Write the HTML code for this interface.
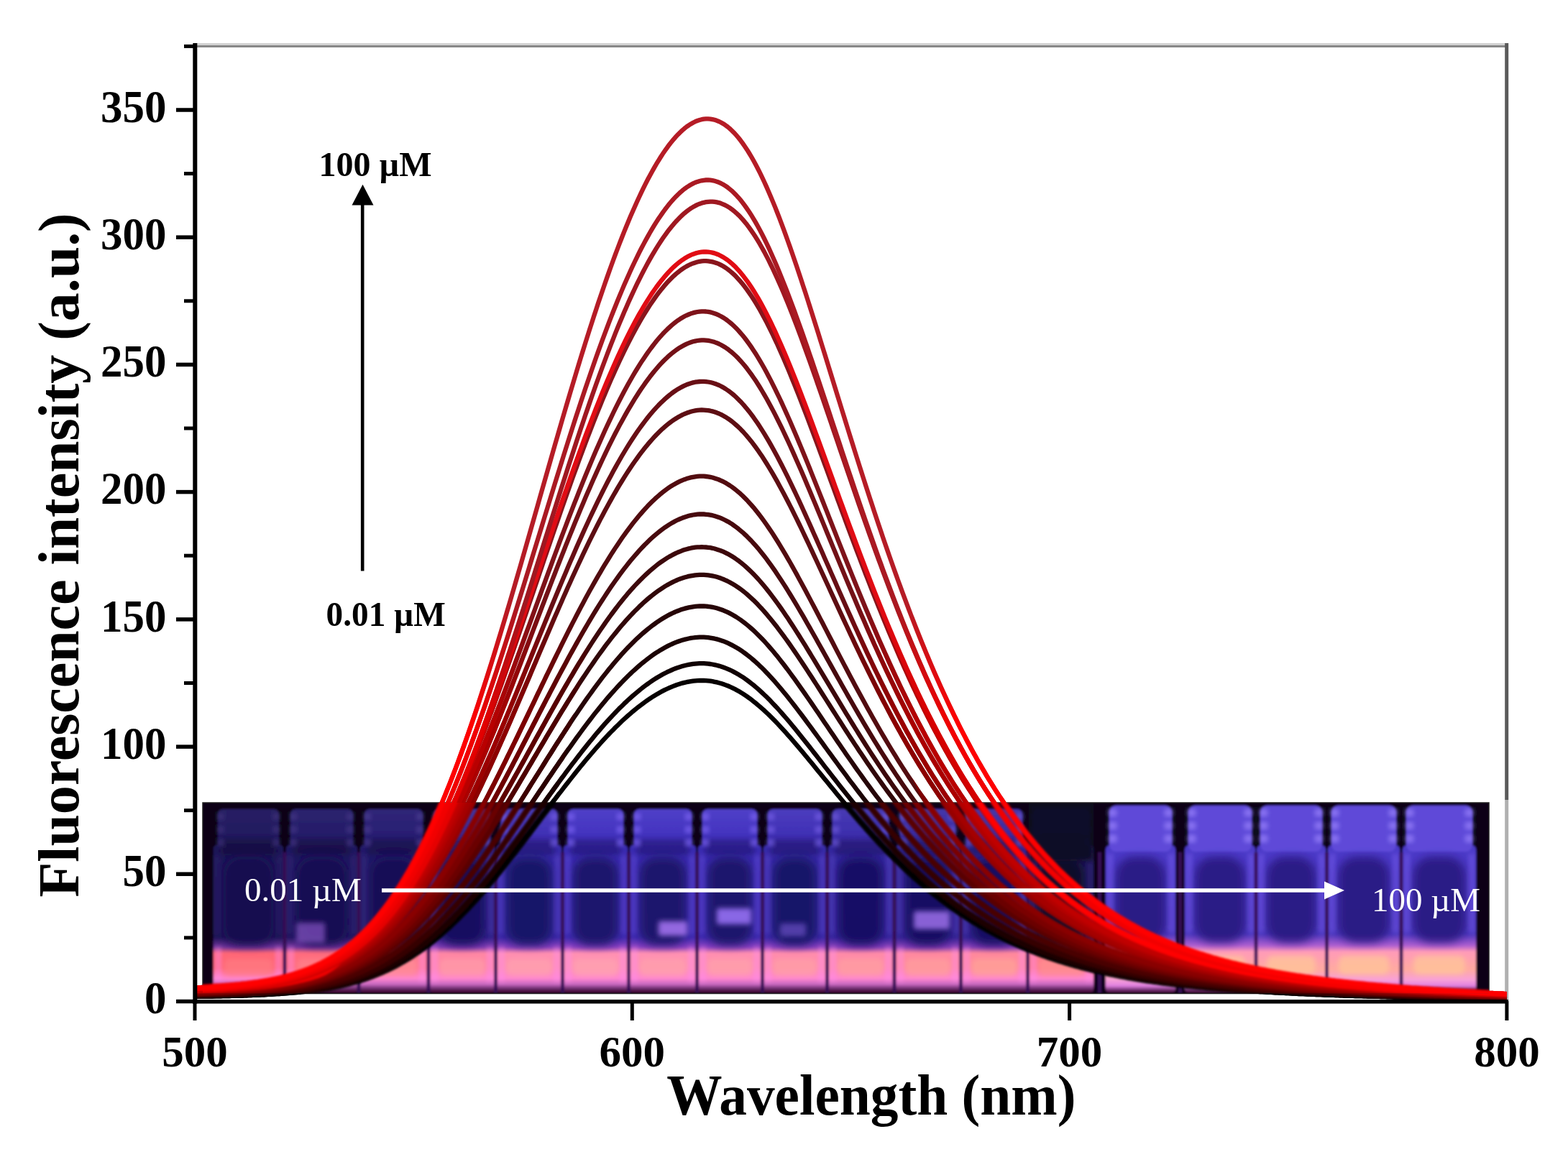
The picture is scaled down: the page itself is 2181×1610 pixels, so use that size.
<!DOCTYPE html>
<html><head><meta charset="utf-8"><style>
html,body{margin:0;padding:0;background:#fff;}
svg{display:block;}
.tl{font-family:"Liberation Serif",serif;font-weight:bold;font-size:61px;fill:#000;}
.ti{font-family:"Liberation Serif",serif;font-weight:bold;font-size:81px;fill:#000;}
.an{font-family:"Liberation Serif",serif;font-weight:bold;font-size:48px;fill:#000;}
.wh{font-family:"Liberation Serif",serif;font-size:47px;fill:#fff;}
</style></head><body>
<svg width="2181" height="1610" viewBox="0 0 2181 1610" xmlns="http://www.w3.org/2000/svg">
<defs>
<filter id="fb1" x="-5%" y="-5%" width="110%" height="110%"><feGaussianBlur stdDeviation="1.4"/></filter>
<filter id="fb3" x="-30%" y="-30%" width="160%" height="160%"><feGaussianBlur stdDeviation="3"/></filter>
<filter id="fb6" x="-40%" y="-40%" width="180%" height="180%"><feGaussianBlur stdDeviation="6"/></filter>
<linearGradient id="gl0" x1="0" y1="1176" x2="0" y2="1382" gradientUnits="userSpaceOnUse">
<stop offset="0" stop-color="#1d1658"/><stop offset="0.62" stop-color="#1e1557"/><stop offset="0.69" stop-color="#6e339a"/>
<stop offset="0.73" stop-color="#ff6676"/><stop offset="0.83" stop-color="#ff6676"/><stop offset="0.9" stop-color="#ff86d0"/>
<stop offset="0.94" stop-color="#c868c0"/><stop offset="0.97" stop-color="#6a2a6a"/><stop offset="1" stop-color="#300020"/></linearGradient>
<linearGradient id="cl0" x1="0" y1="1125" x2="0" y2="1190" gradientUnits="userSpaceOnUse">
<stop offset="0" stop-color="#282064"/><stop offset="0.5" stop-color="#221a60"/><stop offset="1" stop-color="#1a1354"/></linearGradient>
<linearGradient id="gl1" x1="0" y1="1176" x2="0" y2="1382" gradientUnits="userSpaceOnUse">
<stop offset="0" stop-color="#201861"/><stop offset="0.62" stop-color="#211760"/><stop offset="0.69" stop-color="#71349d"/>
<stop offset="0.73" stop-color="#ff6c7e"/><stop offset="0.83" stop-color="#ff6c7e"/><stop offset="0.9" stop-color="#ff86d0"/>
<stop offset="0.94" stop-color="#c868c0"/><stop offset="0.97" stop-color="#6a2a6a"/><stop offset="1" stop-color="#300020"/></linearGradient>
<linearGradient id="cl1" x1="0" y1="1125" x2="0" y2="1190" gradientUnits="userSpaceOnUse">
<stop offset="0" stop-color="#2c236e"/><stop offset="0.5" stop-color="#251d6a"/><stop offset="1" stop-color="#1d155c"/></linearGradient>
<linearGradient id="gl2" x1="0" y1="1176" x2="0" y2="1382" gradientUnits="userSpaceOnUse">
<stop offset="0" stop-color="#231a6a"/><stop offset="0.62" stop-color="#241968"/><stop offset="0.69" stop-color="#7436a1"/>
<stop offset="0.73" stop-color="#ff7890"/><stop offset="0.83" stop-color="#ff7890"/><stop offset="0.9" stop-color="#ff86d0"/>
<stop offset="0.94" stop-color="#c868c0"/><stop offset="0.97" stop-color="#6a2a6a"/><stop offset="1" stop-color="#300020"/></linearGradient>
<linearGradient id="cl2" x1="0" y1="1125" x2="0" y2="1190" gradientUnits="userSpaceOnUse">
<stop offset="0" stop-color="#302678"/><stop offset="0.5" stop-color="#291f73"/><stop offset="1" stop-color="#1f1765"/></linearGradient>
<linearGradient id="gl3" x1="0" y1="1176" x2="0" y2="1382" gradientUnits="userSpaceOnUse">
<stop offset="0" stop-color="#2e238d"/><stop offset="0.62" stop-color="#30228b"/><stop offset="0.69" stop-color="#7f3bb1"/>
<stop offset="0.73" stop-color="#ff86a4"/><stop offset="0.83" stop-color="#ff86a4"/><stop offset="0.9" stop-color="#ff86d0"/>
<stop offset="0.94" stop-color="#c868c0"/><stop offset="0.97" stop-color="#6a2a6a"/><stop offset="1" stop-color="#300020"/></linearGradient>
<linearGradient id="cl3" x1="0" y1="1125" x2="0" y2="1190" gradientUnits="userSpaceOnUse">
<stop offset="0" stop-color="#4033a0"/><stop offset="0.5" stop-color="#362a9a"/><stop offset="1" stop-color="#2a1e86"/></linearGradient>
<linearGradient id="gl4" x1="0" y1="1176" x2="0" y2="1382" gradientUnits="userSpaceOnUse">
<stop offset="0" stop-color="#372aa7"/><stop offset="0.62" stop-color="#3928a5"/><stop offset="0.69" stop-color="#873fbc"/>
<stop offset="0.73" stop-color="#ff8eb0"/><stop offset="0.83" stop-color="#ff8eb0"/><stop offset="0.9" stop-color="#ff86d0"/>
<stop offset="0.94" stop-color="#c868c0"/><stop offset="0.97" stop-color="#6a2a6a"/><stop offset="1" stop-color="#300020"/></linearGradient>
<linearGradient id="cl4" x1="0" y1="1125" x2="0" y2="1190" gradientUnits="userSpaceOnUse">
<stop offset="0" stop-color="#4c3dbe"/><stop offset="0.5" stop-color="#4131b6"/><stop offset="1" stop-color="#3124a0"/></linearGradient>
<linearGradient id="gl5" x1="0" y1="1176" x2="0" y2="1382" gradientUnits="userSpaceOnUse">
<stop offset="0" stop-color="#3a2cb0"/><stop offset="0.62" stop-color="#3c2aae"/><stop offset="0.69" stop-color="#8a40c0"/>
<stop offset="0.73" stop-color="#ff90b2"/><stop offset="0.83" stop-color="#ff90b2"/><stop offset="0.9" stop-color="#ff86d0"/>
<stop offset="0.94" stop-color="#c868c0"/><stop offset="0.97" stop-color="#6a2a6a"/><stop offset="1" stop-color="#300020"/></linearGradient>
<linearGradient id="cl5" x1="0" y1="1125" x2="0" y2="1190" gradientUnits="userSpaceOnUse">
<stop offset="0" stop-color="#5040c8"/><stop offset="0.5" stop-color="#4434c0"/><stop offset="1" stop-color="#3426a8"/></linearGradient>
<linearGradient id="gl6" x1="0" y1="1176" x2="0" y2="1382" gradientUnits="userSpaceOnUse">
<stop offset="0" stop-color="#3a2cb0"/><stop offset="0.62" stop-color="#3c2aae"/><stop offset="0.69" stop-color="#8a40c0"/>
<stop offset="0.73" stop-color="#ff90b2"/><stop offset="0.83" stop-color="#ff90b2"/><stop offset="0.9" stop-color="#ff86d0"/>
<stop offset="0.94" stop-color="#c868c0"/><stop offset="0.97" stop-color="#6a2a6a"/><stop offset="1" stop-color="#300020"/></linearGradient>
<linearGradient id="cl6" x1="0" y1="1125" x2="0" y2="1190" gradientUnits="userSpaceOnUse">
<stop offset="0" stop-color="#5040c8"/><stop offset="0.5" stop-color="#4434c0"/><stop offset="1" stop-color="#3426a8"/></linearGradient>
<linearGradient id="gl7" x1="0" y1="1176" x2="0" y2="1382" gradientUnits="userSpaceOnUse">
<stop offset="0" stop-color="#3a2cb0"/><stop offset="0.62" stop-color="#3c2aae"/><stop offset="0.69" stop-color="#8a40c0"/>
<stop offset="0.73" stop-color="#ff8eb0"/><stop offset="0.83" stop-color="#ff8eb0"/><stop offset="0.9" stop-color="#ff86d0"/>
<stop offset="0.94" stop-color="#c868c0"/><stop offset="0.97" stop-color="#6a2a6a"/><stop offset="1" stop-color="#300020"/></linearGradient>
<linearGradient id="cl7" x1="0" y1="1125" x2="0" y2="1190" gradientUnits="userSpaceOnUse">
<stop offset="0" stop-color="#5040c8"/><stop offset="0.5" stop-color="#4434c0"/><stop offset="1" stop-color="#3426a8"/></linearGradient>
<linearGradient id="gl8" x1="0" y1="1176" x2="0" y2="1382" gradientUnits="userSpaceOnUse">
<stop offset="0" stop-color="#372aa7"/><stop offset="0.62" stop-color="#3928a5"/><stop offset="0.69" stop-color="#873fbc"/>
<stop offset="0.73" stop-color="#ff8cac"/><stop offset="0.83" stop-color="#ff8cac"/><stop offset="0.9" stop-color="#ff86d0"/>
<stop offset="0.94" stop-color="#c868c0"/><stop offset="0.97" stop-color="#6a2a6a"/><stop offset="1" stop-color="#300020"/></linearGradient>
<linearGradient id="cl8" x1="0" y1="1125" x2="0" y2="1190" gradientUnits="userSpaceOnUse">
<stop offset="0" stop-color="#4c3dbe"/><stop offset="0.5" stop-color="#4131b6"/><stop offset="1" stop-color="#3124a0"/></linearGradient>
<linearGradient id="gl9" x1="0" y1="1176" x2="0" y2="1382" gradientUnits="userSpaceOnUse">
<stop offset="0" stop-color="#34289e"/><stop offset="0.62" stop-color="#36269d"/><stop offset="0.69" stop-color="#843db8"/>
<stop offset="0.73" stop-color="#ff8aa8"/><stop offset="0.83" stop-color="#ff8aa8"/><stop offset="0.9" stop-color="#ff86d0"/>
<stop offset="0.94" stop-color="#c868c0"/><stop offset="0.97" stop-color="#6a2a6a"/><stop offset="1" stop-color="#300020"/></linearGradient>
<linearGradient id="cl9" x1="0" y1="1125" x2="0" y2="1190" gradientUnits="userSpaceOnUse">
<stop offset="0" stop-color="#483ab4"/><stop offset="0.5" stop-color="#3d2fad"/><stop offset="1" stop-color="#2f2297"/></linearGradient>
<linearGradient id="gl10" x1="0" y1="1176" x2="0" y2="1382" gradientUnits="userSpaceOnUse">
<stop offset="0" stop-color="#312596"/><stop offset="0.62" stop-color="#332494"/><stop offset="0.69" stop-color="#823cb4"/>
<stop offset="0.73" stop-color="#ff88a0"/><stop offset="0.83" stop-color="#ff88a0"/><stop offset="0.9" stop-color="#ff86d0"/>
<stop offset="0.94" stop-color="#c868c0"/><stop offset="0.97" stop-color="#6a2a6a"/><stop offset="1" stop-color="#300020"/></linearGradient>
<linearGradient id="cl10" x1="0" y1="1125" x2="0" y2="1190" gradientUnits="userSpaceOnUse">
<stop offset="0" stop-color="#4436aa"/><stop offset="0.5" stop-color="#3a2ca3"/><stop offset="1" stop-color="#2c208f"/></linearGradient>
<linearGradient id="gl11" x1="0" y1="1176" x2="0" y2="1382" gradientUnits="userSpaceOnUse">
<stop offset="0" stop-color="#312596"/><stop offset="0.62" stop-color="#332494"/><stop offset="0.69" stop-color="#823cb4"/>
<stop offset="0.73" stop-color="#ff889c"/><stop offset="0.83" stop-color="#ff889c"/><stop offset="0.9" stop-color="#ff86d0"/>
<stop offset="0.94" stop-color="#c868c0"/><stop offset="0.97" stop-color="#6a2a6a"/><stop offset="1" stop-color="#300020"/></linearGradient>
<linearGradient id="cl11" x1="0" y1="1125" x2="0" y2="1190" gradientUnits="userSpaceOnUse">
<stop offset="0" stop-color="#4436aa"/><stop offset="0.5" stop-color="#3a2ca3"/><stop offset="1" stop-color="#2c208f"/></linearGradient>
<linearGradient id="gl12" x1="0" y1="1176" x2="0" y2="1382" gradientUnits="userSpaceOnUse">
<stop offset="0" stop-color="#201861"/><stop offset="0.62" stop-color="#211760"/><stop offset="0.69" stop-color="#71349d"/>
<stop offset="0.73" stop-color="#ff7a8c"/><stop offset="0.83" stop-color="#ff7a8c"/><stop offset="0.9" stop-color="#ff86d0"/>
<stop offset="0.94" stop-color="#c868c0"/><stop offset="0.97" stop-color="#6a2a6a"/><stop offset="1" stop-color="#300020"/></linearGradient>
<linearGradient id="cl12" x1="0" y1="1125" x2="0" y2="1190" gradientUnits="userSpaceOnUse">
<stop offset="0" stop-color="#2c236e"/><stop offset="0.5" stop-color="#251d6a"/><stop offset="1" stop-color="#1d155c"/></linearGradient>
<linearGradient id="gr0" x1="0" y1="1176" x2="0" y2="1382" gradientUnits="userSpaceOnUse">
<stop offset="0" stop-color="#4c3ac8"/><stop offset="0.6" stop-color="#4a36bc"/><stop offset="0.68" stop-color="#b060d0"/>
<stop offset="0.72" stop-color="#ff9ab8"/><stop offset="0.84" stop-color="#ffaaa0"/><stop offset="0.91" stop-color="#f8a0d8"/>
<stop offset="0.95" stop-color="#e080e0"/><stop offset="0.98" stop-color="#6a2a6a"/><stop offset="1" stop-color="#300020"/></linearGradient>
<linearGradient id="gr1" x1="0" y1="1176" x2="0" y2="1382" gradientUnits="userSpaceOnUse">
<stop offset="0" stop-color="#4c3ac8"/><stop offset="0.6" stop-color="#4a36bc"/><stop offset="0.68" stop-color="#b060d0"/>
<stop offset="0.72" stop-color="#ff9ab8"/><stop offset="0.84" stop-color="#ffaaa0"/><stop offset="0.91" stop-color="#f8a0d8"/>
<stop offset="0.95" stop-color="#e080e0"/><stop offset="0.98" stop-color="#6a2a6a"/><stop offset="1" stop-color="#300020"/></linearGradient>
<linearGradient id="gr2" x1="0" y1="1176" x2="0" y2="1382" gradientUnits="userSpaceOnUse">
<stop offset="0" stop-color="#4c3ac8"/><stop offset="0.6" stop-color="#4a36bc"/><stop offset="0.68" stop-color="#b060d0"/>
<stop offset="0.72" stop-color="#ff9ab8"/><stop offset="0.84" stop-color="#ffaaa0"/><stop offset="0.91" stop-color="#f8a0d8"/>
<stop offset="0.95" stop-color="#e080e0"/><stop offset="0.98" stop-color="#6a2a6a"/><stop offset="1" stop-color="#300020"/></linearGradient>
<linearGradient id="gr3" x1="0" y1="1176" x2="0" y2="1382" gradientUnits="userSpaceOnUse">
<stop offset="0" stop-color="#4c3ac8"/><stop offset="0.6" stop-color="#4a36bc"/><stop offset="0.68" stop-color="#b060d0"/>
<stop offset="0.72" stop-color="#ff9ab8"/><stop offset="0.84" stop-color="#ffaaa0"/><stop offset="0.91" stop-color="#f8a0d8"/>
<stop offset="0.95" stop-color="#e080e0"/><stop offset="0.98" stop-color="#6a2a6a"/><stop offset="1" stop-color="#300020"/></linearGradient>
<linearGradient id="gr4" x1="0" y1="1176" x2="0" y2="1382" gradientUnits="userSpaceOnUse">
<stop offset="0" stop-color="#4c3ac8"/><stop offset="0.6" stop-color="#4a36bc"/><stop offset="0.68" stop-color="#b060d0"/>
<stop offset="0.72" stop-color="#ff9ab8"/><stop offset="0.84" stop-color="#ffaaa0"/><stop offset="0.91" stop-color="#f8a0d8"/>
<stop offset="0.95" stop-color="#e080e0"/><stop offset="0.98" stop-color="#6a2a6a"/><stop offset="1" stop-color="#300020"/></linearGradient>
<polyline id="cv0" points="271.0,1374.4 274.0,1374.3 277.0,1374.1 280.0,1374.0 283.0,1373.8 286.0,1373.7 289.0,1373.5 292.0,1373.3 295.0,1373.1 298.0,1372.9 301.0,1372.7 304.0,1372.5 307.0,1372.3 310.0,1372.1 313.0,1371.9 316.0,1371.6 319.0,1371.4 322.0,1371.1 325.0,1370.9 328.0,1370.6 331.0,1370.3 334.0,1370.0 337.0,1369.6 340.0,1369.3 343.0,1369.0 346.0,1368.6 349.0,1368.2 352.0,1367.8 355.0,1367.4 358.0,1367.0 361.0,1366.5 364.0,1366.0 367.0,1365.5 370.0,1365.0 373.0,1364.5 376.0,1363.9 379.0,1363.3 382.0,1362.7 385.0,1362.1 388.0,1361.4 391.0,1360.7 394.0,1360.0 397.0,1359.2 400.0,1358.5 403.0,1357.6 406.0,1356.8 409.0,1355.9 412.0,1354.9 415.0,1354.0 418.0,1353.0 421.0,1351.9 424.0,1350.8 427.0,1349.7 430.0,1348.5 433.0,1347.2 436.0,1345.9 439.0,1344.6 442.0,1343.2 445.0,1341.8 448.0,1340.3 451.0,1338.7 454.0,1337.1 457.0,1335.4 460.0,1333.7 463.0,1331.8 466.0,1330.0 469.0,1328.0 472.0,1326.0 475.0,1323.9 478.0,1321.8 481.0,1319.5 484.0,1317.2 487.0,1314.8 490.0,1312.3 493.0,1309.8 496.0,1307.1 499.0,1304.4 502.0,1301.6 505.0,1298.7 508.0,1295.7 511.0,1292.6 514.0,1289.4 517.0,1286.1 520.0,1282.7 523.0,1279.2 526.0,1275.6 529.0,1271.9 532.0,1268.1 535.0,1264.2 538.0,1260.2 541.0,1256.1 544.0,1251.8 547.0,1247.5 550.0,1243.0 553.0,1238.4 556.0,1233.7 559.0,1228.9 562.0,1224.0 565.0,1218.9 568.0,1213.7 571.0,1208.4 574.0,1203.0 577.0,1197.5 580.0,1191.8 583.0,1186.0 586.0,1180.1 589.0,1174.0 592.0,1167.9 595.0,1161.6 598.0,1155.2 601.0,1148.6 604.0,1142.0 607.0,1135.2 610.0,1128.2 613.0,1121.2 616.0,1114.0 619.0,1106.7 622.0,1099.3 625.0,1091.8 628.0,1084.1 631.0,1076.4 634.0,1068.5 637.0,1060.5 640.0,1052.3 643.0,1044.1 646.0,1035.8 649.0,1027.3 652.0,1018.7 655.0,1010.0 658.0,1001.3 661.0,992.4 664.0,983.4 667.0,974.3 670.0,965.1 673.0,955.8 676.0,946.5 679.0,937.0 682.0,927.5 685.0,917.9 688.0,908.2 691.0,898.4 694.0,888.5 697.0,878.6 700.0,868.6 703.0,858.6 706.0,848.5 709.0,838.3 712.0,828.1 715.0,817.8 718.0,807.5 721.0,797.1 724.0,786.8 727.0,776.3 730.0,765.9 733.0,755.4 736.0,744.9 739.0,734.4 742.0,723.9 745.0,713.3 748.0,702.8 751.0,692.2 754.0,681.7 757.0,671.1 760.0,660.6 763.0,650.1 766.0,639.6 769.0,629.2 772.0,618.7 775.0,608.3 778.0,598.0 781.0,587.6 784.0,577.4 787.0,567.1 790.0,557.0 793.0,546.8 796.0,536.8 799.0,526.8 802.0,516.8 805.0,507.0 808.0,497.2 811.0,487.5 814.0,477.9 817.0,468.4 820.0,458.9 823.0,449.6 826.0,440.3 829.0,431.2 832.0,422.1 835.0,413.2 838.0,404.4 841.0,395.7 844.0,387.1 847.0,378.6 850.0,370.3 853.0,362.0 856.0,353.9 859.0,346.0 862.0,338.2 865.0,330.5 868.0,322.9 871.0,315.5 874.0,308.2 877.0,301.1 880.0,294.2 883.0,287.4 886.0,280.7 889.0,274.2 892.0,267.9 895.0,261.7 898.0,255.7 901.0,249.8 904.0,244.2 907.0,238.7 910.0,233.4 913.0,228.2 916.0,223.3 919.0,218.5 922.0,213.9 925.0,209.5 928.0,205.3 931.0,201.2 934.0,197.4 937.0,193.8 940.0,190.4 943.0,187.2 946.0,184.2 949.0,181.4 952.0,178.8 955.0,176.4 958.0,174.3 961.0,172.4 964.0,170.7 967.0,169.2 970.0,168.0 973.0,167.0 976.0,166.2 979.0,165.7 982.0,165.4 985.0,165.4 988.0,165.6 991.0,166.1 994.0,166.8 997.0,167.8 1000.0,169.0 1003.0,170.5 1006.0,172.2 1009.0,174.2 1012.0,176.4 1015.0,178.9 1018.0,181.7 1021.0,184.7 1024.0,188.0 1027.0,191.5 1030.0,195.3 1033.0,199.4 1036.0,203.7 1039.0,208.2 1042.0,213.0 1045.0,218.0 1048.0,223.3 1051.0,228.8 1054.0,234.5 1057.0,240.4 1060.0,246.6 1063.0,253.0 1066.0,259.6 1069.0,266.4 1072.0,273.4 1075.0,280.6 1078.0,287.9 1081.0,295.5 1084.0,303.2 1087.0,311.1 1090.0,319.1 1093.0,327.3 1096.0,335.7 1099.0,344.1 1102.0,352.7 1105.0,361.5 1108.0,370.3 1111.0,379.2 1114.0,388.3 1117.0,397.4 1120.0,406.6 1123.0,415.9 1126.0,425.3 1129.0,434.7 1132.0,444.2 1135.0,453.8 1138.0,463.3 1141.0,473.0 1144.0,482.6 1147.0,492.3 1150.0,502.0 1153.0,511.7 1156.0,521.5 1159.0,531.2 1162.0,541.0 1165.0,550.7 1168.0,560.4 1171.0,570.1 1174.0,579.8 1177.0,589.5 1180.0,599.1 1183.0,608.8 1186.0,618.3 1189.0,627.9 1192.0,637.4 1195.0,646.9 1198.0,656.3 1201.0,665.6 1204.0,675.0 1207.0,684.2 1210.0,693.4 1213.0,702.6 1216.0,711.7 1219.0,720.7 1222.0,729.7 1225.0,738.6 1228.0,747.4 1231.0,756.2 1234.0,764.9 1237.0,773.5 1240.0,782.0 1243.0,790.5 1246.0,798.9 1249.0,807.2 1252.0,815.4 1255.0,823.6 1258.0,831.7 1261.0,839.7 1264.0,847.6 1267.0,855.5 1270.0,863.2 1273.0,870.9 1276.0,878.5 1279.0,886.0 1282.0,893.5 1285.0,900.8 1288.0,908.1 1291.0,915.3 1294.0,922.4 1297.0,929.4 1300.0,936.4 1303.0,943.2 1306.0,950.0 1309.0,956.7 1312.0,963.3 1315.0,969.8 1318.0,976.3 1321.0,982.6 1324.0,988.9 1327.0,995.1 1330.0,1001.2 1333.0,1007.3 1336.0,1013.3 1339.0,1019.1 1342.0,1024.9 1345.0,1030.7 1348.0,1036.3 1351.0,1041.9 1354.0,1047.4 1357.0,1052.8 1360.0,1058.2 1363.0,1063.4 1366.0,1068.6 1369.0,1073.7 1372.0,1078.8 1375.0,1083.8 1378.0,1088.7 1381.0,1093.5 1384.0,1098.3 1387.0,1103.0 1390.0,1107.6 1393.0,1112.1 1396.0,1116.6 1399.0,1121.0 1402.0,1125.4 1405.0,1129.7 1408.0,1133.9 1411.0,1138.1 1414.0,1142.2 1417.0,1146.2 1420.0,1150.2 1423.0,1154.1 1426.0,1157.9 1429.0,1161.7 1432.0,1165.4 1435.0,1169.1 1438.0,1172.7 1441.0,1176.3 1444.0,1179.7 1447.0,1183.2 1450.0,1186.6 1453.0,1189.9 1456.0,1193.2 1459.0,1196.4 1462.0,1199.6 1465.0,1202.7 1468.0,1205.8 1471.0,1208.8 1474.0,1211.8 1477.0,1214.7 1480.0,1217.6 1483.0,1220.4 1486.0,1223.2 1489.0,1225.9 1492.0,1228.6 1495.0,1231.2 1498.0,1233.8 1501.0,1236.4 1504.0,1238.9 1507.0,1241.4 1510.0,1243.8 1513.0,1246.2 1516.0,1248.5 1519.0,1250.8 1522.0,1253.1 1525.0,1255.3 1528.0,1257.5 1531.0,1259.7 1534.0,1261.8 1537.0,1263.9 1540.0,1265.9 1543.0,1268.0 1546.0,1269.9 1549.0,1271.9 1552.0,1273.8 1555.0,1275.7 1558.0,1277.5 1561.0,1279.3 1564.0,1281.1 1567.0,1282.9 1570.0,1284.6 1573.0,1286.3 1576.0,1287.9 1579.0,1289.6 1582.0,1291.2 1585.0,1292.8 1588.0,1294.3 1591.0,1295.9 1594.0,1297.4 1597.0,1298.8 1600.0,1300.3 1603.0,1301.7 1606.0,1303.1 1609.0,1304.5 1612.0,1305.8 1615.0,1307.2 1618.0,1308.5 1621.0,1309.8 1624.0,1311.0 1627.0,1312.3 1630.0,1313.5 1633.0,1314.7 1636.0,1315.9 1639.0,1317.0 1642.0,1318.1 1645.0,1319.3 1648.0,1320.4 1651.0,1321.4 1654.0,1322.5 1657.0,1323.6 1660.0,1324.6 1663.0,1325.6 1666.0,1326.6 1669.0,1327.6 1672.0,1328.5 1675.0,1329.5 1678.0,1330.4 1681.0,1331.3 1684.0,1332.2 1687.0,1333.1 1690.0,1333.9 1693.0,1334.8 1696.0,1335.6 1699.0,1336.4 1702.0,1337.3 1705.0,1338.1 1708.0,1338.8 1711.0,1339.6 1714.0,1340.4 1717.0,1341.1 1720.0,1341.8 1723.0,1342.6 1726.0,1343.3 1729.0,1344.0 1732.0,1344.7 1735.0,1345.3 1738.0,1346.0 1741.0,1346.6 1744.0,1347.3 1747.0,1347.9 1750.0,1348.5 1753.0,1349.2 1756.0,1349.8 1759.0,1350.3 1762.0,1350.9 1765.0,1351.5 1768.0,1352.1 1771.0,1352.6 1774.0,1353.2 1777.0,1353.7 1780.0,1354.2 1783.0,1354.8 1786.0,1355.3 1789.0,1355.8 1792.0,1356.3 1795.0,1356.8 1798.0,1357.2 1801.0,1357.7 1804.0,1358.2 1807.0,1358.6 1810.0,1359.1 1813.0,1359.5 1816.0,1360.0 1819.0,1360.4 1822.0,1360.8 1825.0,1361.3 1828.0,1361.7 1831.0,1362.1 1834.0,1362.5 1837.0,1362.9 1840.0,1363.3 1843.0,1363.6 1846.0,1364.0 1849.0,1364.4 1852.0,1364.8 1855.0,1365.1 1858.0,1365.5 1861.0,1365.8 1864.0,1366.2 1867.0,1366.5 1870.0,1366.9 1873.0,1367.2 1876.0,1367.5 1879.0,1367.8 1882.0,1368.2 1885.0,1368.5 1888.0,1368.8 1891.0,1369.1 1894.0,1369.4 1897.0,1369.7 1900.0,1370.0 1903.0,1370.3 1906.0,1370.5 1909.0,1370.8 1912.0,1371.1 1915.0,1371.4 1918.0,1371.6 1921.0,1371.9 1924.0,1372.2 1927.0,1372.4 1930.0,1372.7 1933.0,1372.9 1936.0,1373.2 1939.0,1373.4 1942.0,1373.7 1945.0,1373.9 1948.0,1374.1 1951.0,1374.4 1954.0,1374.6 1957.0,1374.8 1960.0,1375.0 1963.0,1375.3 1966.0,1375.5 1969.0,1375.7 1972.0,1375.9 1975.0,1376.1 1978.0,1376.3 1981.0,1376.5 1984.0,1376.7 1987.0,1376.9 1990.0,1377.1 1993.0,1377.3 1996.0,1377.5 1999.0,1377.7 2002.0,1377.9 2005.0,1378.1 2008.0,1378.3 2011.0,1378.5 2014.0,1378.6 2017.0,1378.8 2020.0,1379.0 2023.0,1379.2 2026.0,1379.3 2029.0,1379.5 2032.0,1379.7 2035.0,1379.8 2038.0,1380.0 2041.0,1380.2 2044.0,1380.3 2047.0,1380.5 2050.0,1380.6 2053.0,1380.8 2056.0,1380.9 2059.0,1381.1 2062.0,1381.3 2065.0,1381.4 2068.0,1381.5 2071.0,1381.7 2074.0,1381.8 2077.0,1382.0 2080.0,1382.1 2083.0,1382.3 2086.0,1382.4 2089.0,1382.5 2092.0,1382.7 2095.0,1382.8 2095.5,1382.8"/>
<polyline id="cv1" points="271.0,1375.7 274.0,1375.6 277.0,1375.5 280.0,1375.3 283.0,1375.2 286.0,1375.0 289.0,1374.9 292.0,1374.7 295.0,1374.5 298.0,1374.4 301.0,1374.2 304.0,1374.0 307.0,1373.8 310.0,1373.6 313.0,1373.4 316.0,1373.1 319.0,1372.9 322.0,1372.7 325.0,1372.4 328.0,1372.2 331.0,1371.9 334.0,1371.6 337.0,1371.3 340.0,1371.0 343.0,1370.7 346.0,1370.3 349.0,1370.0 352.0,1369.6 355.0,1369.2 358.0,1368.8 361.0,1368.4 364.0,1367.9 367.0,1367.5 370.0,1367.0 373.0,1366.5 376.0,1366.0 379.0,1365.4 382.0,1364.9 385.0,1364.3 388.0,1363.6 391.0,1363.0 394.0,1362.3 397.0,1361.6 400.0,1360.9 403.0,1360.1 406.0,1359.3 409.0,1358.5 412.0,1357.6 415.0,1356.7 418.0,1355.8 421.0,1354.8 424.0,1353.8 427.0,1352.7 430.0,1351.6 433.0,1350.4 436.0,1349.2 439.0,1348.0 442.0,1346.7 445.0,1345.4 448.0,1344.0 451.0,1342.5 454.0,1341.0 457.0,1339.4 460.0,1337.8 463.0,1336.1 466.0,1334.4 469.0,1332.6 472.0,1330.7 475.0,1328.7 478.0,1326.7 481.0,1324.6 484.0,1322.5 487.0,1320.3 490.0,1318.0 493.0,1315.6 496.0,1313.1 499.0,1310.6 502.0,1308.0 505.0,1305.2 508.0,1302.4 511.0,1299.6 514.0,1296.6 517.0,1293.5 520.0,1290.4 523.0,1287.1 526.0,1283.8 529.0,1280.3 532.0,1276.8 535.0,1273.2 538.0,1269.4 541.0,1265.6 544.0,1261.6 547.0,1257.6 550.0,1253.4 553.0,1249.2 556.0,1244.8 559.0,1240.3 562.0,1235.7 565.0,1231.0 568.0,1226.2 571.0,1221.2 574.0,1216.2 577.0,1211.0 580.0,1205.8 583.0,1200.4 586.0,1194.9 589.0,1189.2 592.0,1183.5 595.0,1177.6 598.0,1171.7 601.0,1165.6 604.0,1159.4 607.0,1153.1 610.0,1146.6 613.0,1140.1 616.0,1133.4 619.0,1126.6 622.0,1119.7 625.0,1112.7 628.0,1105.6 631.0,1098.3 634.0,1091.0 637.0,1083.5 640.0,1076.0 643.0,1068.3 646.0,1060.5 649.0,1052.7 652.0,1044.7 655.0,1036.6 658.0,1028.4 661.0,1020.2 664.0,1011.8 667.0,1003.3 670.0,994.8 673.0,986.2 676.0,977.4 679.0,968.6 682.0,959.8 685.0,950.8 688.0,941.8 691.0,932.7 694.0,923.5 697.0,914.3 700.0,905.0 703.0,895.6 706.0,886.2 709.0,876.8 712.0,867.2 715.0,857.7 718.0,848.1 721.0,838.5 724.0,828.8 727.0,819.1 730.0,809.4 733.0,799.6 736.0,789.8 739.0,780.0 742.0,770.2 745.0,760.4 748.0,750.6 751.0,740.8 754.0,731.0 757.0,721.2 760.0,711.4 763.0,701.6 766.0,691.8 769.0,682.1 772.0,672.4 775.0,662.7 778.0,653.1 781.0,643.5 784.0,633.9 787.0,624.4 790.0,614.9 793.0,605.5 796.0,596.1 799.0,586.8 802.0,577.6 805.0,568.4 808.0,559.3 811.0,550.3 814.0,541.3 817.0,532.4 820.0,523.7 823.0,515.0 826.0,506.4 829.0,497.8 832.0,489.4 835.0,481.1 838.0,472.9 841.0,464.8 844.0,456.8 847.0,448.9 850.0,441.1 853.0,433.5 856.0,426.0 859.0,418.5 862.0,411.3 865.0,404.1 868.0,397.1 871.0,390.2 874.0,383.4 877.0,376.8 880.0,370.3 883.0,364.0 886.0,357.8 889.0,351.7 892.0,345.8 895.0,340.1 898.0,334.5 901.0,329.1 904.0,323.8 907.0,318.7 910.0,313.7 913.0,308.9 916.0,304.3 919.0,299.9 922.0,295.6 925.0,291.5 928.0,287.6 931.0,283.8 934.0,280.3 937.0,276.9 940.0,273.7 943.0,270.7 946.0,267.9 949.0,265.3 952.0,262.9 955.0,260.7 958.0,258.8 961.0,257.0 964.0,255.4 967.0,254.0 970.0,252.9 973.0,252.0 976.0,251.3 979.0,250.8 982.0,250.5 985.0,250.5 988.0,250.7 991.0,251.1 994.0,251.8 997.0,252.7 1000.0,253.8 1003.0,255.2 1006.0,256.8 1009.0,258.6 1012.0,260.7 1015.0,263.1 1018.0,265.6 1021.0,268.5 1024.0,271.5 1027.0,274.8 1030.0,278.3 1033.0,282.1 1036.0,286.1 1039.0,290.3 1042.0,294.7 1045.0,299.4 1048.0,304.3 1051.0,309.4 1054.0,314.8 1057.0,320.3 1060.0,326.0 1063.0,332.0 1066.0,338.1 1069.0,344.4 1072.0,351.0 1075.0,357.7 1078.0,364.5 1081.0,371.5 1084.0,378.7 1087.0,386.1 1090.0,393.6 1093.0,401.2 1096.0,408.9 1099.0,416.8 1102.0,424.8 1105.0,432.9 1108.0,441.2 1111.0,449.5 1114.0,457.9 1117.0,466.4 1120.0,475.0 1123.0,483.6 1126.0,492.4 1129.0,501.1 1132.0,510.0 1135.0,518.9 1138.0,527.8 1141.0,536.7 1144.0,545.7 1147.0,554.7 1150.0,563.8 1153.0,572.8 1156.0,581.9 1159.0,590.9 1162.0,600.0 1165.0,609.1 1168.0,618.1 1171.0,627.2 1174.0,636.2 1177.0,645.2 1180.0,654.2 1183.0,663.1 1186.0,672.0 1189.0,680.9 1192.0,689.8 1195.0,698.6 1198.0,707.3 1201.0,716.1 1204.0,724.7 1207.0,733.4 1210.0,741.9 1213.0,750.4 1216.0,758.9 1219.0,767.3 1222.0,775.7 1225.0,783.9 1228.0,792.2 1231.0,800.3 1234.0,808.4 1237.0,816.4 1240.0,824.4 1243.0,832.3 1246.0,840.1 1249.0,847.8 1252.0,855.5 1255.0,863.1 1258.0,870.6 1261.0,878.1 1264.0,885.4 1267.0,892.7 1270.0,900.0 1273.0,907.1 1276.0,914.2 1279.0,921.2 1282.0,928.1 1285.0,934.9 1288.0,941.7 1291.0,948.4 1294.0,955.0 1297.0,961.6 1300.0,968.0 1303.0,974.4 1306.0,980.7 1309.0,986.9 1312.0,993.1 1315.0,999.2 1318.0,1005.2 1321.0,1011.1 1324.0,1016.9 1327.0,1022.7 1330.0,1028.4 1333.0,1034.0 1336.0,1039.6 1339.0,1045.1 1342.0,1050.5 1345.0,1055.8 1348.0,1061.1 1351.0,1066.2 1354.0,1071.4 1357.0,1076.4 1360.0,1081.4 1363.0,1086.3 1366.0,1091.1 1369.0,1095.9 1372.0,1100.6 1375.0,1105.2 1378.0,1109.8 1381.0,1114.3 1384.0,1118.7 1387.0,1123.1 1390.0,1127.4 1393.0,1131.6 1396.0,1135.8 1399.0,1139.9 1402.0,1144.0 1405.0,1148.0 1408.0,1151.9 1411.0,1155.8 1414.0,1159.6 1417.0,1163.3 1420.0,1167.0 1423.0,1170.6 1426.0,1174.2 1429.0,1177.8 1432.0,1181.2 1435.0,1184.6 1438.0,1188.0 1441.0,1191.3 1444.0,1194.6 1447.0,1197.8 1450.0,1200.9 1453.0,1204.0 1456.0,1207.1 1459.0,1210.1 1462.0,1213.0 1465.0,1215.9 1468.0,1218.8 1471.0,1221.6 1474.0,1224.3 1477.0,1227.1 1480.0,1229.7 1483.0,1232.4 1486.0,1235.0 1489.0,1237.5 1492.0,1240.0 1495.0,1242.5 1498.0,1244.9 1501.0,1247.3 1504.0,1249.6 1507.0,1251.9 1510.0,1254.2 1513.0,1256.4 1516.0,1258.6 1519.0,1260.7 1522.0,1262.8 1525.0,1264.9 1528.0,1266.9 1531.0,1269.0 1534.0,1270.9 1537.0,1272.9 1540.0,1274.8 1543.0,1276.6 1546.0,1278.5 1549.0,1280.3 1552.0,1282.1 1555.0,1283.8 1558.0,1285.5 1561.0,1287.2 1564.0,1288.9 1567.0,1290.5 1570.0,1292.1 1573.0,1293.7 1576.0,1295.3 1579.0,1296.8 1582.0,1298.3 1585.0,1299.8 1588.0,1301.2 1591.0,1302.6 1594.0,1304.0 1597.0,1305.4 1600.0,1306.7 1603.0,1308.1 1606.0,1309.4 1609.0,1310.6 1612.0,1311.9 1615.0,1313.1 1618.0,1314.4 1621.0,1315.6 1624.0,1316.7 1627.0,1317.9 1630.0,1319.0 1633.0,1320.1 1636.0,1321.2 1639.0,1322.3 1642.0,1323.4 1645.0,1324.4 1648.0,1325.4 1651.0,1326.4 1654.0,1327.4 1657.0,1328.4 1660.0,1329.4 1663.0,1330.3 1666.0,1331.2 1669.0,1332.1 1672.0,1333.0 1675.0,1333.9 1678.0,1334.8 1681.0,1335.6 1684.0,1336.4 1687.0,1337.3 1690.0,1338.1 1693.0,1338.9 1696.0,1339.6 1699.0,1340.4 1702.0,1341.2 1705.0,1341.9 1708.0,1342.6 1711.0,1343.3 1714.0,1344.0 1717.0,1344.7 1720.0,1345.4 1723.0,1346.1 1726.0,1346.8 1729.0,1347.4 1732.0,1348.0 1735.0,1348.7 1738.0,1349.3 1741.0,1349.9 1744.0,1350.5 1747.0,1351.1 1750.0,1351.7 1753.0,1352.2 1756.0,1352.8 1759.0,1353.3 1762.0,1353.9 1765.0,1354.4 1768.0,1354.9 1771.0,1355.5 1774.0,1356.0 1777.0,1356.5 1780.0,1357.0 1783.0,1357.4 1786.0,1357.9 1789.0,1358.4 1792.0,1358.9 1795.0,1359.3 1798.0,1359.8 1801.0,1360.2 1804.0,1360.6 1807.0,1361.1 1810.0,1361.5 1813.0,1361.9 1816.0,1362.3 1819.0,1362.7 1822.0,1363.1 1825.0,1363.5 1828.0,1363.9 1831.0,1364.3 1834.0,1364.6 1837.0,1365.0 1840.0,1365.4 1843.0,1365.7 1846.0,1366.1 1849.0,1366.4 1852.0,1366.8 1855.0,1367.1 1858.0,1367.4 1861.0,1367.7 1864.0,1368.1 1867.0,1368.4 1870.0,1368.7 1873.0,1369.0 1876.0,1369.3 1879.0,1369.6 1882.0,1369.9 1885.0,1370.2 1888.0,1370.5 1891.0,1370.8 1894.0,1371.0 1897.0,1371.3 1900.0,1371.6 1903.0,1371.9 1906.0,1372.1 1909.0,1372.4 1912.0,1372.6 1915.0,1372.9 1918.0,1373.1 1921.0,1373.4 1924.0,1373.6 1927.0,1373.9 1930.0,1374.1 1933.0,1374.4 1936.0,1374.6 1939.0,1374.8 1942.0,1375.0 1945.0,1375.3 1948.0,1375.5 1951.0,1375.7 1954.0,1375.9 1957.0,1376.1 1960.0,1376.3 1963.0,1376.5 1966.0,1376.7 1969.0,1376.9 1972.0,1377.1 1975.0,1377.3 1978.0,1377.5 1981.0,1377.7 1984.0,1377.9 1987.0,1378.1 1990.0,1378.3 1993.0,1378.5 1996.0,1378.6 1999.0,1378.8 2002.0,1379.0 2005.0,1379.2 2008.0,1379.3 2011.0,1379.5 2014.0,1379.7 2017.0,1379.8 2020.0,1380.0 2023.0,1380.2 2026.0,1380.3 2029.0,1380.5 2032.0,1380.6 2035.0,1380.8 2038.0,1380.9 2041.0,1381.1 2044.0,1381.2 2047.0,1381.4 2050.0,1381.5 2053.0,1381.7 2056.0,1381.8 2059.0,1382.0 2062.0,1382.1 2065.0,1382.2 2068.0,1382.4 2071.0,1382.5 2074.0,1382.6 2077.0,1382.8 2080.0,1382.9 2083.0,1383.0 2086.0,1383.2 2089.0,1383.3 2092.0,1383.4 2095.0,1383.5 2095.5,1383.6"/>
<polyline id="cv2" points="271.0,1376.4 274.0,1376.3 277.0,1376.2 280.0,1376.0 283.0,1375.9 286.0,1375.8 289.0,1375.6 292.0,1375.5 295.0,1375.3 298.0,1375.2 301.0,1375.0 304.0,1374.8 307.0,1374.6 310.0,1374.4 313.0,1374.2 316.0,1374.0 319.0,1373.8 322.0,1373.6 325.0,1373.4 328.0,1373.1 331.0,1372.9 334.0,1372.6 337.0,1372.4 340.0,1372.1 343.0,1371.8 346.0,1371.5 349.0,1371.2 352.0,1370.8 355.0,1370.5 358.0,1370.1 361.0,1369.7 364.0,1369.3 367.0,1368.9 370.0,1368.5 373.0,1368.0 376.0,1367.5 379.0,1367.0 382.0,1366.5 385.0,1366.0 388.0,1365.4 391.0,1364.8 394.0,1364.2 397.0,1363.6 400.0,1362.9 403.0,1362.2 406.0,1361.5 409.0,1360.7 412.0,1359.9 415.0,1359.1 418.0,1358.3 421.0,1357.4 424.0,1356.4 427.0,1355.5 430.0,1354.5 433.0,1353.4 436.0,1352.3 439.0,1351.2 442.0,1350.0 445.0,1348.8 448.0,1347.5 451.0,1346.2 454.0,1344.8 457.0,1343.4 460.0,1341.9 463.0,1340.3 466.0,1338.7 469.0,1337.1 472.0,1335.3 475.0,1333.6 478.0,1331.7 481.0,1329.8 484.0,1327.8 487.0,1325.8 490.0,1323.7 493.0,1321.5 496.0,1319.2 499.0,1316.8 502.0,1314.4 505.0,1311.9 508.0,1309.3 511.0,1306.7 514.0,1303.9 517.0,1301.1 520.0,1298.2 523.0,1295.2 526.0,1292.1 529.0,1288.9 532.0,1285.6 535.0,1282.2 538.0,1278.7 541.0,1275.1 544.0,1271.5 547.0,1267.7 550.0,1263.8 553.0,1259.8 556.0,1255.7 559.0,1251.6 562.0,1247.3 565.0,1242.9 568.0,1238.3 571.0,1233.7 574.0,1229.0 577.0,1224.2 580.0,1219.2 583.0,1214.2 586.0,1209.0 589.0,1203.7 592.0,1198.3 595.0,1192.8 598.0,1187.2 601.0,1181.4 604.0,1175.6 607.0,1169.6 610.0,1163.5 613.0,1157.3 616.0,1151.0 619.0,1144.6 622.0,1138.1 625.0,1131.4 628.0,1124.7 631.0,1117.8 634.0,1110.8 637.0,1103.7 640.0,1096.6 643.0,1089.3 646.0,1081.9 649.0,1074.4 652.0,1066.8 655.0,1059.1 658.0,1051.3 661.0,1043.4 664.0,1035.4 667.0,1027.3 670.0,1019.1 673.0,1010.9 676.0,1002.5 679.0,994.1 682.0,985.6 685.0,977.0 688.0,968.3 691.0,959.5 694.0,950.7 697.0,941.8 700.0,932.9 703.0,923.9 706.0,914.8 709.0,905.7 712.0,896.5 715.0,887.3 718.0,878.0 721.0,868.7 724.0,859.3 727.0,849.9 730.0,840.5 733.0,831.1 736.0,821.6 739.0,812.1 742.0,802.6 745.0,793.0 748.0,783.5 751.0,773.9 754.0,764.4 757.0,754.8 760.0,745.3 763.0,735.7 766.0,726.2 769.0,716.7 772.0,707.2 775.0,697.7 778.0,688.3 781.0,678.8 784.0,669.5 787.0,660.1 790.0,650.8 793.0,641.6 796.0,632.4 799.0,623.2 802.0,614.1 805.0,605.1 808.0,596.1 811.0,587.2 814.0,578.3 817.0,569.6 820.0,560.9 823.0,552.3 826.0,543.8 829.0,535.3 832.0,527.0 835.0,518.7 838.0,510.5 841.0,502.5 844.0,494.5 847.0,486.7 850.0,478.9 853.0,471.3 856.0,463.7 859.0,456.3 862.0,449.0 865.0,441.9 868.0,434.8 871.0,427.9 874.0,421.1 877.0,414.4 880.0,407.9 883.0,401.5 886.0,395.2 889.0,389.1 892.0,383.1 895.0,377.3 898.0,371.6 901.0,366.0 904.0,360.6 907.0,355.4 910.0,350.3 913.0,345.4 916.0,340.6 919.0,336.0 922.0,331.6 925.0,327.3 928.0,323.2 931.0,319.2 934.0,315.5 937.0,311.9 940.0,308.5 943.0,305.3 946.0,302.2 949.0,299.4 952.0,296.7 955.0,294.3 958.0,292.0 961.0,289.9 964.0,288.1 967.0,286.4 970.0,284.9 973.0,283.7 976.0,282.6 979.0,281.8 982.0,281.2 985.0,280.8 988.0,280.6 991.0,280.6 994.0,280.9 997.0,281.4 1000.0,282.1 1003.0,283.1 1006.0,284.3 1009.0,285.7 1012.0,287.3 1015.0,289.2 1018.0,291.3 1021.0,293.7 1024.0,296.3 1027.0,299.1 1030.0,302.1 1033.0,305.4 1036.0,308.9 1039.0,312.6 1042.0,316.6 1045.0,320.8 1048.0,325.2 1051.0,329.8 1054.0,334.7 1057.0,339.7 1060.0,345.0 1063.0,350.4 1066.0,356.1 1069.0,361.9 1072.0,368.0 1075.0,374.2 1078.0,380.6 1081.0,387.2 1084.0,393.9 1087.0,400.8 1090.0,407.8 1093.0,415.0 1096.0,422.4 1099.0,429.8 1102.0,437.4 1105.0,445.1 1108.0,453.0 1111.0,460.9 1114.0,469.0 1117.0,477.1 1120.0,485.3 1123.0,493.6 1126.0,502.0 1129.0,510.4 1132.0,519.0 1135.0,527.5 1138.0,536.1 1141.0,544.8 1144.0,553.5 1147.0,562.2 1150.0,571.0 1153.0,579.8 1156.0,588.6 1159.0,597.4 1162.0,606.2 1165.0,615.0 1168.0,623.9 1171.0,632.7 1174.0,641.5 1177.0,650.3 1180.0,659.1 1183.0,667.8 1186.0,676.6 1189.0,685.3 1192.0,693.9 1195.0,702.6 1198.0,711.2 1201.0,719.7 1204.0,728.3 1207.0,736.7 1210.0,745.2 1213.0,753.5 1216.0,761.9 1219.0,770.1 1222.0,778.4 1225.0,786.5 1228.0,794.6 1231.0,802.7 1234.0,810.7 1237.0,818.6 1240.0,826.4 1243.0,834.2 1246.0,841.9 1249.0,849.6 1252.0,857.2 1255.0,864.7 1258.0,872.1 1261.0,879.5 1264.0,886.8 1267.0,894.0 1270.0,901.2 1273.0,908.3 1276.0,915.3 1279.0,922.2 1282.0,929.1 1285.0,935.9 1288.0,942.6 1291.0,949.2 1294.0,955.8 1297.0,962.3 1300.0,968.7 1303.0,975.0 1306.0,981.3 1309.0,987.5 1312.0,993.6 1315.0,999.7 1318.0,1005.6 1321.0,1011.5 1324.0,1017.3 1327.0,1023.1 1330.0,1028.7 1333.0,1034.3 1336.0,1039.9 1339.0,1045.3 1342.0,1050.7 1345.0,1056.0 1348.0,1061.2 1351.0,1066.4 1354.0,1071.5 1357.0,1076.5 1360.0,1081.5 1363.0,1086.4 1366.0,1091.2 1369.0,1096.0 1372.0,1100.6 1375.0,1105.3 1378.0,1109.8 1381.0,1114.3 1384.0,1118.7 1387.0,1123.1 1390.0,1127.4 1393.0,1131.6 1396.0,1135.8 1399.0,1139.9 1402.0,1143.9 1405.0,1147.9 1408.0,1151.8 1411.0,1155.7 1414.0,1159.5 1417.0,1163.3 1420.0,1167.0 1423.0,1170.6 1426.0,1174.2 1429.0,1177.7 1432.0,1181.2 1435.0,1184.6 1438.0,1187.9 1441.0,1191.2 1444.0,1194.5 1447.0,1197.7 1450.0,1200.8 1453.0,1203.9 1456.0,1207.0 1459.0,1210.0 1462.0,1213.0 1465.0,1215.9 1468.0,1218.7 1471.0,1221.5 1474.0,1224.3 1477.0,1227.0 1480.0,1229.7 1483.0,1232.3 1486.0,1234.9 1489.0,1237.5 1492.0,1240.0 1495.0,1242.4 1498.0,1244.9 1501.0,1247.2 1504.0,1249.6 1507.0,1251.9 1510.0,1254.1 1513.0,1256.4 1516.0,1258.6 1519.0,1260.7 1522.0,1262.8 1525.0,1264.9 1528.0,1267.0 1531.0,1269.0 1534.0,1270.9 1537.0,1272.9 1540.0,1274.8 1543.0,1276.7 1546.0,1278.5 1549.0,1280.3 1552.0,1282.1 1555.0,1283.9 1558.0,1285.6 1561.0,1287.3 1564.0,1288.9 1567.0,1290.6 1570.0,1292.2 1573.0,1293.8 1576.0,1295.3 1579.0,1296.8 1582.0,1298.3 1585.0,1299.8 1588.0,1301.3 1591.0,1302.7 1594.0,1304.1 1597.0,1305.5 1600.0,1306.8 1603.0,1308.1 1606.0,1309.5 1609.0,1310.7 1612.0,1312.0 1615.0,1313.2 1618.0,1314.5 1621.0,1315.7 1624.0,1316.8 1627.0,1318.0 1630.0,1319.1 1633.0,1320.2 1636.0,1321.3 1639.0,1322.4 1642.0,1323.5 1645.0,1324.5 1648.0,1325.6 1651.0,1326.6 1654.0,1327.6 1657.0,1328.5 1660.0,1329.5 1663.0,1330.4 1666.0,1331.3 1669.0,1332.3 1672.0,1333.2 1675.0,1334.0 1678.0,1334.9 1681.0,1335.7 1684.0,1336.6 1687.0,1337.4 1690.0,1338.2 1693.0,1339.0 1696.0,1339.8 1699.0,1340.6 1702.0,1341.3 1705.0,1342.0 1708.0,1342.8 1711.0,1343.5 1714.0,1344.2 1717.0,1344.9 1720.0,1345.6 1723.0,1346.2 1726.0,1346.9 1729.0,1347.6 1732.0,1348.2 1735.0,1348.8 1738.0,1349.4 1741.0,1350.0 1744.0,1350.6 1747.0,1351.2 1750.0,1351.8 1753.0,1352.4 1756.0,1352.9 1759.0,1353.5 1762.0,1354.0 1765.0,1354.6 1768.0,1355.1 1771.0,1355.6 1774.0,1356.1 1777.0,1356.6 1780.0,1357.1 1783.0,1357.6 1786.0,1358.1 1789.0,1358.5 1792.0,1359.0 1795.0,1359.5 1798.0,1359.9 1801.0,1360.4 1804.0,1360.8 1807.0,1361.2 1810.0,1361.6 1813.0,1362.1 1816.0,1362.5 1819.0,1362.9 1822.0,1363.3 1825.0,1363.6 1828.0,1364.0 1831.0,1364.4 1834.0,1364.8 1837.0,1365.1 1840.0,1365.5 1843.0,1365.9 1846.0,1366.2 1849.0,1366.6 1852.0,1366.9 1855.0,1367.2 1858.0,1367.6 1861.0,1367.9 1864.0,1368.2 1867.0,1368.5 1870.0,1368.8 1873.0,1369.2 1876.0,1369.5 1879.0,1369.8 1882.0,1370.0 1885.0,1370.3 1888.0,1370.6 1891.0,1370.9 1894.0,1371.2 1897.0,1371.5 1900.0,1371.7 1903.0,1372.0 1906.0,1372.3 1909.0,1372.5 1912.0,1372.8 1915.0,1373.0 1918.0,1373.3 1921.0,1373.5 1924.0,1373.8 1927.0,1374.0 1930.0,1374.2 1933.0,1374.5 1936.0,1374.7 1939.0,1374.9 1942.0,1375.2 1945.0,1375.4 1948.0,1375.6 1951.0,1375.8 1954.0,1376.0 1957.0,1376.2 1960.0,1376.4 1963.0,1376.6 1966.0,1376.8 1969.0,1377.0 1972.0,1377.2 1975.0,1377.4 1978.0,1377.6 1981.0,1377.8 1984.0,1378.0 1987.0,1378.2 1990.0,1378.4 1993.0,1378.6 1996.0,1378.7 1999.0,1378.9 2002.0,1379.1 2005.0,1379.3 2008.0,1379.4 2011.0,1379.6 2014.0,1379.8 2017.0,1379.9 2020.0,1380.1 2023.0,1380.2 2026.0,1380.4 2029.0,1380.6 2032.0,1380.7 2035.0,1380.9 2038.0,1381.0 2041.0,1381.2 2044.0,1381.3 2047.0,1381.5 2050.0,1381.6 2053.0,1381.8 2056.0,1381.9 2059.0,1382.0 2062.0,1382.2 2065.0,1382.3 2068.0,1382.4 2071.0,1382.6 2074.0,1382.7 2077.0,1382.8 2080.0,1383.0 2083.0,1383.1 2086.0,1383.2 2089.0,1383.4 2092.0,1383.5 2095.0,1383.6 2095.5,1383.6"/>
<polyline id="cv3" points="271.0,1377.2 274.0,1377.1 277.0,1376.9 280.0,1376.8 283.0,1376.6 286.0,1376.5 289.0,1376.4 292.0,1376.2 295.0,1376.0 298.0,1375.9 301.0,1375.7 304.0,1375.5 307.0,1375.3 310.0,1375.1 313.0,1374.9 316.0,1374.7 319.0,1374.5 322.0,1374.3 325.0,1374.0 328.0,1373.8 331.0,1373.5 334.0,1373.2 337.0,1373.0 340.0,1372.7 343.0,1372.3 346.0,1372.0 349.0,1371.7 352.0,1371.3 355.0,1371.0 358.0,1370.6 361.0,1370.2 364.0,1369.8 367.0,1369.3 370.0,1368.9 373.0,1368.4 376.0,1367.9 379.0,1367.4 382.0,1366.8 385.0,1366.3 388.0,1365.7 391.0,1365.0 394.0,1364.4 397.0,1363.7 400.0,1363.0 403.0,1362.3 406.0,1361.5 409.0,1360.8 412.0,1359.9 415.0,1359.1 418.0,1358.2 421.0,1357.2 424.0,1356.3 427.0,1355.3 430.0,1354.2 433.0,1353.1 436.0,1352.0 439.0,1350.8 442.0,1349.6 445.0,1348.3 448.0,1347.0 451.0,1345.6 454.0,1344.2 457.0,1342.7 460.0,1341.1 463.0,1339.5 466.0,1337.9 469.0,1336.2 472.0,1334.4 475.0,1332.6 478.0,1330.7 481.0,1328.7 484.0,1326.7 487.0,1324.6 490.0,1322.4 493.0,1320.1 496.0,1317.8 499.0,1315.4 502.0,1313.0 505.0,1310.4 508.0,1307.8 511.0,1305.1 514.0,1302.3 517.0,1299.4 520.0,1296.4 523.0,1293.4 526.0,1290.2 529.0,1287.0 532.0,1283.7 535.0,1280.3 538.0,1276.8 541.0,1273.2 544.0,1269.5 547.0,1265.7 550.0,1261.8 553.0,1257.8 556.0,1253.7 559.0,1249.5 562.0,1245.2 565.0,1240.8 568.0,1236.3 571.0,1231.7 574.0,1227.0 577.0,1222.2 580.0,1217.3 583.0,1212.2 586.0,1207.1 589.0,1201.9 592.0,1196.5 595.0,1191.1 598.0,1185.5 601.0,1179.9 604.0,1174.1 607.0,1168.2 610.0,1162.2 613.0,1156.1 616.0,1149.9 619.0,1143.6 622.0,1137.3 625.0,1130.8 628.0,1124.1 631.0,1117.4 634.0,1110.6 637.0,1103.7 640.0,1096.7 643.0,1089.7 646.0,1082.5 649.0,1075.2 652.0,1067.8 655.0,1060.4 658.0,1052.8 661.0,1045.2 664.0,1037.5 667.0,1029.7 670.0,1021.8 673.0,1013.8 676.0,1005.8 679.0,997.7 682.0,989.5 685.0,981.3 688.0,973.0 691.0,964.6 694.0,956.2 697.0,947.7 700.0,939.2 703.0,930.6 706.0,921.9 709.0,913.3 712.0,904.5 715.0,895.8 718.0,887.0 721.0,878.2 724.0,869.3 727.0,860.4 730.0,851.5 733.0,842.6 736.0,833.7 739.0,824.7 742.0,815.8 745.0,806.8 748.0,797.9 751.0,788.9 754.0,780.0 757.0,771.0 760.0,762.1 763.0,753.2 766.0,744.3 769.0,735.5 772.0,726.6 775.0,717.8 778.0,709.0 781.0,700.3 784.0,691.6 787.0,683.0 790.0,674.4 793.0,665.8 796.0,657.3 799.0,648.9 802.0,640.5 805.0,632.2 808.0,624.0 811.0,615.8 814.0,607.7 817.0,599.7 820.0,591.8 823.0,583.9 826.0,576.2 829.0,568.5 832.0,560.9 835.0,553.4 838.0,546.0 841.0,538.7 844.0,531.5 847.0,524.4 850.0,517.4 853.0,510.6 856.0,503.8 859.0,497.1 862.0,490.6 865.0,484.2 868.0,477.9 871.0,471.7 874.0,465.7 877.0,459.8 880.0,454.0 883.0,448.3 886.0,442.8 889.0,437.4 892.0,432.2 895.0,427.1 898.0,422.1 901.0,417.3 904.0,412.6 907.0,408.1 910.0,403.8 913.0,399.5 916.0,395.5 919.0,391.6 922.0,387.9 925.0,384.3 928.0,380.9 931.0,377.6 934.0,374.5 937.0,371.6 940.0,368.9 943.0,366.4 946.0,364.0 949.0,361.8 952.0,359.8 955.0,358.0 958.0,356.3 961.0,354.9 964.0,353.7 967.0,352.6 970.0,351.8 973.0,351.1 976.0,350.7 979.0,350.5 982.0,350.4 985.0,350.6 988.0,351.0 991.0,351.6 994.0,352.4 997.0,353.5 1000.0,354.7 1003.0,356.2 1006.0,357.9 1009.0,359.8 1012.0,361.9 1015.0,364.3 1018.0,366.8 1021.0,369.6 1024.0,372.6 1027.0,375.8 1030.0,379.3 1033.0,382.9 1036.0,386.8 1039.0,390.8 1042.0,395.1 1045.0,399.6 1048.0,404.2 1051.0,409.1 1054.0,414.1 1057.0,419.4 1060.0,424.8 1063.0,430.4 1066.0,436.2 1069.0,442.1 1072.0,448.2 1075.0,454.5 1078.0,460.9 1081.0,467.5 1084.0,474.2 1087.0,481.0 1090.0,487.9 1093.0,495.0 1096.0,502.2 1099.0,509.5 1102.0,516.9 1105.0,524.4 1108.0,532.0 1111.0,539.7 1114.0,547.5 1117.0,555.3 1120.0,563.2 1123.0,571.2 1126.0,579.2 1129.0,587.2 1132.0,595.3 1135.0,603.5 1138.0,611.7 1141.0,619.9 1144.0,628.1 1147.0,636.3 1150.0,644.6 1153.0,652.8 1156.0,661.1 1159.0,669.4 1162.0,677.7 1165.0,685.9 1168.0,694.2 1171.0,702.4 1174.0,710.6 1177.0,718.8 1180.0,727.0 1183.0,735.1 1186.0,743.2 1189.0,751.3 1192.0,759.3 1195.0,767.3 1198.0,775.3 1201.0,783.2 1204.0,791.1 1207.0,798.9 1210.0,806.7 1213.0,814.4 1216.0,822.1 1219.0,829.7 1222.0,837.2 1225.0,844.7 1228.0,852.2 1231.0,859.6 1234.0,866.9 1237.0,874.1 1240.0,881.3 1243.0,888.5 1246.0,895.5 1249.0,902.5 1252.0,909.5 1255.0,916.3 1258.0,923.1 1261.0,929.9 1264.0,936.5 1267.0,943.1 1270.0,949.6 1273.0,956.1 1276.0,962.5 1279.0,968.8 1282.0,975.0 1285.0,981.2 1288.0,987.3 1291.0,993.4 1294.0,999.3 1297.0,1005.2 1300.0,1011.0 1303.0,1016.8 1306.0,1022.5 1309.0,1028.1 1312.0,1033.6 1315.0,1039.1 1318.0,1044.5 1321.0,1049.9 1324.0,1055.1 1327.0,1060.3 1330.0,1065.5 1333.0,1070.5 1336.0,1075.5 1339.0,1080.5 1342.0,1085.3 1345.0,1090.1 1348.0,1094.9 1351.0,1099.5 1354.0,1104.1 1357.0,1108.7 1360.0,1113.2 1363.0,1117.6 1366.0,1121.9 1369.0,1126.2 1372.0,1130.4 1375.0,1134.6 1378.0,1138.7 1381.0,1142.7 1384.0,1146.7 1387.0,1150.7 1390.0,1154.5 1393.0,1158.3 1396.0,1162.1 1399.0,1165.8 1402.0,1169.4 1405.0,1173.0 1408.0,1176.5 1411.0,1180.0 1414.0,1183.4 1417.0,1186.8 1420.0,1190.1 1423.0,1193.4 1426.0,1196.6 1429.0,1199.8 1432.0,1202.9 1435.0,1206.0 1438.0,1209.0 1441.0,1212.0 1444.0,1214.9 1447.0,1217.7 1450.0,1220.6 1453.0,1223.4 1456.0,1226.1 1459.0,1228.8 1462.0,1231.4 1465.0,1234.1 1468.0,1236.6 1471.0,1239.1 1474.0,1241.6 1477.0,1244.1 1480.0,1246.5 1483.0,1248.8 1486.0,1251.1 1489.0,1253.4 1492.0,1255.7 1495.0,1257.9 1498.0,1260.0 1501.0,1262.2 1504.0,1264.3 1507.0,1266.3 1510.0,1268.4 1513.0,1270.4 1516.0,1272.3 1519.0,1274.3 1522.0,1276.2 1525.0,1278.0 1528.0,1279.8 1531.0,1281.6 1534.0,1283.4 1537.0,1285.2 1540.0,1286.9 1543.0,1288.5 1546.0,1290.2 1549.0,1291.8 1552.0,1293.4 1555.0,1295.0 1558.0,1296.5 1561.0,1298.0 1564.0,1299.5 1567.0,1301.0 1570.0,1302.4 1573.0,1303.9 1576.0,1305.2 1579.0,1306.6 1582.0,1307.9 1585.0,1309.3 1588.0,1310.6 1591.0,1311.8 1594.0,1313.1 1597.0,1314.3 1600.0,1315.5 1603.0,1316.7 1606.0,1317.9 1609.0,1319.0 1612.0,1320.2 1615.0,1321.3 1618.0,1322.4 1621.0,1323.4 1624.0,1324.5 1627.0,1325.5 1630.0,1326.5 1633.0,1327.5 1636.0,1328.5 1639.0,1329.5 1642.0,1330.4 1645.0,1331.4 1648.0,1332.3 1651.0,1333.2 1654.0,1334.1 1657.0,1335.0 1660.0,1335.8 1663.0,1336.7 1666.0,1337.5 1669.0,1338.3 1672.0,1339.1 1675.0,1339.9 1678.0,1340.7 1681.0,1341.4 1684.0,1342.2 1687.0,1342.9 1690.0,1343.6 1693.0,1344.3 1696.0,1345.0 1699.0,1345.7 1702.0,1346.4 1705.0,1347.1 1708.0,1347.7 1711.0,1348.4 1714.0,1349.0 1717.0,1349.6 1720.0,1350.2 1723.0,1350.8 1726.0,1351.4 1729.0,1352.0 1732.0,1352.6 1735.0,1353.1 1738.0,1353.7 1741.0,1354.2 1744.0,1354.8 1747.0,1355.3 1750.0,1355.8 1753.0,1356.3 1756.0,1356.8 1759.0,1357.3 1762.0,1357.8 1765.0,1358.3 1768.0,1358.8 1771.0,1359.2 1774.0,1359.7 1777.0,1360.2 1780.0,1360.6 1783.0,1361.0 1786.0,1361.5 1789.0,1361.9 1792.0,1362.3 1795.0,1362.7 1798.0,1363.1 1801.0,1363.5 1804.0,1363.9 1807.0,1364.3 1810.0,1364.7 1813.0,1365.0 1816.0,1365.4 1819.0,1365.8 1822.0,1366.1 1825.0,1366.5 1828.0,1366.8 1831.0,1367.2 1834.0,1367.5 1837.0,1367.8 1840.0,1368.1 1843.0,1368.5 1846.0,1368.8 1849.0,1369.1 1852.0,1369.4 1855.0,1369.7 1858.0,1370.0 1861.0,1370.3 1864.0,1370.6 1867.0,1370.9 1870.0,1371.2 1873.0,1371.4 1876.0,1371.7 1879.0,1372.0 1882.0,1372.2 1885.0,1372.5 1888.0,1372.8 1891.0,1373.0 1894.0,1373.3 1897.0,1373.5 1900.0,1373.8 1903.0,1374.0 1906.0,1374.2 1909.0,1374.5 1912.0,1374.7 1915.0,1374.9 1918.0,1375.2 1921.0,1375.4 1924.0,1375.6 1927.0,1375.8 1930.0,1376.0 1933.0,1376.2 1936.0,1376.4 1939.0,1376.6 1942.0,1376.9 1945.0,1377.1 1948.0,1377.2 1951.0,1377.4 1954.0,1377.6 1957.0,1377.8 1960.0,1378.0 1963.0,1378.2 1966.0,1378.4 1969.0,1378.6 1972.0,1378.7 1975.0,1378.9 1978.0,1379.1 1981.0,1379.3 1984.0,1379.4 1987.0,1379.6 1990.0,1379.8 1993.0,1379.9 1996.0,1380.1 1999.0,1380.3 2002.0,1380.4 2005.0,1380.6 2008.0,1380.7 2011.0,1380.9 2014.0,1381.0 2017.0,1381.2 2020.0,1381.3 2023.0,1381.5 2026.0,1381.6 2029.0,1381.8 2032.0,1381.9 2035.0,1382.0 2038.0,1382.2 2041.0,1382.3 2044.0,1382.4 2047.0,1382.6 2050.0,1382.7 2053.0,1382.8 2056.0,1383.0 2059.0,1383.1 2062.0,1383.2 2065.0,1383.3 2068.0,1383.5 2071.0,1383.6 2074.0,1383.7 2077.0,1383.8 2080.0,1384.0 2083.0,1384.1 2086.0,1384.2 2089.0,1384.3 2092.0,1384.4 2095.0,1384.5 2095.5,1384.5"/>
<polyline id="cv4" points="271.0,1377.4 274.0,1377.3 277.0,1377.1 280.0,1377.0 283.0,1376.9 286.0,1376.7 289.0,1376.6 292.0,1376.4 295.0,1376.3 298.0,1376.1 301.0,1375.9 304.0,1375.7 307.0,1375.6 310.0,1375.4 313.0,1375.2 316.0,1374.9 319.0,1374.7 322.0,1374.5 325.0,1374.3 328.0,1374.0 331.0,1373.8 334.0,1373.5 337.0,1373.2 340.0,1372.9 343.0,1372.6 346.0,1372.3 349.0,1371.9 352.0,1371.6 355.0,1371.2 358.0,1370.9 361.0,1370.5 364.0,1370.0 367.0,1369.6 370.0,1369.2 373.0,1368.7 376.0,1368.2 379.0,1367.7 382.0,1367.1 385.0,1366.6 388.0,1366.0 391.0,1365.4 394.0,1364.8 397.0,1364.1 400.0,1363.4 403.0,1362.7 406.0,1361.9 409.0,1361.2 412.0,1360.3 415.0,1359.5 418.0,1358.6 421.0,1357.7 424.0,1356.7 427.0,1355.7 430.0,1354.7 433.0,1353.6 436.0,1352.5 439.0,1351.3 442.0,1350.1 445.0,1348.8 448.0,1347.5 451.0,1346.2 454.0,1344.8 457.0,1343.3 460.0,1341.8 463.0,1340.2 466.0,1338.6 469.0,1336.9 472.0,1335.1 475.0,1333.3 478.0,1331.4 481.0,1329.5 484.0,1327.5 487.0,1325.4 490.0,1323.3 493.0,1321.0 496.0,1318.8 499.0,1316.4 502.0,1313.9 505.0,1311.4 508.0,1308.8 511.0,1306.2 514.0,1303.4 517.0,1300.5 520.0,1297.6 523.0,1294.6 526.0,1291.5 529.0,1288.3 532.0,1285.0 535.0,1281.7 538.0,1278.2 541.0,1274.6 544.0,1271.0 547.0,1267.2 550.0,1263.4 553.0,1259.4 556.0,1255.4 559.0,1251.3 562.0,1247.0 565.0,1242.7 568.0,1238.2 571.0,1233.7 574.0,1229.0 577.0,1224.3 580.0,1219.4 583.0,1214.5 586.0,1209.4 589.0,1204.2 592.0,1198.9 595.0,1193.5 598.0,1188.1 601.0,1182.5 604.0,1176.8 607.0,1171.0 610.0,1165.1 613.0,1159.0 616.0,1152.9 619.0,1146.7 622.0,1140.4 625.0,1134.0 628.0,1127.4 631.0,1120.8 634.0,1114.1 637.0,1107.3 640.0,1100.4 643.0,1093.4 646.0,1086.3 649.0,1079.1 652.0,1071.8 655.0,1064.4 658.0,1057.0 661.0,1049.4 664.0,1041.8 667.0,1034.1 670.0,1026.3 673.0,1018.5 676.0,1010.5 679.0,1002.5 682.0,994.5 685.0,986.3 688.0,978.1 691.0,969.8 694.0,961.5 697.0,953.1 700.0,944.7 703.0,936.2 706.0,927.7 709.0,919.1 712.0,910.5 715.0,901.9 718.0,893.2 721.0,884.5 724.0,875.7 727.0,867.0 730.0,858.2 733.0,849.4 736.0,840.5 739.0,831.7 742.0,822.9 745.0,814.0 748.0,805.2 751.0,796.3 754.0,787.5 757.0,778.6 760.0,769.8 763.0,761.0 766.0,752.3 769.0,743.5 772.0,734.8 775.0,726.1 778.0,717.4 781.0,708.8 784.0,700.2 787.0,691.7 790.0,683.2 793.0,674.7 796.0,666.3 799.0,658.0 802.0,649.8 805.0,641.5 808.0,633.4 811.0,625.3 814.0,617.3 817.0,609.4 820.0,601.6 823.0,593.8 826.0,586.2 829.0,578.6 832.0,571.1 835.0,563.7 838.0,556.4 841.0,549.2 844.0,542.1 847.0,535.0 850.0,528.1 853.0,521.4 856.0,514.7 859.0,508.1 862.0,501.7 865.0,495.3 868.0,489.1 871.0,483.0 874.0,477.0 877.0,471.2 880.0,465.5 883.0,459.9 886.0,454.5 889.0,449.1 892.0,444.0 895.0,438.9 898.0,434.0 901.0,429.3 904.0,424.6 907.0,420.2 910.0,415.9 913.0,411.7 916.0,407.7 919.0,403.8 922.0,400.2 925.0,396.6 928.0,393.2 931.0,390.0 934.0,387.0 937.0,384.1 940.0,381.4 943.0,378.9 946.0,376.6 949.0,374.4 952.0,372.4 955.0,370.6 958.0,369.0 961.0,367.6 964.0,366.4 967.0,365.4 970.0,364.5 973.0,363.9 976.0,363.4 979.0,363.2 982.0,363.2 985.0,363.4 988.0,363.8 991.0,364.4 994.0,365.2 997.0,366.2 1000.0,367.4 1003.0,368.9 1006.0,370.5 1009.0,372.4 1012.0,374.5 1015.0,376.9 1018.0,379.4 1021.0,382.1 1024.0,385.1 1027.0,388.3 1030.0,391.7 1033.0,395.3 1036.0,399.1 1039.0,403.1 1042.0,407.3 1045.0,411.7 1048.0,416.3 1051.0,421.1 1054.0,426.1 1057.0,431.3 1060.0,436.7 1063.0,442.2 1066.0,447.9 1069.0,453.8 1072.0,459.8 1075.0,466.0 1078.0,472.3 1081.0,478.8 1084.0,485.4 1087.0,492.1 1090.0,499.0 1093.0,506.0 1096.0,513.1 1099.0,520.3 1102.0,527.7 1105.0,535.1 1108.0,542.6 1111.0,550.2 1114.0,557.8 1117.0,565.6 1120.0,573.4 1123.0,581.2 1126.0,589.1 1129.0,597.1 1132.0,605.1 1135.0,613.1 1138.0,621.2 1141.0,629.3 1144.0,637.4 1147.0,645.6 1150.0,653.7 1153.0,661.9 1156.0,670.1 1159.0,678.2 1162.0,686.4 1165.0,694.6 1168.0,702.7 1171.0,710.9 1174.0,719.0 1177.0,727.1 1180.0,735.1 1183.0,743.2 1186.0,751.2 1189.0,759.2 1192.0,767.1 1195.0,775.0 1198.0,782.9 1201.0,790.7 1204.0,798.5 1207.0,806.2 1210.0,813.9 1213.0,821.5 1216.0,829.1 1219.0,836.6 1222.0,844.0 1225.0,851.4 1228.0,858.8 1231.0,866.1 1234.0,873.3 1237.0,880.5 1240.0,887.6 1243.0,894.6 1246.0,901.6 1249.0,908.5 1252.0,915.4 1255.0,922.2 1258.0,928.9 1261.0,935.5 1264.0,942.1 1267.0,948.6 1270.0,955.1 1273.0,961.4 1276.0,967.8 1279.0,974.0 1282.0,980.2 1285.0,986.3 1288.0,992.3 1291.0,998.3 1294.0,1004.1 1297.0,1010.0 1300.0,1015.7 1303.0,1021.4 1306.0,1027.0 1309.0,1032.6 1312.0,1038.0 1315.0,1043.5 1318.0,1048.8 1321.0,1054.1 1324.0,1059.3 1327.0,1064.4 1330.0,1069.5 1333.0,1074.5 1336.0,1079.4 1339.0,1084.3 1342.0,1089.1 1345.0,1093.8 1348.0,1098.5 1351.0,1103.1 1354.0,1107.7 1357.0,1112.2 1360.0,1116.6 1363.0,1120.9 1366.0,1125.2 1369.0,1129.5 1372.0,1133.6 1375.0,1137.8 1378.0,1141.8 1381.0,1145.8 1384.0,1149.7 1387.0,1153.6 1390.0,1157.4 1393.0,1161.2 1396.0,1164.9 1399.0,1168.6 1402.0,1172.2 1405.0,1175.7 1408.0,1179.2 1411.0,1182.6 1414.0,1186.0 1417.0,1189.3 1420.0,1192.6 1423.0,1195.8 1426.0,1199.0 1429.0,1202.2 1432.0,1205.2 1435.0,1208.3 1438.0,1211.2 1441.0,1214.2 1444.0,1217.1 1447.0,1219.9 1450.0,1222.7 1453.0,1225.4 1456.0,1228.1 1459.0,1230.8 1462.0,1233.4 1465.0,1236.0 1468.0,1238.5 1471.0,1241.0 1474.0,1243.5 1477.0,1245.9 1480.0,1248.3 1483.0,1250.6 1486.0,1252.9 1489.0,1255.1 1492.0,1257.4 1495.0,1259.5 1498.0,1261.7 1501.0,1263.8 1504.0,1265.9 1507.0,1267.9 1510.0,1269.9 1513.0,1271.9 1516.0,1273.8 1519.0,1275.7 1522.0,1277.6 1525.0,1279.4 1528.0,1281.2 1531.0,1283.0 1534.0,1284.8 1537.0,1286.5 1540.0,1288.2 1543.0,1289.8 1546.0,1291.5 1549.0,1293.1 1552.0,1294.6 1555.0,1296.2 1558.0,1297.7 1561.0,1299.2 1564.0,1300.7 1567.0,1302.1 1570.0,1303.5 1573.0,1304.9 1576.0,1306.3 1579.0,1307.7 1582.0,1309.0 1585.0,1310.3 1588.0,1311.6 1591.0,1312.8 1594.0,1314.1 1597.0,1315.3 1600.0,1316.5 1603.0,1317.7 1606.0,1318.8 1609.0,1320.0 1612.0,1321.1 1615.0,1322.2 1618.0,1323.2 1621.0,1324.3 1624.0,1325.3 1627.0,1326.4 1630.0,1327.4 1633.0,1328.4 1636.0,1329.3 1639.0,1330.3 1642.0,1331.2 1645.0,1332.1 1648.0,1333.0 1651.0,1333.9 1654.0,1334.8 1657.0,1335.7 1660.0,1336.5 1663.0,1337.4 1666.0,1338.2 1669.0,1339.0 1672.0,1339.8 1675.0,1340.5 1678.0,1341.3 1681.0,1342.1 1684.0,1342.8 1687.0,1343.5 1690.0,1344.2 1693.0,1344.9 1696.0,1345.6 1699.0,1346.3 1702.0,1347.0 1705.0,1347.6 1708.0,1348.3 1711.0,1348.9 1714.0,1349.5 1717.0,1350.2 1720.0,1350.8 1723.0,1351.4 1726.0,1351.9 1729.0,1352.5 1732.0,1353.1 1735.0,1353.6 1738.0,1354.2 1741.0,1354.7 1744.0,1355.3 1747.0,1355.8 1750.0,1356.3 1753.0,1356.8 1756.0,1357.3 1759.0,1357.8 1762.0,1358.3 1765.0,1358.7 1768.0,1359.2 1771.0,1359.7 1774.0,1360.1 1777.0,1360.6 1780.0,1361.0 1783.0,1361.4 1786.0,1361.8 1789.0,1362.3 1792.0,1362.7 1795.0,1363.1 1798.0,1363.5 1801.0,1363.9 1804.0,1364.3 1807.0,1364.6 1810.0,1365.0 1813.0,1365.4 1816.0,1365.7 1819.0,1366.1 1822.0,1366.5 1825.0,1366.8 1828.0,1367.1 1831.0,1367.5 1834.0,1367.8 1837.0,1368.1 1840.0,1368.5 1843.0,1368.8 1846.0,1369.1 1849.0,1369.4 1852.0,1369.7 1855.0,1370.0 1858.0,1370.3 1861.0,1370.6 1864.0,1370.9 1867.0,1371.1 1870.0,1371.4 1873.0,1371.7 1876.0,1372.0 1879.0,1372.2 1882.0,1372.5 1885.0,1372.8 1888.0,1373.0 1891.0,1373.3 1894.0,1373.5 1897.0,1373.8 1900.0,1374.0 1903.0,1374.2 1906.0,1374.5 1909.0,1374.7 1912.0,1374.9 1915.0,1375.2 1918.0,1375.4 1921.0,1375.6 1924.0,1375.8 1927.0,1376.0 1930.0,1376.2 1933.0,1376.4 1936.0,1376.7 1939.0,1376.9 1942.0,1377.1 1945.0,1377.3 1948.0,1377.4 1951.0,1377.6 1954.0,1377.8 1957.0,1378.0 1960.0,1378.2 1963.0,1378.4 1966.0,1378.6 1969.0,1378.7 1972.0,1378.9 1975.0,1379.1 1978.0,1379.3 1981.0,1379.4 1984.0,1379.6 1987.0,1379.8 1990.0,1379.9 1993.0,1380.1 1996.0,1380.3 1999.0,1380.4 2002.0,1380.6 2005.0,1380.7 2008.0,1380.9 2011.0,1381.0 2014.0,1381.2 2017.0,1381.3 2020.0,1381.5 2023.0,1381.6 2026.0,1381.8 2029.0,1381.9 2032.0,1382.0 2035.0,1382.2 2038.0,1382.3 2041.0,1382.4 2044.0,1382.6 2047.0,1382.7 2050.0,1382.8 2053.0,1383.0 2056.0,1383.1 2059.0,1383.2 2062.0,1383.3 2065.0,1383.5 2068.0,1383.6 2071.0,1383.7 2074.0,1383.8 2077.0,1384.0 2080.0,1384.1 2083.0,1384.2 2086.0,1384.3 2089.0,1384.4 2092.0,1384.5 2095.0,1384.6 2095.5,1384.7"/>
<polyline id="cv5" points="271.0,1378.4 274.0,1378.2 277.0,1378.1 280.0,1378.0 283.0,1377.9 286.0,1377.7 289.0,1377.6 292.0,1377.4 295.0,1377.3 298.0,1377.1 301.0,1376.9 304.0,1376.8 307.0,1376.6 310.0,1376.4 313.0,1376.2 316.0,1376.0 319.0,1375.8 322.0,1375.6 325.0,1375.3 328.0,1375.1 331.0,1374.8 334.0,1374.6 337.0,1374.3 340.0,1374.0 343.0,1373.7 346.0,1373.4 349.0,1373.1 352.0,1372.8 355.0,1372.4 358.0,1372.0 361.0,1371.6 364.0,1371.2 367.0,1370.8 370.0,1370.4 373.0,1369.9 376.0,1369.4 379.0,1368.9 382.0,1368.4 385.0,1367.9 388.0,1367.3 391.0,1366.7 394.0,1366.1 397.0,1365.5 400.0,1364.8 403.0,1364.1 406.0,1363.4 409.0,1362.6 412.0,1361.8 415.0,1361.0 418.0,1360.1 421.0,1359.2 424.0,1358.3 427.0,1357.3 430.0,1356.3 433.0,1355.3 436.0,1354.2 439.0,1353.1 442.0,1351.9 445.0,1350.7 448.0,1349.4 451.0,1348.1 454.0,1346.7 457.0,1345.3 460.0,1343.8 463.0,1342.3 466.0,1340.7 469.0,1339.1 472.0,1337.4 475.0,1335.7 478.0,1333.9 481.0,1332.0 484.0,1330.0 487.0,1328.0 490.0,1326.0 493.0,1323.8 496.0,1321.6 499.0,1319.4 502.0,1317.0 505.0,1314.6 508.0,1312.1 511.0,1309.5 514.0,1306.9 517.0,1304.1 520.0,1301.3 523.0,1298.5 526.0,1295.5 529.0,1292.4 532.0,1289.3 535.0,1286.0 538.0,1282.7 541.0,1279.3 544.0,1275.8 547.0,1272.3 550.0,1268.6 553.0,1264.8 556.0,1261.0 559.0,1257.0 562.0,1253.0 565.0,1248.8 568.0,1244.6 571.0,1240.2 574.0,1235.8 577.0,1231.3 580.0,1226.6 583.0,1221.9 586.0,1217.1 589.0,1212.2 592.0,1207.2 595.0,1202.1 598.0,1196.8 601.0,1191.5 604.0,1186.1 607.0,1180.6 610.0,1175.0 613.0,1169.3 616.0,1163.5 619.0,1157.6 622.0,1151.6 625.0,1145.6 628.0,1139.4 631.0,1133.1 634.0,1126.8 637.0,1120.3 640.0,1113.8 643.0,1107.2 646.0,1100.5 649.0,1093.7 652.0,1086.8 655.0,1079.9 658.0,1072.9 661.0,1065.8 664.0,1058.6 667.0,1051.3 670.0,1044.0 673.0,1036.6 676.0,1029.2 679.0,1021.6 682.0,1014.0 685.0,1006.4 688.0,998.7 691.0,990.9 694.0,983.1 697.0,975.3 700.0,967.4 703.0,959.4 706.0,951.4 709.0,943.4 712.0,935.4 715.0,927.3 718.0,919.1 721.0,911.0 724.0,902.8 727.0,894.6 730.0,886.4 733.0,878.2 736.0,870.0 739.0,861.7 742.0,853.5 745.0,845.2 748.0,837.0 751.0,828.8 754.0,820.5 757.0,812.3 760.0,804.1 763.0,795.9 766.0,787.8 769.0,779.6 772.0,771.5 775.0,763.5 778.0,755.4 781.0,747.4 784.0,739.5 787.0,731.6 790.0,723.7 793.0,715.9 796.0,708.1 799.0,700.4 802.0,692.8 805.0,685.2 808.0,677.7 811.0,670.2 814.0,662.8 817.0,655.5 820.0,648.3 823.0,641.1 826.0,634.1 829.0,627.1 832.0,620.2 835.0,613.4 838.0,606.7 841.0,600.0 844.0,593.5 847.0,587.1 850.0,580.8 853.0,574.5 856.0,568.4 859.0,562.4 862.0,556.5 865.0,550.7 868.0,545.0 871.0,539.5 874.0,534.0 877.0,528.7 880.0,523.5 883.0,518.4 886.0,513.5 889.0,508.6 892.0,503.9 895.0,499.4 898.0,494.9 901.0,490.6 904.0,486.5 907.0,482.5 910.0,478.6 913.0,474.8 916.0,471.3 919.0,467.8 922.0,464.5 925.0,461.4 928.0,458.4 931.0,455.6 934.0,452.9 937.0,450.4 940.0,448.0 943.0,445.8 946.0,443.8 949.0,442.0 952.0,440.3 955.0,438.8 958.0,437.5 961.0,436.3 964.0,435.4 967.0,434.6 970.0,434.0 973.0,433.6 976.0,433.4 979.0,433.4 982.0,433.5 985.0,433.9 988.0,434.4 991.0,435.2 994.0,436.2 997.0,437.3 1000.0,438.7 1003.0,440.2 1006.0,442.0 1009.0,443.9 1012.0,446.1 1015.0,448.5 1018.0,451.0 1021.0,453.8 1024.0,456.7 1027.0,459.9 1030.0,463.3 1033.0,466.8 1036.0,470.5 1039.0,474.5 1042.0,478.6 1045.0,482.9 1048.0,487.4 1051.0,492.0 1054.0,496.8 1057.0,501.8 1060.0,507.0 1063.0,512.3 1066.0,517.8 1069.0,523.4 1072.0,529.1 1075.0,535.1 1078.0,541.1 1081.0,547.3 1084.0,553.5 1087.0,559.9 1090.0,566.5 1093.0,573.1 1096.0,579.8 1099.0,586.6 1102.0,593.5 1105.0,600.5 1108.0,607.6 1111.0,614.7 1114.0,621.9 1117.0,629.2 1120.0,636.5 1123.0,643.9 1126.0,651.3 1129.0,658.8 1132.0,666.3 1135.0,673.8 1138.0,681.4 1141.0,688.9 1144.0,696.5 1147.0,704.1 1150.0,711.7 1153.0,719.4 1156.0,727.0 1159.0,734.6 1162.0,742.2 1165.0,749.8 1168.0,757.4 1171.0,764.9 1174.0,772.5 1177.0,780.0 1180.0,787.5 1183.0,794.9 1186.0,802.4 1189.0,809.8 1192.0,817.1 1195.0,824.5 1198.0,831.7 1201.0,839.0 1204.0,846.2 1207.0,853.3 1210.0,860.4 1213.0,867.5 1216.0,874.5 1219.0,881.5 1222.0,888.4 1225.0,895.2 1228.0,902.0 1231.0,908.7 1234.0,915.4 1237.0,922.1 1240.0,928.6 1243.0,935.1 1246.0,941.6 1249.0,947.9 1252.0,954.3 1255.0,960.5 1258.0,966.7 1261.0,972.9 1264.0,978.9 1267.0,984.9 1270.0,990.9 1273.0,996.8 1276.0,1002.6 1279.0,1008.3 1282.0,1014.0 1285.0,1019.6 1288.0,1025.2 1291.0,1030.7 1294.0,1036.1 1297.0,1041.5 1300.0,1046.8 1303.0,1052.0 1306.0,1057.2 1309.0,1062.3 1312.0,1067.3 1315.0,1072.3 1318.0,1077.2 1321.0,1082.0 1324.0,1086.8 1327.0,1091.6 1330.0,1096.2 1333.0,1100.8 1336.0,1105.4 1339.0,1109.8 1342.0,1114.3 1345.0,1118.6 1348.0,1122.9 1351.0,1127.1 1354.0,1131.3 1357.0,1135.4 1360.0,1139.5 1363.0,1143.5 1366.0,1147.5 1369.0,1151.3 1372.0,1155.2 1375.0,1159.0 1378.0,1162.7 1381.0,1166.4 1384.0,1170.0 1387.0,1173.5 1390.0,1177.0 1393.0,1180.5 1396.0,1183.9 1399.0,1187.2 1402.0,1190.5 1405.0,1193.8 1408.0,1197.0 1411.0,1200.1 1414.0,1203.2 1417.0,1206.3 1420.0,1209.3 1423.0,1212.3 1426.0,1215.2 1429.0,1218.1 1432.0,1220.9 1435.0,1223.7 1438.0,1226.4 1441.0,1229.1 1444.0,1231.7 1447.0,1234.3 1450.0,1236.9 1453.0,1239.4 1456.0,1241.9 1459.0,1244.3 1462.0,1246.7 1465.0,1249.1 1468.0,1251.4 1471.0,1253.7 1474.0,1255.9 1477.0,1258.2 1480.0,1260.3 1483.0,1262.5 1486.0,1264.6 1489.0,1266.6 1492.0,1268.7 1495.0,1270.7 1498.0,1272.6 1501.0,1274.6 1504.0,1276.5 1507.0,1278.3 1510.0,1280.2 1513.0,1282.0 1516.0,1283.7 1519.0,1285.5 1522.0,1287.2 1525.0,1288.9 1528.0,1290.5 1531.0,1292.2 1534.0,1293.8 1537.0,1295.3 1540.0,1296.9 1543.0,1298.4 1546.0,1299.9 1549.0,1301.4 1552.0,1302.8 1555.0,1304.2 1558.0,1305.6 1561.0,1307.0 1564.0,1308.4 1567.0,1309.7 1570.0,1311.0 1573.0,1312.3 1576.0,1313.5 1579.0,1314.8 1582.0,1316.0 1585.0,1317.2 1588.0,1318.3 1591.0,1319.5 1594.0,1320.6 1597.0,1321.7 1600.0,1322.8 1603.0,1323.9 1606.0,1325.0 1609.0,1326.0 1612.0,1327.0 1615.0,1328.0 1618.0,1329.0 1621.0,1330.0 1624.0,1330.9 1627.0,1331.9 1630.0,1332.8 1633.0,1333.7 1636.0,1334.6 1639.0,1335.5 1642.0,1336.3 1645.0,1337.2 1648.0,1338.0 1651.0,1338.8 1654.0,1339.6 1657.0,1340.4 1660.0,1341.2 1663.0,1341.9 1666.0,1342.7 1669.0,1343.4 1672.0,1344.2 1675.0,1344.9 1678.0,1345.6 1681.0,1346.3 1684.0,1346.9 1687.0,1347.6 1690.0,1348.3 1693.0,1348.9 1696.0,1349.5 1699.0,1350.2 1702.0,1350.8 1705.0,1351.4 1708.0,1352.0 1711.0,1352.5 1714.0,1353.1 1717.0,1353.7 1720.0,1354.2 1723.0,1354.8 1726.0,1355.3 1729.0,1355.8 1732.0,1356.4 1735.0,1356.9 1738.0,1357.4 1741.0,1357.9 1744.0,1358.4 1747.0,1358.8 1750.0,1359.3 1753.0,1359.8 1756.0,1360.2 1759.0,1360.7 1762.0,1361.1 1765.0,1361.5 1768.0,1362.0 1771.0,1362.4 1774.0,1362.8 1777.0,1363.2 1780.0,1363.6 1783.0,1364.0 1786.0,1364.4 1789.0,1364.8 1792.0,1365.2 1795.0,1365.5 1798.0,1365.9 1801.0,1366.2 1804.0,1366.6 1807.0,1367.0 1810.0,1367.3 1813.0,1367.6 1816.0,1368.0 1819.0,1368.3 1822.0,1368.6 1825.0,1368.9 1828.0,1369.2 1831.0,1369.6 1834.0,1369.9 1837.0,1370.2 1840.0,1370.5 1843.0,1370.7 1846.0,1371.0 1849.0,1371.3 1852.0,1371.6 1855.0,1371.9 1858.0,1372.1 1861.0,1372.4 1864.0,1372.7 1867.0,1372.9 1870.0,1373.2 1873.0,1373.4 1876.0,1373.7 1879.0,1373.9 1882.0,1374.2 1885.0,1374.4 1888.0,1374.6 1891.0,1374.9 1894.0,1375.1 1897.0,1375.3 1900.0,1375.5 1903.0,1375.8 1906.0,1376.0 1909.0,1376.2 1912.0,1376.4 1915.0,1376.6 1918.0,1376.8 1921.0,1377.0 1924.0,1377.2 1927.0,1377.4 1930.0,1377.6 1933.0,1377.8 1936.0,1378.0 1939.0,1378.2 1942.0,1378.4 1945.0,1378.5 1948.0,1378.7 1951.0,1378.9 1954.0,1379.1 1957.0,1379.2 1960.0,1379.4 1963.0,1379.6 1966.0,1379.8 1969.0,1379.9 1972.0,1380.1 1975.0,1380.2 1978.0,1380.4 1981.0,1380.6 1984.0,1380.7 1987.0,1380.9 1990.0,1381.0 1993.0,1381.2 1996.0,1381.3 1999.0,1381.5 2002.0,1381.6 2005.0,1381.7 2008.0,1381.9 2011.0,1382.0 2014.0,1382.2 2017.0,1382.3 2020.0,1382.4 2023.0,1382.6 2026.0,1382.7 2029.0,1382.8 2032.0,1382.9 2035.0,1383.1 2038.0,1383.2 2041.0,1383.3 2044.0,1383.4 2047.0,1383.6 2050.0,1383.7 2053.0,1383.8 2056.0,1383.9 2059.0,1384.0 2062.0,1384.2 2065.0,1384.3 2068.0,1384.4 2071.0,1384.5 2074.0,1384.6 2077.0,1384.7 2080.0,1384.8 2083.0,1384.9 2086.0,1385.0 2089.0,1385.1 2092.0,1385.2 2095.0,1385.3 2095.5,1385.4"/>
<polyline id="cv6" points="271.0,1379.0 274.0,1378.9 277.0,1378.8 280.0,1378.6 283.0,1378.5 286.0,1378.4 289.0,1378.2 292.0,1378.1 295.0,1378.0 298.0,1377.8 301.0,1377.6 304.0,1377.5 307.0,1377.3 310.0,1377.1 313.0,1376.9 316.0,1376.7 319.0,1376.5 322.0,1376.3 325.0,1376.1 328.0,1375.9 331.0,1375.6 334.0,1375.4 337.0,1375.1 340.0,1374.8 343.0,1374.6 346.0,1374.3 349.0,1373.9 352.0,1373.6 355.0,1373.3 358.0,1372.9 361.0,1372.6 364.0,1372.2 367.0,1371.8 370.0,1371.3 373.0,1370.9 376.0,1370.4 379.0,1370.0 382.0,1369.5 385.0,1368.9 388.0,1368.4 391.0,1367.8 394.0,1367.2 397.0,1366.6 400.0,1366.0 403.0,1365.3 406.0,1364.6 409.0,1363.9 412.0,1363.1 415.0,1362.3 418.0,1361.5 421.0,1360.7 424.0,1359.8 427.0,1358.8 430.0,1357.9 433.0,1356.9 436.0,1355.8 439.0,1354.7 442.0,1353.6 445.0,1352.4 448.0,1351.2 451.0,1350.0 454.0,1348.7 457.0,1347.3 460.0,1345.9 463.0,1344.4 466.0,1342.9 469.0,1341.4 472.0,1339.8 475.0,1338.1 478.0,1336.3 481.0,1334.5 484.0,1332.7 487.0,1330.8 490.0,1328.8 493.0,1326.7 496.0,1324.6 499.0,1322.5 502.0,1320.2 505.0,1317.9 508.0,1315.5 511.0,1313.0 514.0,1310.5 517.0,1307.9 520.0,1305.2 523.0,1302.4 526.0,1299.6 529.0,1296.6 532.0,1293.6 535.0,1290.5 538.0,1287.4 541.0,1284.1 544.0,1280.7 547.0,1277.3 550.0,1273.8 553.0,1270.2 556.0,1266.5 559.0,1262.7 562.0,1258.8 565.0,1254.8 568.0,1250.8 571.0,1246.6 574.0,1242.4 577.0,1238.0 580.0,1233.6 583.0,1229.1 586.0,1224.5 589.0,1219.7 592.0,1214.9 595.0,1210.0 598.0,1205.0 601.0,1200.0 604.0,1194.8 607.0,1189.5 610.0,1184.1 613.0,1178.7 616.0,1173.1 619.0,1167.5 622.0,1161.7 625.0,1155.9 628.0,1150.0 631.0,1144.0 634.0,1137.9 637.0,1131.7 640.0,1125.5 643.0,1119.1 646.0,1112.7 649.0,1106.2 652.0,1099.6 655.0,1093.0 658.0,1086.2 661.0,1079.4 664.0,1072.6 667.0,1065.6 670.0,1058.6 673.0,1051.5 676.0,1044.4 679.0,1037.1 682.0,1029.9 685.0,1022.6 688.0,1015.2 691.0,1007.7 694.0,1000.3 697.0,992.7 700.0,985.2 703.0,977.5 706.0,969.9 709.0,962.2 712.0,954.5 715.0,946.7 718.0,938.9 721.0,931.1 724.0,923.3 727.0,915.4 730.0,907.6 733.0,899.7 736.0,891.8 739.0,883.9 742.0,876.0 745.0,868.1 748.0,860.2 751.0,852.3 754.0,844.4 757.0,836.6 760.0,828.7 763.0,820.9 766.0,813.0 769.0,805.2 772.0,797.5 775.0,789.7 778.0,782.0 781.0,774.4 784.0,766.8 787.0,759.2 790.0,751.6 793.0,744.1 796.0,736.7 799.0,729.3 802.0,722.0 805.0,714.7 808.0,707.5 811.0,700.4 814.0,693.3 817.0,686.3 820.0,679.4 823.0,672.5 826.0,665.8 829.0,659.1 832.0,652.5 835.0,645.9 838.0,639.5 841.0,633.1 844.0,626.9 847.0,620.7 850.0,614.7 853.0,608.7 856.0,602.8 859.0,597.1 862.0,591.4 865.0,585.9 868.0,580.4 871.0,575.1 874.0,569.9 877.0,564.8 880.0,559.8 883.0,554.9 886.0,550.2 889.0,545.5 892.0,541.0 895.0,536.7 898.0,532.4 901.0,528.3 904.0,524.3 907.0,520.5 910.0,516.7 913.0,513.2 916.0,509.7 919.0,506.4 922.0,503.3 925.0,500.3 928.0,497.4 931.0,494.7 934.0,492.1 937.0,489.7 940.0,487.5 943.0,485.4 946.0,483.4 949.0,481.7 952.0,480.1 955.0,478.6 958.0,477.4 961.0,476.3 964.0,475.3 967.0,474.6 970.0,474.0 973.0,473.6 976.0,473.4 979.0,473.4 982.0,473.6 985.0,473.9 988.0,474.5 991.0,475.2 994.0,476.1 997.0,477.2 1000.0,478.5 1003.0,480.0 1006.0,481.7 1009.0,483.5 1012.0,485.6 1015.0,487.9 1018.0,490.3 1021.0,493.0 1024.0,495.8 1027.0,498.8 1030.0,502.1 1033.0,505.5 1036.0,509.0 1039.0,512.8 1042.0,516.8 1045.0,520.9 1048.0,525.2 1051.0,529.6 1054.0,534.2 1057.0,539.0 1060.0,544.0 1063.0,549.1 1066.0,554.3 1069.0,559.7 1072.0,565.2 1075.0,570.9 1078.0,576.6 1081.0,582.6 1084.0,588.6 1087.0,594.7 1090.0,601.0 1093.0,607.3 1096.0,613.8 1099.0,620.3 1102.0,626.9 1105.0,633.6 1108.0,640.4 1111.0,647.2 1114.0,654.1 1117.0,661.1 1120.0,668.1 1123.0,675.2 1126.0,682.3 1129.0,689.4 1132.0,696.6 1135.0,703.8 1138.0,711.1 1141.0,718.3 1144.0,725.6 1147.0,732.9 1150.0,740.2 1153.0,747.5 1156.0,754.8 1159.0,762.1 1162.0,769.3 1165.0,776.6 1168.0,783.9 1171.0,791.1 1174.0,798.4 1177.0,805.6 1180.0,812.7 1183.0,819.9 1186.0,827.0 1189.0,834.1 1192.0,841.2 1195.0,848.2 1198.0,855.2 1201.0,862.1 1204.0,869.0 1207.0,875.9 1210.0,882.7 1213.0,889.4 1216.0,896.2 1219.0,902.8 1222.0,909.4 1225.0,916.0 1228.0,922.5 1231.0,929.0 1234.0,935.4 1237.0,941.7 1240.0,948.0 1243.0,954.2 1246.0,960.4 1249.0,966.5 1252.0,972.6 1255.0,978.6 1258.0,984.5 1261.0,990.4 1264.0,996.2 1267.0,1002.0 1270.0,1007.7 1273.0,1013.3 1276.0,1018.9 1279.0,1024.4 1282.0,1029.8 1285.0,1035.2 1288.0,1040.5 1291.0,1045.8 1294.0,1051.0 1297.0,1056.1 1300.0,1061.2 1303.0,1066.2 1306.0,1071.2 1309.0,1076.1 1312.0,1080.9 1315.0,1085.7 1318.0,1090.4 1321.0,1095.0 1324.0,1099.6 1327.0,1104.1 1330.0,1108.6 1333.0,1113.0 1336.0,1117.4 1339.0,1121.7 1342.0,1125.9 1345.0,1130.1 1348.0,1134.2 1351.0,1138.3 1354.0,1142.3 1357.0,1146.2 1360.0,1150.1 1363.0,1153.9 1366.0,1157.7 1369.0,1161.4 1372.0,1165.1 1375.0,1168.7 1378.0,1172.3 1381.0,1175.8 1384.0,1179.3 1387.0,1182.7 1390.0,1186.1 1393.0,1189.4 1396.0,1192.6 1399.0,1195.8 1402.0,1199.0 1405.0,1202.1 1408.0,1205.2 1411.0,1208.2 1414.0,1211.2 1417.0,1214.1 1420.0,1217.0 1423.0,1219.8 1426.0,1222.6 1429.0,1225.4 1432.0,1228.1 1435.0,1230.7 1438.0,1233.4 1441.0,1235.9 1444.0,1238.5 1447.0,1241.0 1450.0,1243.4 1453.0,1245.8 1456.0,1248.2 1459.0,1250.6 1462.0,1252.9 1465.0,1255.1 1468.0,1257.3 1471.0,1259.5 1474.0,1261.7 1477.0,1263.8 1480.0,1265.9 1483.0,1267.9 1486.0,1269.9 1489.0,1271.9 1492.0,1273.9 1495.0,1275.8 1498.0,1277.7 1501.0,1279.5 1504.0,1281.3 1507.0,1283.1 1510.0,1284.9 1513.0,1286.6 1516.0,1288.3 1519.0,1290.0 1522.0,1291.6 1525.0,1293.2 1528.0,1294.8 1531.0,1296.4 1534.0,1297.9 1537.0,1299.4 1540.0,1300.9 1543.0,1302.4 1546.0,1303.8 1549.0,1305.2 1552.0,1306.6 1555.0,1308.0 1558.0,1309.3 1561.0,1310.6 1564.0,1311.9 1567.0,1313.2 1570.0,1314.4 1573.0,1315.6 1576.0,1316.9 1579.0,1318.0 1582.0,1319.2 1585.0,1320.3 1588.0,1321.5 1591.0,1322.6 1594.0,1323.7 1597.0,1324.7 1600.0,1325.8 1603.0,1326.8 1606.0,1327.8 1609.0,1328.8 1612.0,1329.8 1615.0,1330.8 1618.0,1331.7 1621.0,1332.6 1624.0,1333.5 1627.0,1334.4 1630.0,1335.3 1633.0,1336.2 1636.0,1337.0 1639.0,1337.9 1642.0,1338.7 1645.0,1339.5 1648.0,1340.3 1651.0,1341.1 1654.0,1341.9 1657.0,1342.6 1660.0,1343.4 1663.0,1344.1 1666.0,1344.8 1669.0,1345.5 1672.0,1346.2 1675.0,1346.9 1678.0,1347.6 1681.0,1348.2 1684.0,1348.9 1687.0,1349.5 1690.0,1350.1 1693.0,1350.8 1696.0,1351.4 1699.0,1352.0 1702.0,1352.5 1705.0,1353.1 1708.0,1353.7 1711.0,1354.2 1714.0,1354.8 1717.0,1355.3 1720.0,1355.9 1723.0,1356.4 1726.0,1356.9 1729.0,1357.4 1732.0,1357.9 1735.0,1358.4 1738.0,1358.9 1741.0,1359.4 1744.0,1359.8 1747.0,1360.3 1750.0,1360.7 1753.0,1361.2 1756.0,1361.6 1759.0,1362.0 1762.0,1362.5 1765.0,1362.9 1768.0,1363.3 1771.0,1363.7 1774.0,1364.1 1777.0,1364.5 1780.0,1364.9 1783.0,1365.2 1786.0,1365.6 1789.0,1366.0 1792.0,1366.3 1795.0,1366.7 1798.0,1367.0 1801.0,1367.4 1804.0,1367.7 1807.0,1368.1 1810.0,1368.4 1813.0,1368.7 1816.0,1369.0 1819.0,1369.3 1822.0,1369.7 1825.0,1370.0 1828.0,1370.3 1831.0,1370.6 1834.0,1370.8 1837.0,1371.1 1840.0,1371.4 1843.0,1371.7 1846.0,1372.0 1849.0,1372.2 1852.0,1372.5 1855.0,1372.8 1858.0,1373.0 1861.0,1373.3 1864.0,1373.5 1867.0,1373.8 1870.0,1374.0 1873.0,1374.3 1876.0,1374.5 1879.0,1374.7 1882.0,1375.0 1885.0,1375.2 1888.0,1375.4 1891.0,1375.6 1894.0,1375.9 1897.0,1376.1 1900.0,1376.3 1903.0,1376.5 1906.0,1376.7 1909.0,1376.9 1912.0,1377.1 1915.0,1377.3 1918.0,1377.5 1921.0,1377.7 1924.0,1377.9 1927.0,1378.1 1930.0,1378.3 1933.0,1378.5 1936.0,1378.6 1939.0,1378.8 1942.0,1379.0 1945.0,1379.2 1948.0,1379.3 1951.0,1379.5 1954.0,1379.7 1957.0,1379.8 1960.0,1380.0 1963.0,1380.2 1966.0,1380.3 1969.0,1380.5 1972.0,1380.6 1975.0,1380.8 1978.0,1380.9 1981.0,1381.1 1984.0,1381.2 1987.0,1381.4 1990.0,1381.5 1993.0,1381.7 1996.0,1381.8 1999.0,1382.0 2002.0,1382.1 2005.0,1382.2 2008.0,1382.4 2011.0,1382.5 2014.0,1382.6 2017.0,1382.8 2020.0,1382.9 2023.0,1383.0 2026.0,1383.1 2029.0,1383.3 2032.0,1383.4 2035.0,1383.5 2038.0,1383.6 2041.0,1383.7 2044.0,1383.9 2047.0,1384.0 2050.0,1384.1 2053.0,1384.2 2056.0,1384.3 2059.0,1384.4 2062.0,1384.5 2065.0,1384.7 2068.0,1384.8 2071.0,1384.9 2074.0,1385.0 2077.0,1385.1 2080.0,1385.2 2083.0,1385.3 2086.0,1385.4 2089.0,1385.5 2092.0,1385.6 2095.0,1385.7 2095.5,1385.7"/>
<polyline id="cv7" points="271.0,1379.9 274.0,1379.8 277.0,1379.6 280.0,1379.5 283.0,1379.4 286.0,1379.3 289.0,1379.1 292.0,1379.0 295.0,1378.9 298.0,1378.7 301.0,1378.6 304.0,1378.4 307.0,1378.3 310.0,1378.1 313.0,1377.9 316.0,1377.7 319.0,1377.5 322.0,1377.3 325.0,1377.1 328.0,1376.9 331.0,1376.7 334.0,1376.4 337.0,1376.2 340.0,1375.9 343.0,1375.6 346.0,1375.4 349.0,1375.1 352.0,1374.8 355.0,1374.4 358.0,1374.1 361.0,1373.7 364.0,1373.4 367.0,1373.0 370.0,1372.6 373.0,1372.2 376.0,1371.7 379.0,1371.3 382.0,1370.8 385.0,1370.3 388.0,1369.8 391.0,1369.3 394.0,1368.7 397.0,1368.1 400.0,1367.5 403.0,1366.9 406.0,1366.2 409.0,1365.5 412.0,1364.8 415.0,1364.0 418.0,1363.2 421.0,1362.4 424.0,1361.6 427.0,1360.7 430.0,1359.8 433.0,1358.8 436.0,1357.8 439.0,1356.8 442.0,1355.7 445.0,1354.6 448.0,1353.5 451.0,1352.3 454.0,1351.0 457.0,1349.8 460.0,1348.4 463.0,1347.0 466.0,1345.6 469.0,1344.1 472.0,1342.6 475.0,1341.0 478.0,1339.4 481.0,1337.7 484.0,1335.9 487.0,1334.1 490.0,1332.2 493.0,1330.3 496.0,1328.3 499.0,1326.2 502.0,1324.1 505.0,1321.9 508.0,1319.6 511.0,1317.3 514.0,1314.9 517.0,1312.4 520.0,1309.8 523.0,1307.2 526.0,1304.5 529.0,1301.7 532.0,1298.9 535.0,1296.0 538.0,1293.0 541.0,1289.9 544.0,1286.7 547.0,1283.5 550.0,1280.1 553.0,1276.7 556.0,1273.2 559.0,1269.7 562.0,1266.0 565.0,1262.2 568.0,1258.4 571.0,1254.5 574.0,1250.5 577.0,1246.4 580.0,1242.2 583.0,1237.9 586.0,1233.5 589.0,1229.1 592.0,1224.6 595.0,1219.9 598.0,1215.2 601.0,1210.4 604.0,1205.5 607.0,1200.6 610.0,1195.5 613.0,1190.3 616.0,1185.1 619.0,1179.8 622.0,1174.4 625.0,1168.9 628.0,1163.3 631.0,1157.7 634.0,1151.9 637.0,1146.1 640.0,1140.2 643.0,1134.3 646.0,1128.2 649.0,1122.1 652.0,1115.9 655.0,1109.6 658.0,1103.3 661.0,1096.9 664.0,1090.4 667.0,1083.9 670.0,1077.3 673.0,1070.6 676.0,1063.9 679.0,1057.1 682.0,1050.3 685.0,1043.4 688.0,1036.5 691.0,1029.5 694.0,1022.4 697.0,1015.4 700.0,1008.3 703.0,1001.1 706.0,993.9 709.0,986.7 712.0,979.4 715.0,972.2 718.0,964.9 721.0,957.5 724.0,950.2 727.0,942.8 730.0,935.4 733.0,928.0 736.0,920.6 739.0,913.2 742.0,905.8 745.0,898.4 748.0,891.0 751.0,883.6 754.0,876.2 757.0,868.9 760.0,861.5 763.0,854.1 766.0,846.8 769.0,839.5 772.0,832.3 775.0,825.0 778.0,817.8 781.0,810.6 784.0,803.5 787.0,796.4 790.0,789.3 793.0,782.3 796.0,775.4 799.0,768.5 802.0,761.6 805.0,754.8 808.0,748.1 811.0,741.4 814.0,734.8 817.0,728.3 820.0,721.8 823.0,715.4 826.0,709.1 829.0,702.8 832.0,696.6 835.0,690.6 838.0,684.5 841.0,678.6 844.0,672.8 847.0,667.0 850.0,661.4 853.0,655.8 856.0,650.4 859.0,645.0 862.0,639.7 865.0,634.5 868.0,629.5 871.0,624.5 874.0,619.7 877.0,614.9 880.0,610.3 883.0,605.7 886.0,601.3 889.0,597.0 892.0,592.9 895.0,588.8 898.0,584.9 901.0,581.0 904.0,577.3 907.0,573.8 910.0,570.3 913.0,567.0 916.0,563.8 919.0,560.8 922.0,557.9 925.0,555.1 928.0,552.5 931.0,550.0 934.0,547.6 937.0,545.4 940.0,543.3 943.0,541.4 946.0,539.7 949.0,538.1 952.0,536.6 955.0,535.3 958.0,534.2 961.0,533.2 964.0,532.4 967.0,531.7 970.0,531.3 973.0,531.0 976.0,530.8 979.0,530.9 982.0,531.1 985.0,531.5 988.0,532.0 991.0,532.8 994.0,533.7 997.0,534.8 1000.0,536.0 1003.0,537.5 1006.0,539.1 1009.0,541.0 1012.0,543.0 1015.0,545.1 1018.0,547.5 1021.0,550.0 1024.0,552.8 1027.0,555.7 1030.0,558.7 1033.0,562.0 1036.0,565.4 1039.0,569.0 1042.0,572.7 1045.0,576.6 1048.0,580.7 1051.0,585.0 1054.0,589.3 1057.0,593.9 1060.0,598.6 1063.0,603.4 1066.0,608.3 1069.0,613.4 1072.0,618.6 1075.0,624.0 1078.0,629.5 1081.0,635.0 1084.0,640.7 1087.0,646.5 1090.0,652.4 1093.0,658.4 1096.0,664.4 1099.0,670.6 1102.0,676.8 1105.0,683.1 1108.0,689.5 1111.0,695.9 1114.0,702.4 1117.0,709.0 1120.0,715.6 1123.0,722.2 1126.0,728.9 1129.0,735.6 1132.0,742.4 1135.0,749.1 1138.0,755.9 1141.0,762.7 1144.0,769.6 1147.0,776.4 1150.0,783.2 1153.0,790.1 1156.0,796.9 1159.0,803.7 1162.0,810.6 1165.0,817.4 1168.0,824.2 1171.0,831.0 1174.0,837.8 1177.0,844.5 1180.0,851.2 1183.0,857.9 1186.0,864.6 1189.0,871.2 1192.0,877.8 1195.0,884.4 1198.0,890.9 1201.0,897.4 1204.0,903.9 1207.0,910.3 1210.0,916.7 1213.0,923.0 1216.0,929.3 1219.0,935.5 1222.0,941.7 1225.0,947.8 1228.0,953.9 1231.0,960.0 1234.0,965.9 1237.0,971.9 1240.0,977.8 1243.0,983.6 1246.0,989.4 1249.0,995.1 1252.0,1000.7 1255.0,1006.3 1258.0,1011.9 1261.0,1017.4 1264.0,1022.8 1267.0,1028.2 1270.0,1033.5 1273.0,1038.8 1276.0,1044.0 1279.0,1049.1 1282.0,1054.2 1285.0,1059.2 1288.0,1064.2 1291.0,1069.1 1294.0,1074.0 1297.0,1078.8 1300.0,1083.5 1303.0,1088.2 1306.0,1092.8 1309.0,1097.4 1312.0,1101.9 1315.0,1106.4 1318.0,1110.8 1321.0,1115.1 1324.0,1119.4 1327.0,1123.6 1330.0,1127.8 1333.0,1131.9 1336.0,1136.0 1339.0,1140.0 1342.0,1143.9 1345.0,1147.8 1348.0,1151.6 1351.0,1155.4 1354.0,1159.2 1357.0,1162.9 1360.0,1166.5 1363.0,1170.1 1366.0,1173.6 1369.0,1177.1 1372.0,1180.5 1375.0,1183.9 1378.0,1187.2 1381.0,1190.5 1384.0,1193.7 1387.0,1196.9 1390.0,1200.0 1393.0,1203.1 1396.0,1206.2 1399.0,1209.2 1402.0,1212.1 1405.0,1215.0 1408.0,1217.9 1411.0,1220.7 1414.0,1223.5 1417.0,1226.2 1420.0,1228.9 1423.0,1231.5 1426.0,1234.1 1429.0,1236.7 1432.0,1239.2 1435.0,1241.7 1438.0,1244.2 1441.0,1246.6 1444.0,1248.9 1447.0,1251.3 1450.0,1253.5 1453.0,1255.8 1456.0,1258.0 1459.0,1260.2 1462.0,1262.3 1465.0,1264.4 1468.0,1266.5 1471.0,1268.6 1474.0,1270.6 1477.0,1272.5 1480.0,1274.5 1483.0,1276.4 1486.0,1278.3 1489.0,1280.1 1492.0,1281.9 1495.0,1283.7 1498.0,1285.5 1501.0,1287.2 1504.0,1288.9 1507.0,1290.6 1510.0,1292.2 1513.0,1293.8 1516.0,1295.4 1519.0,1297.0 1522.0,1298.5 1525.0,1300.0 1528.0,1301.5 1531.0,1302.9 1534.0,1304.4 1537.0,1305.8 1540.0,1307.2 1543.0,1308.5 1546.0,1309.8 1549.0,1311.2 1552.0,1312.5 1555.0,1313.7 1558.0,1315.0 1561.0,1316.2 1564.0,1317.4 1567.0,1318.6 1570.0,1319.7 1573.0,1320.9 1576.0,1322.0 1579.0,1323.1 1582.0,1324.2 1585.0,1325.3 1588.0,1326.3 1591.0,1327.3 1594.0,1328.4 1597.0,1329.3 1600.0,1330.3 1603.0,1331.3 1606.0,1332.2 1609.0,1333.2 1612.0,1334.1 1615.0,1335.0 1618.0,1335.8 1621.0,1336.7 1624.0,1337.6 1627.0,1338.4 1630.0,1339.2 1633.0,1340.0 1636.0,1340.8 1639.0,1341.6 1642.0,1342.4 1645.0,1343.1 1648.0,1343.9 1651.0,1344.6 1654.0,1345.3 1657.0,1346.0 1660.0,1346.7 1663.0,1347.4 1666.0,1348.1 1669.0,1348.7 1672.0,1349.4 1675.0,1350.0 1678.0,1350.6 1681.0,1351.3 1684.0,1351.9 1687.0,1352.5 1690.0,1353.0 1693.0,1353.6 1696.0,1354.2 1699.0,1354.7 1702.0,1355.3 1705.0,1355.8 1708.0,1356.4 1711.0,1356.9 1714.0,1357.4 1717.0,1357.9 1720.0,1358.4 1723.0,1358.9 1726.0,1359.3 1729.0,1359.8 1732.0,1360.3 1735.0,1360.7 1738.0,1361.2 1741.0,1361.6 1744.0,1362.1 1747.0,1362.5 1750.0,1362.9 1753.0,1363.3 1756.0,1363.7 1759.0,1364.1 1762.0,1364.5 1765.0,1364.9 1768.0,1365.3 1771.0,1365.7 1774.0,1366.0 1777.0,1366.4 1780.0,1366.8 1783.0,1367.1 1786.0,1367.5 1789.0,1367.8 1792.0,1368.1 1795.0,1368.5 1798.0,1368.8 1801.0,1369.1 1804.0,1369.4 1807.0,1369.7 1810.0,1370.1 1813.0,1370.4 1816.0,1370.7 1819.0,1370.9 1822.0,1371.2 1825.0,1371.5 1828.0,1371.8 1831.0,1372.1 1834.0,1372.4 1837.0,1372.6 1840.0,1372.9 1843.0,1373.1 1846.0,1373.4 1849.0,1373.7 1852.0,1373.9 1855.0,1374.1 1858.0,1374.4 1861.0,1374.6 1864.0,1374.9 1867.0,1375.1 1870.0,1375.3 1873.0,1375.5 1876.0,1375.8 1879.0,1376.0 1882.0,1376.2 1885.0,1376.4 1888.0,1376.6 1891.0,1376.8 1894.0,1377.0 1897.0,1377.2 1900.0,1377.4 1903.0,1377.6 1906.0,1377.8 1909.0,1378.0 1912.0,1378.2 1915.0,1378.4 1918.0,1378.6 1921.0,1378.8 1924.0,1378.9 1927.0,1379.1 1930.0,1379.3 1933.0,1379.5 1936.0,1379.6 1939.0,1379.8 1942.0,1380.0 1945.0,1380.1 1948.0,1380.3 1951.0,1380.4 1954.0,1380.6 1957.0,1380.7 1960.0,1380.9 1963.0,1381.0 1966.0,1381.2 1969.0,1381.3 1972.0,1381.5 1975.0,1381.6 1978.0,1381.8 1981.0,1381.9 1984.0,1382.1 1987.0,1382.2 1990.0,1382.3 1993.0,1382.5 1996.0,1382.6 1999.0,1382.7 2002.0,1382.8 2005.0,1383.0 2008.0,1383.1 2011.0,1383.2 2014.0,1383.3 2017.0,1383.5 2020.0,1383.6 2023.0,1383.7 2026.0,1383.8 2029.0,1383.9 2032.0,1384.1 2035.0,1384.2 2038.0,1384.3 2041.0,1384.4 2044.0,1384.5 2047.0,1384.6 2050.0,1384.7 2053.0,1384.8 2056.0,1384.9 2059.0,1385.0 2062.0,1385.1 2065.0,1385.2 2068.0,1385.3 2071.0,1385.4 2074.0,1385.5 2077.0,1385.6 2080.0,1385.7 2083.0,1385.8 2086.0,1385.9 2089.0,1386.0 2092.0,1386.1 2095.0,1386.2 2095.5,1386.2"/>
<polyline id="cv8" points="271.0,1380.5 274.0,1380.4 277.0,1380.3 280.0,1380.2 283.0,1380.1 286.0,1379.9 289.0,1379.8 292.0,1379.7 295.0,1379.5 298.0,1379.4 301.0,1379.3 304.0,1379.1 307.0,1379.0 310.0,1378.8 313.0,1378.6 316.0,1378.4 319.0,1378.3 322.0,1378.1 325.0,1377.9 328.0,1377.7 331.0,1377.4 334.0,1377.2 337.0,1377.0 340.0,1376.7 343.0,1376.5 346.0,1376.2 349.0,1375.9 352.0,1375.6 355.0,1375.3 358.0,1375.0 361.0,1374.7 364.0,1374.3 367.0,1373.9 370.0,1373.6 373.0,1373.2 376.0,1372.7 379.0,1372.3 382.0,1371.9 385.0,1371.4 388.0,1370.9 391.0,1370.4 394.0,1369.8 397.0,1369.3 400.0,1368.7 403.0,1368.1 406.0,1367.4 409.0,1366.8 412.0,1366.1 415.0,1365.4 418.0,1364.6 421.0,1363.9 424.0,1363.1 427.0,1362.2 430.0,1361.3 433.0,1360.4 436.0,1359.5 439.0,1358.5 442.0,1357.5 445.0,1356.4 448.0,1355.3 451.0,1354.2 454.0,1353.0 457.0,1351.8 460.0,1350.5 463.0,1349.2 466.0,1347.8 469.0,1346.4 472.0,1344.9 475.0,1343.4 478.0,1341.8 481.0,1340.2 484.0,1338.5 487.0,1336.8 490.0,1335.0 493.0,1333.2 496.0,1331.3 499.0,1329.3 502.0,1327.3 505.0,1325.2 508.0,1323.0 511.0,1320.8 514.0,1318.5 517.0,1316.1 520.0,1313.7 523.0,1311.2 526.0,1308.6 529.0,1306.0 532.0,1303.3 535.0,1300.5 538.0,1297.6 541.0,1294.7 544.0,1291.6 547.0,1288.5 550.0,1285.4 553.0,1282.1 556.0,1278.8 559.0,1275.4 562.0,1271.9 565.0,1268.3 568.0,1264.6 571.0,1260.9 574.0,1257.0 577.0,1253.1 580.0,1249.1 583.0,1245.1 586.0,1240.9 589.0,1236.7 592.0,1232.3 595.0,1227.9 598.0,1223.4 601.0,1218.8 604.0,1214.2 607.0,1209.4 610.0,1204.6 613.0,1199.7 616.0,1194.7 619.0,1189.6 622.0,1184.5 625.0,1179.2 628.0,1173.9 631.0,1168.5 634.0,1163.1 637.0,1157.5 640.0,1151.9 643.0,1146.2 646.0,1140.4 649.0,1134.6 652.0,1128.7 655.0,1122.7 658.0,1116.6 661.0,1110.5 664.0,1104.4 667.0,1098.1 670.0,1091.8 673.0,1085.5 676.0,1079.1 679.0,1072.6 682.0,1066.1 685.0,1059.5 688.0,1052.9 691.0,1046.2 694.0,1039.5 697.0,1032.8 700.0,1026.0 703.0,1019.2 706.0,1012.3 709.0,1005.4 712.0,998.5 715.0,991.5 718.0,984.6 721.0,977.6 724.0,970.6 727.0,963.5 730.0,956.5 733.0,949.5 736.0,942.4 739.0,935.3 742.0,928.3 745.0,921.2 748.0,914.1 751.0,907.1 754.0,900.0 757.0,893.0 760.0,886.0 763.0,879.0 766.0,872.0 769.0,865.0 772.0,858.1 775.0,851.2 778.0,844.3 781.0,837.4 784.0,830.6 787.0,823.9 790.0,817.1 793.0,810.5 796.0,803.8 799.0,797.2 802.0,790.7 805.0,784.2 808.0,777.8 811.0,771.4 814.0,765.1 817.0,758.9 820.0,752.7 823.0,746.6 826.0,740.6 829.0,734.6 832.0,728.7 835.0,722.9 838.0,717.2 841.0,711.5 844.0,706.0 847.0,700.5 850.0,695.1 853.0,689.8 856.0,684.6 859.0,679.4 862.0,674.4 865.0,669.5 868.0,664.6 871.0,659.9 874.0,655.3 877.0,650.7 880.0,646.3 883.0,642.0 886.0,637.8 889.0,633.7 892.0,629.7 895.0,625.8 898.0,622.1 901.0,618.4 904.0,614.9 907.0,611.5 910.0,608.2 913.0,605.0 916.0,602.0 919.0,599.1 922.0,596.3 925.0,593.7 928.0,591.2 931.0,588.8 934.0,586.5 937.0,584.4 940.0,582.5 943.0,580.6 946.0,579.0 949.0,577.4 952.0,576.0 955.0,574.8 958.0,573.7 961.0,572.8 964.0,572.0 967.0,571.4 970.0,570.9 973.0,570.7 976.0,570.5 979.0,570.6 982.0,570.8 985.0,571.1 988.0,571.7 991.0,572.4 994.0,573.2 997.0,574.3 1000.0,575.5 1003.0,576.9 1006.0,578.5 1009.0,580.2 1012.0,582.1 1015.0,584.2 1018.0,586.4 1021.0,588.9 1024.0,591.5 1027.0,594.2 1030.0,597.1 1033.0,600.2 1036.0,603.5 1039.0,606.9 1042.0,610.5 1045.0,614.2 1048.0,618.1 1051.0,622.2 1054.0,626.3 1057.0,630.7 1060.0,635.1 1063.0,639.7 1066.0,644.5 1069.0,649.3 1072.0,654.3 1075.0,659.4 1078.0,664.6 1081.0,669.9 1084.0,675.4 1087.0,680.9 1090.0,686.5 1093.0,692.2 1096.0,698.0 1099.0,703.9 1102.0,709.8 1105.0,715.8 1108.0,721.9 1111.0,728.0 1114.0,734.2 1117.0,740.5 1120.0,746.8 1123.0,753.1 1126.0,759.5 1129.0,765.9 1132.0,772.3 1135.0,778.8 1138.0,785.3 1141.0,791.8 1144.0,798.3 1147.0,804.8 1150.0,811.3 1153.0,817.8 1156.0,824.4 1159.0,830.9 1162.0,837.4 1165.0,843.9 1168.0,850.4 1171.0,856.9 1174.0,863.3 1177.0,869.8 1180.0,876.2 1183.0,882.6 1186.0,888.9 1189.0,895.3 1192.0,901.6 1195.0,907.8 1198.0,914.1 1201.0,920.3 1204.0,926.4 1207.0,932.5 1210.0,938.6 1213.0,944.6 1216.0,950.6 1219.0,956.6 1222.0,962.5 1225.0,968.3 1228.0,974.2 1231.0,979.9 1234.0,985.6 1237.0,991.3 1240.0,996.9 1243.0,1002.4 1246.0,1008.0 1249.0,1013.4 1252.0,1018.8 1255.0,1024.2 1258.0,1029.4 1261.0,1034.7 1264.0,1039.9 1267.0,1045.0 1270.0,1050.1 1273.0,1055.1 1276.0,1060.1 1279.0,1065.0 1282.0,1069.8 1285.0,1074.6 1288.0,1079.4 1291.0,1084.1 1294.0,1088.7 1297.0,1093.3 1300.0,1097.8 1303.0,1102.3 1306.0,1106.7 1309.0,1111.0 1312.0,1115.3 1315.0,1119.6 1318.0,1123.8 1321.0,1127.9 1324.0,1132.0 1327.0,1136.0 1330.0,1140.0 1333.0,1143.9 1336.0,1147.8 1339.0,1151.6 1342.0,1155.4 1345.0,1159.1 1348.0,1162.8 1351.0,1166.4 1354.0,1170.0 1357.0,1173.5 1360.0,1176.9 1363.0,1180.4 1366.0,1183.7 1369.0,1187.0 1372.0,1190.3 1375.0,1193.5 1378.0,1196.7 1381.0,1199.8 1384.0,1202.9 1387.0,1206.0 1390.0,1208.9 1393.0,1211.9 1396.0,1214.8 1399.0,1217.7 1402.0,1220.5 1405.0,1223.2 1408.0,1226.0 1411.0,1228.7 1414.0,1231.3 1417.0,1233.9 1420.0,1236.5 1423.0,1239.0 1426.0,1241.5 1429.0,1243.9 1432.0,1246.3 1435.0,1248.7 1438.0,1251.0 1441.0,1253.3 1444.0,1255.6 1447.0,1257.8 1450.0,1260.0 1453.0,1262.1 1456.0,1264.3 1459.0,1266.3 1462.0,1268.4 1465.0,1270.4 1468.0,1272.4 1471.0,1274.3 1474.0,1276.2 1477.0,1278.1 1480.0,1280.0 1483.0,1281.8 1486.0,1283.6 1489.0,1285.3 1492.0,1287.1 1495.0,1288.8 1498.0,1290.4 1501.0,1292.1 1504.0,1293.7 1507.0,1295.3 1510.0,1296.9 1513.0,1298.4 1516.0,1299.9 1519.0,1301.4 1522.0,1302.9 1525.0,1304.3 1528.0,1305.7 1531.0,1307.1 1534.0,1308.5 1537.0,1309.8 1540.0,1311.1 1543.0,1312.4 1546.0,1313.7 1549.0,1315.0 1552.0,1316.2 1555.0,1317.4 1558.0,1318.6 1561.0,1319.7 1564.0,1320.9 1567.0,1322.0 1570.0,1323.1 1573.0,1324.2 1576.0,1325.3 1579.0,1326.3 1582.0,1327.4 1585.0,1328.4 1588.0,1329.4 1591.0,1330.4 1594.0,1331.4 1597.0,1332.3 1600.0,1333.2 1603.0,1334.1 1606.0,1335.1 1609.0,1335.9 1612.0,1336.8 1615.0,1337.7 1618.0,1338.5 1621.0,1339.3 1624.0,1340.1 1627.0,1340.9 1630.0,1341.7 1633.0,1342.5 1636.0,1343.3 1639.0,1344.0 1642.0,1344.7 1645.0,1345.5 1648.0,1346.2 1651.0,1346.9 1654.0,1347.5 1657.0,1348.2 1660.0,1348.9 1663.0,1349.5 1666.0,1350.2 1669.0,1350.8 1672.0,1351.4 1675.0,1352.0 1678.0,1352.6 1681.0,1353.2 1684.0,1353.8 1687.0,1354.3 1690.0,1354.9 1693.0,1355.5 1696.0,1356.0 1699.0,1356.5 1702.0,1357.0 1705.0,1357.6 1708.0,1358.1 1711.0,1358.6 1714.0,1359.0 1717.0,1359.5 1720.0,1360.0 1723.0,1360.5 1726.0,1360.9 1729.0,1361.4 1732.0,1361.8 1735.0,1362.2 1738.0,1362.7 1741.0,1363.1 1744.0,1363.5 1747.0,1363.9 1750.0,1364.3 1753.0,1364.7 1756.0,1365.1 1759.0,1365.5 1762.0,1365.9 1765.0,1366.2 1768.0,1366.6 1771.0,1367.0 1774.0,1367.3 1777.0,1367.7 1780.0,1368.0 1783.0,1368.3 1786.0,1368.7 1789.0,1369.0 1792.0,1369.3 1795.0,1369.6 1798.0,1369.9 1801.0,1370.2 1804.0,1370.5 1807.0,1370.8 1810.0,1371.1 1813.0,1371.4 1816.0,1371.7 1819.0,1372.0 1822.0,1372.3 1825.0,1372.5 1828.0,1372.8 1831.0,1373.1 1834.0,1373.3 1837.0,1373.6 1840.0,1373.8 1843.0,1374.1 1846.0,1374.3 1849.0,1374.6 1852.0,1374.8 1855.0,1375.0 1858.0,1375.3 1861.0,1375.5 1864.0,1375.7 1867.0,1375.9 1870.0,1376.2 1873.0,1376.4 1876.0,1376.6 1879.0,1376.8 1882.0,1377.0 1885.0,1377.2 1888.0,1377.4 1891.0,1377.6 1894.0,1377.8 1897.0,1378.0 1900.0,1378.2 1903.0,1378.4 1906.0,1378.5 1909.0,1378.7 1912.0,1378.9 1915.0,1379.1 1918.0,1379.3 1921.0,1379.4 1924.0,1379.6 1927.0,1379.8 1930.0,1379.9 1933.0,1380.1 1936.0,1380.3 1939.0,1380.4 1942.0,1380.6 1945.0,1380.7 1948.0,1380.9 1951.0,1381.0 1954.0,1381.2 1957.0,1381.3 1960.0,1381.5 1963.0,1381.6 1966.0,1381.8 1969.0,1381.9 1972.0,1382.0 1975.0,1382.2 1978.0,1382.3 1981.0,1382.4 1984.0,1382.6 1987.0,1382.7 1990.0,1382.8 1993.0,1383.0 1996.0,1383.1 1999.0,1383.2 2002.0,1383.3 2005.0,1383.5 2008.0,1383.6 2011.0,1383.7 2014.0,1383.8 2017.0,1383.9 2020.0,1384.0 2023.0,1384.2 2026.0,1384.3 2029.0,1384.4 2032.0,1384.5 2035.0,1384.6 2038.0,1384.7 2041.0,1384.8 2044.0,1384.9 2047.0,1385.0 2050.0,1385.1 2053.0,1385.2 2056.0,1385.3 2059.0,1385.4 2062.0,1385.5 2065.0,1385.6 2068.0,1385.7 2071.0,1385.8 2074.0,1385.9 2077.0,1386.0 2080.0,1386.1 2083.0,1386.2 2086.0,1386.3 2089.0,1386.4 2092.0,1386.5 2095.0,1386.5 2095.5,1386.6"/>
<polyline id="cv9" points="271.0,1381.9 274.0,1381.8 277.0,1381.7 280.0,1381.6 283.0,1381.5 286.0,1381.4 289.0,1381.3 292.0,1381.2 295.0,1381.1 298.0,1380.9 301.0,1380.8 304.0,1380.7 307.0,1380.5 310.0,1380.4 313.0,1380.2 316.0,1380.1 319.0,1379.9 322.0,1379.7 325.0,1379.6 328.0,1379.4 331.0,1379.2 334.0,1379.0 337.0,1378.8 340.0,1378.5 343.0,1378.3 346.0,1378.0 349.0,1377.8 352.0,1377.5 355.0,1377.3 358.0,1377.0 361.0,1376.7 364.0,1376.3 367.0,1376.0 370.0,1375.7 373.0,1375.3 376.0,1374.9 379.0,1374.5 382.0,1374.1 385.0,1373.7 388.0,1373.3 391.0,1372.8 394.0,1372.3 397.0,1371.8 400.0,1371.3 403.0,1370.7 406.0,1370.2 409.0,1369.6 412.0,1369.0 415.0,1368.3 418.0,1367.6 421.0,1366.9 424.0,1366.2 427.0,1365.5 430.0,1364.7 433.0,1363.9 436.0,1363.0 439.0,1362.1 442.0,1361.2 445.0,1360.3 448.0,1359.3 451.0,1358.2 454.0,1357.2 457.0,1356.1 460.0,1354.9 463.0,1353.7 466.0,1352.5 469.0,1351.2 472.0,1349.9 475.0,1348.6 478.0,1347.2 481.0,1345.7 484.0,1344.2 487.0,1342.6 490.0,1341.0 493.0,1339.4 496.0,1337.7 499.0,1335.9 502.0,1334.1 505.0,1332.2 508.0,1330.2 511.0,1328.2 514.0,1326.2 517.0,1324.1 520.0,1321.9 523.0,1319.6 526.0,1317.3 529.0,1315.0 532.0,1312.5 535.0,1310.0 538.0,1307.5 541.0,1304.8 544.0,1302.1 547.0,1299.4 550.0,1296.5 553.0,1293.6 556.0,1290.6 559.0,1287.6 562.0,1284.4 565.0,1281.2 568.0,1277.9 571.0,1274.6 574.0,1271.2 577.0,1267.7 580.0,1264.1 583.0,1260.5 586.0,1256.7 589.0,1253.0 592.0,1249.1 595.0,1245.1 598.0,1241.1 601.0,1237.0 604.0,1232.9 607.0,1228.6 610.0,1224.3 613.0,1219.9 616.0,1215.5 619.0,1210.9 622.0,1206.3 625.0,1201.7 628.0,1196.9 631.0,1192.1 634.0,1187.2 637.0,1182.3 640.0,1177.3 643.0,1172.2 646.0,1167.0 649.0,1161.8 652.0,1156.6 655.0,1151.2 658.0,1145.8 661.0,1140.4 664.0,1134.9 667.0,1129.3 670.0,1123.7 673.0,1118.1 676.0,1112.4 679.0,1106.6 682.0,1100.8 685.0,1095.0 688.0,1089.1 691.0,1083.1 694.0,1077.2 697.0,1071.2 700.0,1065.1 703.0,1059.1 706.0,1052.9 709.0,1046.8 712.0,1040.7 715.0,1034.5 718.0,1028.3 721.0,1022.1 724.0,1015.9 727.0,1009.6 730.0,1003.4 733.0,997.1 736.0,990.8 739.0,984.5 742.0,978.3 745.0,972.0 748.0,965.7 751.0,959.5 754.0,953.2 757.0,947.0 760.0,940.7 763.0,934.5 766.0,928.3 769.0,922.1 772.0,916.0 775.0,909.9 778.0,903.8 781.0,897.7 784.0,891.7 787.0,885.7 790.0,879.7 793.0,873.8 796.0,867.9 799.0,862.1 802.0,856.3 805.0,850.5 808.0,844.8 811.0,839.2 814.0,833.6 817.0,828.1 820.0,822.6 823.0,817.2 826.0,811.9 829.0,806.6 832.0,801.4 835.0,796.3 838.0,791.2 841.0,786.2 844.0,781.3 847.0,776.5 850.0,771.7 853.0,767.0 856.0,762.4 859.0,757.9 862.0,753.5 865.0,749.1 868.0,744.8 871.0,740.7 874.0,736.6 877.0,732.6 880.0,728.7 883.0,724.9 886.0,721.2 889.0,717.6 892.0,714.1 895.0,710.7 898.0,707.3 901.0,704.1 904.0,701.1 907.0,698.1 910.0,695.2 913.0,692.4 916.0,689.8 919.0,687.2 922.0,684.8 925.0,682.5 928.0,680.3 931.0,678.2 934.0,676.2 937.0,674.4 940.0,672.7 943.0,671.1 946.0,669.7 949.0,668.4 952.0,667.2 955.0,666.1 958.0,665.2 961.0,664.4 964.0,663.8 967.0,663.3 970.0,662.9 973.0,662.7 976.0,662.7 979.0,662.7 982.0,663.0 985.0,663.3 988.0,663.9 991.0,664.5 994.0,665.4 997.0,666.4 1000.0,667.5 1003.0,668.8 1006.0,670.2 1009.0,671.8 1012.0,673.6 1015.0,675.5 1018.0,677.5 1021.0,679.7 1024.0,682.1 1027.0,684.6 1030.0,687.2 1033.0,690.0 1036.0,693.0 1039.0,696.0 1042.0,699.3 1045.0,702.6 1048.0,706.1 1051.0,709.8 1054.0,713.5 1057.0,717.4 1060.0,721.4 1063.0,725.5 1066.0,729.8 1069.0,734.1 1072.0,738.6 1075.0,743.1 1078.0,747.8 1081.0,752.5 1084.0,757.4 1087.0,762.3 1090.0,767.3 1093.0,772.4 1096.0,777.6 1099.0,782.8 1102.0,788.1 1105.0,793.5 1108.0,798.9 1111.0,804.4 1114.0,809.9 1117.0,815.5 1120.0,821.1 1123.0,826.7 1126.0,832.4 1129.0,838.1 1132.0,843.8 1135.0,849.5 1138.0,855.3 1141.0,861.1 1144.0,866.8 1147.0,872.6 1150.0,878.4 1153.0,884.2 1156.0,890.0 1159.0,895.8 1162.0,901.6 1165.0,907.4 1168.0,913.1 1171.0,918.9 1174.0,924.6 1177.0,930.3 1180.0,936.0 1183.0,941.7 1186.0,947.3 1189.0,952.9 1192.0,958.5 1195.0,964.1 1198.0,969.6 1201.0,975.1 1204.0,980.5 1207.0,986.0 1210.0,991.3 1213.0,996.7 1216.0,1002.0 1219.0,1007.3 1222.0,1012.5 1225.0,1017.7 1228.0,1022.8 1231.0,1027.9 1234.0,1033.0 1237.0,1038.0 1240.0,1043.0 1243.0,1047.9 1246.0,1052.7 1249.0,1057.6 1252.0,1062.4 1255.0,1067.1 1258.0,1071.8 1261.0,1076.4 1264.0,1081.0 1267.0,1085.5 1270.0,1090.0 1273.0,1094.5 1276.0,1098.9 1279.0,1103.2 1282.0,1107.5 1285.0,1111.7 1288.0,1115.9 1291.0,1120.1 1294.0,1124.2 1297.0,1128.2 1300.0,1132.2 1303.0,1136.2 1306.0,1140.1 1309.0,1143.9 1312.0,1147.7 1315.0,1151.5 1318.0,1155.2 1321.0,1158.9 1324.0,1162.5 1327.0,1166.0 1330.0,1169.6 1333.0,1173.0 1336.0,1176.5 1339.0,1179.8 1342.0,1183.2 1345.0,1186.4 1348.0,1189.7 1351.0,1192.9 1354.0,1196.0 1357.0,1199.1 1360.0,1202.2 1363.0,1205.2 1366.0,1208.2 1369.0,1211.1 1372.0,1214.0 1375.0,1216.9 1378.0,1219.7 1381.0,1222.4 1384.0,1225.2 1387.0,1227.8 1390.0,1230.5 1393.0,1233.1 1396.0,1235.7 1399.0,1238.2 1402.0,1240.7 1405.0,1243.1 1408.0,1245.5 1411.0,1247.9 1414.0,1250.2 1417.0,1252.5 1420.0,1254.8 1423.0,1257.0 1426.0,1259.2 1429.0,1261.4 1432.0,1263.5 1435.0,1265.6 1438.0,1267.7 1441.0,1269.7 1444.0,1271.7 1447.0,1273.6 1450.0,1275.6 1453.0,1277.5 1456.0,1279.3 1459.0,1281.2 1462.0,1283.0 1465.0,1284.8 1468.0,1286.5 1471.0,1288.2 1474.0,1289.9 1477.0,1291.6 1480.0,1293.2 1483.0,1294.8 1486.0,1296.4 1489.0,1298.0 1492.0,1299.5 1495.0,1301.0 1498.0,1302.5 1501.0,1303.9 1504.0,1305.4 1507.0,1306.8 1510.0,1308.1 1513.0,1309.5 1516.0,1310.8 1519.0,1312.2 1522.0,1313.4 1525.0,1314.7 1528.0,1316.0 1531.0,1317.2 1534.0,1318.4 1537.0,1319.6 1540.0,1320.7 1543.0,1321.9 1546.0,1323.0 1549.0,1324.1 1552.0,1325.2 1555.0,1326.3 1558.0,1327.3 1561.0,1328.3 1564.0,1329.4 1567.0,1330.4 1570.0,1331.3 1573.0,1332.3 1576.0,1333.2 1579.0,1334.2 1582.0,1335.1 1585.0,1336.0 1588.0,1336.9 1591.0,1337.7 1594.0,1338.6 1597.0,1339.4 1600.0,1340.3 1603.0,1341.1 1606.0,1341.9 1609.0,1342.6 1612.0,1343.4 1615.0,1344.2 1618.0,1344.9 1621.0,1345.6 1624.0,1346.4 1627.0,1347.1 1630.0,1347.8 1633.0,1348.4 1636.0,1349.1 1639.0,1349.8 1642.0,1350.4 1645.0,1351.0 1648.0,1351.7 1651.0,1352.3 1654.0,1352.9 1657.0,1353.5 1660.0,1354.1 1663.0,1354.6 1666.0,1355.2 1669.0,1355.8 1672.0,1356.3 1675.0,1356.8 1678.0,1357.4 1681.0,1357.9 1684.0,1358.4 1687.0,1358.9 1690.0,1359.4 1693.0,1359.9 1696.0,1360.3 1699.0,1360.8 1702.0,1361.3 1705.0,1361.7 1708.0,1362.2 1711.0,1362.6 1714.0,1363.0 1717.0,1363.5 1720.0,1363.9 1723.0,1364.3 1726.0,1364.7 1729.0,1365.1 1732.0,1365.5 1735.0,1365.9 1738.0,1366.3 1741.0,1366.6 1744.0,1367.0 1747.0,1367.3 1750.0,1367.7 1753.0,1368.1 1756.0,1368.4 1759.0,1368.7 1762.0,1369.1 1765.0,1369.4 1768.0,1369.7 1771.0,1370.0 1774.0,1370.3 1777.0,1370.6 1780.0,1371.0 1783.0,1371.2 1786.0,1371.5 1789.0,1371.8 1792.0,1372.1 1795.0,1372.4 1798.0,1372.7 1801.0,1372.9 1804.0,1373.2 1807.0,1373.5 1810.0,1373.7 1813.0,1374.0 1816.0,1374.2 1819.0,1374.5 1822.0,1374.7 1825.0,1375.0 1828.0,1375.2 1831.0,1375.4 1834.0,1375.7 1837.0,1375.9 1840.0,1376.1 1843.0,1376.3 1846.0,1376.5 1849.0,1376.8 1852.0,1377.0 1855.0,1377.2 1858.0,1377.4 1861.0,1377.6 1864.0,1377.8 1867.0,1378.0 1870.0,1378.2 1873.0,1378.4 1876.0,1378.5 1879.0,1378.7 1882.0,1378.9 1885.0,1379.1 1888.0,1379.3 1891.0,1379.4 1894.0,1379.6 1897.0,1379.8 1900.0,1379.9 1903.0,1380.1 1906.0,1380.3 1909.0,1380.4 1912.0,1380.6 1915.0,1380.7 1918.0,1380.9 1921.0,1381.1 1924.0,1381.2 1927.0,1381.4 1930.0,1381.5 1933.0,1381.6 1936.0,1381.8 1939.0,1381.9 1942.0,1382.1 1945.0,1382.2 1948.0,1382.3 1951.0,1382.5 1954.0,1382.6 1957.0,1382.7 1960.0,1382.9 1963.0,1383.0 1966.0,1383.1 1969.0,1383.2 1972.0,1383.4 1975.0,1383.5 1978.0,1383.6 1981.0,1383.7 1984.0,1383.8 1987.0,1384.0 1990.0,1384.1 1993.0,1384.2 1996.0,1384.3 1999.0,1384.4 2002.0,1384.5 2005.0,1384.6 2008.0,1384.7 2011.0,1384.8 2014.0,1384.9 2017.0,1385.0 2020.0,1385.1 2023.0,1385.2 2026.0,1385.3 2029.0,1385.4 2032.0,1385.5 2035.0,1385.6 2038.0,1385.7 2041.0,1385.8 2044.0,1385.9 2047.0,1386.0 2050.0,1386.1 2053.0,1386.2 2056.0,1386.3 2059.0,1386.4 2062.0,1386.4 2065.0,1386.5 2068.0,1386.6 2071.0,1386.7 2074.0,1386.8 2077.0,1386.9 2080.0,1386.9 2083.0,1387.0 2086.0,1387.1 2089.0,1387.2 2092.0,1387.3 2095.0,1387.3 2095.5,1387.4"/>
<polyline id="cv10" points="271.0,1382.8 274.0,1382.7 277.0,1382.6 280.0,1382.5 283.0,1382.4 286.0,1382.3 289.0,1382.2 292.0,1382.1 295.0,1382.0 298.0,1381.9 301.0,1381.7 304.0,1381.6 307.0,1381.5 310.0,1381.3 313.0,1381.2 316.0,1381.0 319.0,1380.9 322.0,1380.7 325.0,1380.6 328.0,1380.4 331.0,1380.2 334.0,1380.0 337.0,1379.8 340.0,1379.6 343.0,1379.4 346.0,1379.2 349.0,1378.9 352.0,1378.7 355.0,1378.4 358.0,1378.2 361.0,1377.9 364.0,1377.6 367.0,1377.3 370.0,1377.0 373.0,1376.6 376.0,1376.3 379.0,1375.9 382.0,1375.5 385.0,1375.1 388.0,1374.7 391.0,1374.3 394.0,1373.8 397.0,1373.4 400.0,1372.9 403.0,1372.4 406.0,1371.9 409.0,1371.3 412.0,1370.7 415.0,1370.1 418.0,1369.5 421.0,1368.9 424.0,1368.2 427.0,1367.5 430.0,1366.8 433.0,1366.0 436.0,1365.2 439.0,1364.4 442.0,1363.5 445.0,1362.7 448.0,1361.7 451.0,1360.8 454.0,1359.8 457.0,1358.8 460.0,1357.7 463.0,1356.6 466.0,1355.5 469.0,1354.3 472.0,1353.1 475.0,1351.8 478.0,1350.5 481.0,1349.2 484.0,1347.8 487.0,1346.3 490.0,1344.8 493.0,1343.3 496.0,1341.7 499.0,1340.0 502.0,1338.4 505.0,1336.6 508.0,1334.8 511.0,1333.0 514.0,1331.1 517.0,1329.1 520.0,1327.1 523.0,1325.0 526.0,1322.8 529.0,1320.6 532.0,1318.4 535.0,1316.1 538.0,1313.7 541.0,1311.2 544.0,1308.7 547.0,1306.2 550.0,1303.5 553.0,1300.8 556.0,1298.0 559.0,1295.2 562.0,1292.3 565.0,1289.3 568.0,1286.3 571.0,1283.2 574.0,1280.0 577.0,1276.8 580.0,1273.5 583.0,1270.1 586.0,1266.6 589.0,1263.1 592.0,1259.5 595.0,1255.9 598.0,1252.1 601.0,1248.3 604.0,1244.5 607.0,1240.5 610.0,1236.5 613.0,1232.5 616.0,1228.3 619.0,1224.1 622.0,1219.9 625.0,1215.5 628.0,1211.1 631.0,1206.7 634.0,1202.1 637.0,1197.5 640.0,1192.9 643.0,1188.2 646.0,1183.4 649.0,1178.6 652.0,1173.7 655.0,1168.7 658.0,1163.7 661.0,1158.7 664.0,1153.6 667.0,1148.4 670.0,1143.2 673.0,1138.0 676.0,1132.7 679.0,1127.3 682.0,1122.0 685.0,1116.5 688.0,1111.1 691.0,1105.6 694.0,1100.0 697.0,1094.5 700.0,1088.8 703.0,1083.2 706.0,1077.6 709.0,1071.9 712.0,1066.2 715.0,1060.4 718.0,1054.7 721.0,1048.9 724.0,1043.1 727.0,1037.3 730.0,1031.5 733.0,1025.7 736.0,1019.9 739.0,1014.1 742.0,1008.3 745.0,1002.5 748.0,996.6 751.0,990.8 754.0,985.0 757.0,979.2 760.0,973.4 763.0,967.7 766.0,961.9 769.0,956.2 772.0,950.5 775.0,944.8 778.0,939.1 781.0,933.5 784.0,927.9 787.0,922.4 790.0,916.8 793.0,911.3 796.0,905.9 799.0,900.5 802.0,895.1 805.0,889.8 808.0,884.5 811.0,879.3 814.0,874.1 817.0,869.0 820.0,863.9 823.0,858.9 826.0,853.9 829.0,849.0 832.0,844.2 835.0,839.4 838.0,834.7 841.0,830.1 844.0,825.5 847.0,821.1 850.0,816.6 853.0,812.3 856.0,808.0 859.0,803.8 862.0,799.7 865.0,795.7 868.0,791.7 871.0,787.8 874.0,784.0 877.0,780.3 880.0,776.7 883.0,773.2 886.0,769.8 889.0,766.4 892.0,763.2 895.0,760.0 898.0,756.9 901.0,754.0 904.0,751.1 907.0,748.3 910.0,745.6 913.0,743.1 916.0,740.6 919.0,738.2 922.0,736.0 925.0,733.8 928.0,731.8 931.0,729.9 934.0,728.1 937.0,726.4 940.0,724.8 943.0,723.3 946.0,722.0 949.0,720.8 952.0,719.7 955.0,718.7 958.0,717.8 961.0,717.1 964.0,716.5 967.0,716.1 970.0,715.7 973.0,715.5 976.0,715.5 979.0,715.5 982.0,715.8 985.0,716.1 988.0,716.6 991.0,717.2 994.0,718.0 997.0,718.9 1000.0,719.9 1003.0,721.1 1006.0,722.5 1009.0,724.0 1012.0,725.6 1015.0,727.3 1018.0,729.2 1021.0,731.3 1024.0,733.5 1027.0,735.8 1030.0,738.3 1033.0,740.8 1036.0,743.6 1039.0,746.4 1042.0,749.4 1045.0,752.5 1048.0,755.8 1051.0,759.2 1054.0,762.6 1057.0,766.2 1060.0,770.0 1063.0,773.8 1066.0,777.7 1069.0,781.8 1072.0,785.9 1075.0,790.1 1078.0,794.4 1081.0,798.9 1084.0,803.4 1087.0,807.9 1090.0,812.6 1093.0,817.3 1096.0,822.1 1099.0,827.0 1102.0,831.9 1105.0,836.9 1108.0,841.9 1111.0,847.0 1114.0,852.1 1117.0,857.2 1120.0,862.4 1123.0,867.7 1126.0,872.9 1129.0,878.2 1132.0,883.5 1135.0,888.8 1138.0,894.2 1141.0,899.5 1144.0,904.9 1147.0,910.3 1150.0,915.6 1153.0,921.0 1156.0,926.4 1159.0,931.8 1162.0,937.1 1165.0,942.5 1168.0,947.8 1171.0,953.2 1174.0,958.5 1177.0,963.8 1180.0,969.1 1183.0,974.3 1186.0,979.5 1189.0,984.8 1192.0,989.9 1195.0,995.1 1198.0,1000.2 1201.0,1005.3 1204.0,1010.4 1207.0,1015.4 1210.0,1020.4 1213.0,1025.4 1216.0,1030.3 1219.0,1035.2 1222.0,1040.0 1225.0,1044.8 1228.0,1049.6 1231.0,1054.3 1234.0,1059.0 1237.0,1063.7 1240.0,1068.3 1243.0,1072.8 1246.0,1077.4 1249.0,1081.8 1252.0,1086.3 1255.0,1090.7 1258.0,1095.0 1261.0,1099.3 1264.0,1103.6 1267.0,1107.8 1270.0,1112.0 1273.0,1116.1 1276.0,1120.1 1279.0,1124.2 1282.0,1128.2 1285.0,1132.1 1288.0,1136.0 1291.0,1139.8 1294.0,1143.6 1297.0,1147.4 1300.0,1151.1 1303.0,1154.8 1306.0,1158.4 1309.0,1162.0 1312.0,1165.5 1315.0,1169.0 1318.0,1172.4 1321.0,1175.8 1324.0,1179.2 1327.0,1182.5 1330.0,1185.7 1333.0,1189.0 1336.0,1192.1 1339.0,1195.3 1342.0,1198.4 1345.0,1201.4 1348.0,1204.4 1351.0,1207.4 1354.0,1210.3 1357.0,1213.2 1360.0,1216.0 1363.0,1218.8 1366.0,1221.6 1369.0,1224.3 1372.0,1227.0 1375.0,1229.6 1378.0,1232.2 1381.0,1234.8 1384.0,1237.3 1387.0,1239.8 1390.0,1242.3 1393.0,1244.7 1396.0,1247.1 1399.0,1249.4 1402.0,1251.7 1405.0,1254.0 1408.0,1256.2 1411.0,1258.4 1414.0,1260.6 1417.0,1262.7 1420.0,1264.8 1423.0,1266.9 1426.0,1268.9 1429.0,1270.9 1432.0,1272.9 1435.0,1274.9 1438.0,1276.8 1441.0,1278.6 1444.0,1280.5 1447.0,1282.3 1450.0,1284.1 1453.0,1285.9 1456.0,1287.6 1459.0,1289.3 1462.0,1291.0 1465.0,1292.6 1468.0,1294.2 1471.0,1295.8 1474.0,1297.4 1477.0,1298.9 1480.0,1300.5 1483.0,1302.0 1486.0,1303.4 1489.0,1304.9 1492.0,1306.3 1495.0,1307.7 1498.0,1309.1 1501.0,1310.4 1504.0,1311.7 1507.0,1313.0 1510.0,1314.3 1513.0,1315.6 1516.0,1316.8 1519.0,1318.0 1522.0,1319.2 1525.0,1320.4 1528.0,1321.6 1531.0,1322.7 1534.0,1323.8 1537.0,1324.9 1540.0,1326.0 1543.0,1327.1 1546.0,1328.1 1549.0,1329.1 1552.0,1330.1 1555.0,1331.1 1558.0,1332.1 1561.0,1333.1 1564.0,1334.0 1567.0,1334.9 1570.0,1335.8 1573.0,1336.7 1576.0,1337.6 1579.0,1338.5 1582.0,1339.3 1585.0,1340.1 1588.0,1341.0 1591.0,1341.8 1594.0,1342.6 1597.0,1343.3 1600.0,1344.1 1603.0,1344.9 1606.0,1345.6 1609.0,1346.3 1612.0,1347.0 1615.0,1347.7 1618.0,1348.4 1621.0,1349.1 1624.0,1349.8 1627.0,1350.4 1630.0,1351.1 1633.0,1351.7 1636.0,1352.3 1639.0,1352.9 1642.0,1353.5 1645.0,1354.1 1648.0,1354.7 1651.0,1355.3 1654.0,1355.8 1657.0,1356.4 1660.0,1356.9 1663.0,1357.4 1666.0,1358.0 1669.0,1358.5 1672.0,1359.0 1675.0,1359.5 1678.0,1360.0 1681.0,1360.5 1684.0,1360.9 1687.0,1361.4 1690.0,1361.9 1693.0,1362.3 1696.0,1362.7 1699.0,1363.2 1702.0,1363.6 1705.0,1364.0 1708.0,1364.4 1711.0,1364.8 1714.0,1365.2 1717.0,1365.6 1720.0,1366.0 1723.0,1366.4 1726.0,1366.8 1729.0,1367.2 1732.0,1367.5 1735.0,1367.9 1738.0,1368.2 1741.0,1368.6 1744.0,1368.9 1747.0,1369.2 1750.0,1369.6 1753.0,1369.9 1756.0,1370.2 1759.0,1370.5 1762.0,1370.8 1765.0,1371.1 1768.0,1371.4 1771.0,1371.7 1774.0,1372.0 1777.0,1372.3 1780.0,1372.6 1783.0,1372.9 1786.0,1373.1 1789.0,1373.4 1792.0,1373.7 1795.0,1373.9 1798.0,1374.2 1801.0,1374.4 1804.0,1374.7 1807.0,1374.9 1810.0,1375.2 1813.0,1375.4 1816.0,1375.6 1819.0,1375.9 1822.0,1376.1 1825.0,1376.3 1828.0,1376.5 1831.0,1376.7 1834.0,1376.9 1837.0,1377.2 1840.0,1377.4 1843.0,1377.6 1846.0,1377.8 1849.0,1378.0 1852.0,1378.2 1855.0,1378.4 1858.0,1378.5 1861.0,1378.7 1864.0,1378.9 1867.0,1379.1 1870.0,1379.3 1873.0,1379.4 1876.0,1379.6 1879.0,1379.8 1882.0,1380.0 1885.0,1380.1 1888.0,1380.3 1891.0,1380.5 1894.0,1380.6 1897.0,1380.8 1900.0,1380.9 1903.0,1381.1 1906.0,1381.2 1909.0,1381.4 1912.0,1381.5 1915.0,1381.7 1918.0,1381.8 1921.0,1382.0 1924.0,1382.1 1927.0,1382.2 1930.0,1382.4 1933.0,1382.5 1936.0,1382.6 1939.0,1382.8 1942.0,1382.9 1945.0,1383.0 1948.0,1383.1 1951.0,1383.3 1954.0,1383.4 1957.0,1383.5 1960.0,1383.6 1963.0,1383.8 1966.0,1383.9 1969.0,1384.0 1972.0,1384.1 1975.0,1384.2 1978.0,1384.3 1981.0,1384.4 1984.0,1384.5 1987.0,1384.6 1990.0,1384.8 1993.0,1384.9 1996.0,1385.0 1999.0,1385.1 2002.0,1385.2 2005.0,1385.3 2008.0,1385.4 2011.0,1385.5 2014.0,1385.6 2017.0,1385.6 2020.0,1385.7 2023.0,1385.8 2026.0,1385.9 2029.0,1386.0 2032.0,1386.1 2035.0,1386.2 2038.0,1386.3 2041.0,1386.4 2044.0,1386.5 2047.0,1386.5 2050.0,1386.6 2053.0,1386.7 2056.0,1386.8 2059.0,1386.9 2062.0,1387.0 2065.0,1387.0 2068.0,1387.1 2071.0,1387.2 2074.0,1387.3 2077.0,1387.3 2080.0,1387.4 2083.0,1387.5 2086.0,1387.6 2089.0,1387.6 2092.0,1387.7 2095.0,1387.8 2095.5,1387.8"/>
<polyline id="cv11" points="271.0,1383.5 274.0,1383.4 277.0,1383.3 280.0,1383.2 283.0,1383.1 286.0,1383.0 289.0,1382.9 292.0,1382.8 295.0,1382.7 298.0,1382.6 301.0,1382.5 304.0,1382.4 307.0,1382.3 310.0,1382.2 313.0,1382.0 316.0,1381.9 319.0,1381.7 322.0,1381.6 325.0,1381.4 328.0,1381.3 331.0,1381.1 334.0,1380.9 337.0,1380.7 340.0,1380.5 343.0,1380.3 346.0,1380.1 349.0,1379.9 352.0,1379.7 355.0,1379.4 358.0,1379.2 361.0,1378.9 364.0,1378.7 367.0,1378.4 370.0,1378.1 373.0,1377.8 376.0,1377.4 379.0,1377.1 382.0,1376.7 385.0,1376.4 388.0,1376.0 391.0,1375.6 394.0,1375.2 397.0,1374.7 400.0,1374.3 403.0,1373.8 406.0,1373.3 409.0,1372.8 412.0,1372.3 415.0,1371.7 418.0,1371.1 421.0,1370.5 424.0,1369.9 427.0,1369.2 430.0,1368.6 433.0,1367.9 436.0,1367.1 439.0,1366.4 442.0,1365.6 445.0,1364.7 448.0,1363.9 451.0,1363.0 454.0,1362.1 457.0,1361.1 460.0,1360.1 463.0,1359.1 466.0,1358.0 469.0,1356.9 472.0,1355.8 475.0,1354.6 478.0,1353.4 481.0,1352.1 484.0,1350.8 487.0,1349.5 490.0,1348.1 493.0,1346.7 496.0,1345.2 499.0,1343.7 502.0,1342.1 505.0,1340.4 508.0,1338.8 511.0,1337.0 514.0,1335.3 517.0,1333.4 520.0,1331.5 523.0,1329.6 526.0,1327.6 529.0,1325.6 532.0,1323.5 535.0,1321.3 538.0,1319.1 541.0,1316.8 544.0,1314.4 547.0,1312.0 550.0,1309.6 553.0,1307.1 556.0,1304.5 559.0,1301.8 562.0,1299.1 565.0,1296.4 568.0,1293.5 571.0,1290.6 574.0,1287.7 577.0,1284.6 580.0,1281.6 583.0,1278.4 586.0,1275.2 589.0,1271.9 592.0,1268.6 595.0,1265.1 598.0,1261.7 601.0,1258.1 604.0,1254.5 607.0,1250.9 610.0,1247.1 613.0,1243.3 616.0,1239.5 619.0,1235.5 622.0,1231.6 625.0,1227.5 628.0,1223.4 631.0,1219.3 634.0,1215.0 637.0,1210.8 640.0,1206.4 643.0,1202.0 646.0,1197.6 649.0,1193.1 652.0,1188.5 655.0,1183.9 658.0,1179.2 661.0,1174.5 664.0,1169.8 667.0,1165.0 670.0,1160.1 673.0,1155.2 676.0,1150.3 679.0,1145.3 682.0,1140.3 685.0,1135.2 688.0,1130.1 691.0,1125.0 694.0,1119.8 697.0,1114.6 700.0,1109.4 703.0,1104.1 706.0,1098.9 709.0,1093.6 712.0,1088.2 715.0,1082.9 718.0,1077.5 721.0,1072.2 724.0,1066.8 727.0,1061.4 730.0,1056.0 733.0,1050.5 736.0,1045.1 739.0,1039.7 742.0,1034.2 745.0,1028.8 748.0,1023.4 751.0,1018.0 754.0,1012.6 757.0,1007.2 760.0,1001.8 763.0,996.4 766.0,991.0 769.0,985.7 772.0,980.4 775.0,975.1 778.0,969.8 781.0,964.5 784.0,959.3 787.0,954.1 790.0,949.0 793.0,943.8 796.0,938.8 799.0,933.7 802.0,928.7 805.0,923.7 808.0,918.8 811.0,913.9 814.0,909.1 817.0,904.3 820.0,899.6 823.0,894.9 826.0,890.3 829.0,885.8 832.0,881.2 835.0,876.8 838.0,872.4 841.0,868.1 844.0,863.8 847.0,859.7 850.0,855.5 853.0,851.5 856.0,847.5 859.0,843.6 862.0,839.7 865.0,836.0 868.0,832.3 871.0,828.7 874.0,825.1 877.0,821.7 880.0,818.3 883.0,815.0 886.0,811.8 889.0,808.7 892.0,805.7 895.0,802.7 898.0,799.9 901.0,797.1 904.0,794.4 907.0,791.8 910.0,789.3 913.0,786.9 916.0,784.6 919.0,782.4 922.0,780.3 925.0,778.3 928.0,776.4 931.0,774.6 934.0,773.0 937.0,771.4 940.0,769.9 943.0,768.5 946.0,767.3 949.0,766.1 952.0,765.1 955.0,764.2 958.0,763.4 961.0,762.7 964.0,762.2 967.0,761.7 970.0,761.4 973.0,761.3 976.0,761.2 979.0,761.3 982.0,761.5 985.0,761.8 988.0,762.2 991.0,762.8 994.0,763.5 997.0,764.4 1000.0,765.4 1003.0,766.5 1006.0,767.7 1009.0,769.1 1012.0,770.6 1015.0,772.3 1018.0,774.0 1021.0,775.9 1024.0,778.0 1027.0,780.1 1030.0,782.4 1033.0,784.9 1036.0,787.4 1039.0,790.1 1042.0,792.9 1045.0,795.8 1048.0,798.8 1051.0,801.9 1054.0,805.2 1057.0,808.5 1060.0,812.0 1063.0,815.6 1066.0,819.2 1069.0,823.0 1072.0,826.9 1075.0,830.8 1078.0,834.8 1081.0,839.0 1084.0,843.2 1087.0,847.4 1090.0,851.8 1093.0,856.2 1096.0,860.6 1099.0,865.2 1102.0,869.8 1105.0,874.4 1108.0,879.1 1111.0,883.8 1114.0,888.6 1117.0,893.4 1120.0,898.2 1123.0,903.1 1126.0,908.0 1129.0,913.0 1132.0,917.9 1135.0,922.9 1138.0,927.9 1141.0,932.8 1144.0,937.8 1147.0,942.9 1150.0,947.9 1153.0,952.9 1156.0,957.9 1159.0,962.9 1162.0,967.9 1165.0,972.9 1168.0,977.9 1171.0,982.9 1174.0,987.8 1177.0,992.8 1180.0,997.7 1183.0,1002.6 1186.0,1007.5 1189.0,1012.3 1192.0,1017.1 1195.0,1022.0 1198.0,1026.7 1201.0,1031.5 1204.0,1036.2 1207.0,1040.9 1210.0,1045.6 1213.0,1050.2 1216.0,1054.8 1219.0,1059.3 1222.0,1063.9 1225.0,1068.3 1228.0,1072.8 1231.0,1077.2 1234.0,1081.6 1237.0,1085.9 1240.0,1090.2 1243.0,1094.5 1246.0,1098.7 1249.0,1102.9 1252.0,1107.0 1255.0,1111.1 1258.0,1115.1 1261.0,1119.2 1264.0,1123.1 1267.0,1127.1 1270.0,1130.9 1273.0,1134.8 1276.0,1138.6 1279.0,1142.3 1282.0,1146.1 1285.0,1149.7 1288.0,1153.4 1291.0,1156.9 1294.0,1160.5 1297.0,1164.0 1300.0,1167.5 1303.0,1170.9 1306.0,1174.2 1309.0,1177.6 1312.0,1180.9 1315.0,1184.1 1318.0,1187.3 1321.0,1190.5 1324.0,1193.6 1327.0,1196.7 1330.0,1199.7 1333.0,1202.8 1336.0,1205.7 1339.0,1208.6 1342.0,1211.5 1345.0,1214.4 1348.0,1217.2 1351.0,1219.9 1354.0,1222.7 1357.0,1225.3 1360.0,1228.0 1363.0,1230.6 1366.0,1233.2 1369.0,1235.7 1372.0,1238.2 1375.0,1240.7 1378.0,1243.1 1381.0,1245.5 1384.0,1247.9 1387.0,1250.2 1390.0,1252.5 1393.0,1254.7 1396.0,1256.9 1399.0,1259.1 1402.0,1261.3 1405.0,1263.4 1408.0,1265.5 1411.0,1267.5 1414.0,1269.6 1417.0,1271.5 1420.0,1273.5 1423.0,1275.4 1426.0,1277.3 1429.0,1279.2 1432.0,1281.0 1435.0,1282.9 1438.0,1284.6 1441.0,1286.4 1444.0,1288.1 1447.0,1289.8 1450.0,1291.5 1453.0,1293.1 1456.0,1294.7 1459.0,1296.3 1462.0,1297.9 1465.0,1299.4 1468.0,1300.9 1471.0,1302.4 1474.0,1303.9 1477.0,1305.3 1480.0,1306.7 1483.0,1308.1 1486.0,1309.5 1489.0,1310.8 1492.0,1312.2 1495.0,1313.5 1498.0,1314.7 1501.0,1316.0 1504.0,1317.2 1507.0,1318.5 1510.0,1319.7 1513.0,1320.8 1516.0,1322.0 1519.0,1323.1 1522.0,1324.2 1525.0,1325.3 1528.0,1326.4 1531.0,1327.5 1534.0,1328.5 1537.0,1329.5 1540.0,1330.5 1543.0,1331.5 1546.0,1332.5 1549.0,1333.5 1552.0,1334.4 1555.0,1335.3 1558.0,1336.2 1561.0,1337.1 1564.0,1338.0 1567.0,1338.9 1570.0,1339.7 1573.0,1340.6 1576.0,1341.4 1579.0,1342.2 1582.0,1343.0 1585.0,1343.7 1588.0,1344.5 1591.0,1345.3 1594.0,1346.0 1597.0,1346.7 1600.0,1347.4 1603.0,1348.1 1606.0,1348.8 1609.0,1349.5 1612.0,1350.2 1615.0,1350.8 1618.0,1351.5 1621.0,1352.1 1624.0,1352.7 1627.0,1353.3 1630.0,1353.9 1633.0,1354.5 1636.0,1355.1 1639.0,1355.7 1642.0,1356.2 1645.0,1356.8 1648.0,1357.3 1651.0,1357.8 1654.0,1358.4 1657.0,1358.9 1660.0,1359.4 1663.0,1359.9 1666.0,1360.4 1669.0,1360.8 1672.0,1361.3 1675.0,1361.8 1678.0,1362.2 1681.0,1362.7 1684.0,1363.1 1687.0,1363.6 1690.0,1364.0 1693.0,1364.4 1696.0,1364.8 1699.0,1365.2 1702.0,1365.6 1705.0,1366.0 1708.0,1366.4 1711.0,1366.8 1714.0,1367.2 1717.0,1367.5 1720.0,1367.9 1723.0,1368.2 1726.0,1368.6 1729.0,1368.9 1732.0,1369.3 1735.0,1369.6 1738.0,1369.9 1741.0,1370.2 1744.0,1370.6 1747.0,1370.9 1750.0,1371.2 1753.0,1371.5 1756.0,1371.8 1759.0,1372.1 1762.0,1372.4 1765.0,1372.6 1768.0,1372.9 1771.0,1373.2 1774.0,1373.5 1777.0,1373.7 1780.0,1374.0 1783.0,1374.2 1786.0,1374.5 1789.0,1374.8 1792.0,1375.0 1795.0,1375.2 1798.0,1375.5 1801.0,1375.7 1804.0,1375.9 1807.0,1376.2 1810.0,1376.4 1813.0,1376.6 1816.0,1376.8 1819.0,1377.0 1822.0,1377.3 1825.0,1377.5 1828.0,1377.7 1831.0,1377.9 1834.0,1378.1 1837.0,1378.3 1840.0,1378.5 1843.0,1378.6 1846.0,1378.8 1849.0,1379.0 1852.0,1379.2 1855.0,1379.4 1858.0,1379.6 1861.0,1379.7 1864.0,1379.9 1867.0,1380.1 1870.0,1380.2 1873.0,1380.4 1876.0,1380.6 1879.0,1380.7 1882.0,1380.9 1885.0,1381.0 1888.0,1381.2 1891.0,1381.3 1894.0,1381.5 1897.0,1381.6 1900.0,1381.8 1903.0,1381.9 1906.0,1382.1 1909.0,1382.2 1912.0,1382.3 1915.0,1382.5 1918.0,1382.6 1921.0,1382.7 1924.0,1382.9 1927.0,1383.0 1930.0,1383.1 1933.0,1383.2 1936.0,1383.4 1939.0,1383.5 1942.0,1383.6 1945.0,1383.7 1948.0,1383.8 1951.0,1384.0 1954.0,1384.1 1957.0,1384.2 1960.0,1384.3 1963.0,1384.4 1966.0,1384.5 1969.0,1384.6 1972.0,1384.7 1975.0,1384.8 1978.0,1384.9 1981.0,1385.0 1984.0,1385.1 1987.0,1385.2 1990.0,1385.3 1993.0,1385.4 1996.0,1385.5 1999.0,1385.6 2002.0,1385.7 2005.0,1385.8 2008.0,1385.9 2011.0,1386.0 2014.0,1386.1 2017.0,1386.2 2020.0,1386.3 2023.0,1386.4 2026.0,1386.4 2029.0,1386.5 2032.0,1386.6 2035.0,1386.7 2038.0,1386.8 2041.0,1386.9 2044.0,1386.9 2047.0,1387.0 2050.0,1387.1 2053.0,1387.2 2056.0,1387.2 2059.0,1387.3 2062.0,1387.4 2065.0,1387.5 2068.0,1387.5 2071.0,1387.6 2074.0,1387.7 2077.0,1387.8 2080.0,1387.8 2083.0,1387.9 2086.0,1388.0 2089.0,1388.0 2092.0,1388.1 2095.0,1388.2 2095.5,1388.2"/>
<polyline id="cv12" points="271.0,1384.1 274.0,1384.0 277.0,1383.9 280.0,1383.9 283.0,1383.8 286.0,1383.7 289.0,1383.6 292.0,1383.5 295.0,1383.4 298.0,1383.3 301.0,1383.2 304.0,1383.1 307.0,1383.0 310.0,1382.8 313.0,1382.7 316.0,1382.6 319.0,1382.5 322.0,1382.3 325.0,1382.2 328.0,1382.0 331.0,1381.9 334.0,1381.7 337.0,1381.5 340.0,1381.3 343.0,1381.1 346.0,1380.9 349.0,1380.7 352.0,1380.5 355.0,1380.3 358.0,1380.1 361.0,1379.8 364.0,1379.6 367.0,1379.3 370.0,1379.0 373.0,1378.7 376.0,1378.4 379.0,1378.1 382.0,1377.8 385.0,1377.4 388.0,1377.1 391.0,1376.7 394.0,1376.3 397.0,1375.9 400.0,1375.5 403.0,1375.0 406.0,1374.5 409.0,1374.1 412.0,1373.6 415.0,1373.0 418.0,1372.5 421.0,1371.9 424.0,1371.3 427.0,1370.7 430.0,1370.1 433.0,1369.4 436.0,1368.7 439.0,1368.0 442.0,1367.3 445.0,1366.5 448.0,1365.7 451.0,1364.9 454.0,1364.0 457.0,1363.1 460.0,1362.2 463.0,1361.2 466.0,1360.2 469.0,1359.2 472.0,1358.1 475.0,1357.0 478.0,1355.9 481.0,1354.7 484.0,1353.4 487.0,1352.2 490.0,1350.9 493.0,1349.5 496.0,1348.1 499.0,1346.7 502.0,1345.2 505.0,1343.7 508.0,1342.1 511.0,1340.5 514.0,1338.8 517.0,1337.1 520.0,1335.3 523.0,1333.5 526.0,1331.6 529.0,1329.7 532.0,1327.7 535.0,1325.7 538.0,1323.6 541.0,1321.5 544.0,1319.3 547.0,1317.0 550.0,1314.7 553.0,1312.3 556.0,1309.9 559.0,1307.4 562.0,1304.9 565.0,1302.3 568.0,1299.6 571.0,1296.9 574.0,1294.1 577.0,1291.3 580.0,1288.4 583.0,1285.4 586.0,1282.4 589.0,1279.3 592.0,1276.2 595.0,1273.0 598.0,1269.7 601.0,1266.4 604.0,1263.0 607.0,1259.6 610.0,1256.1 613.0,1252.5 616.0,1248.9 619.0,1245.2 622.0,1241.5 625.0,1237.7 628.0,1233.8 631.0,1229.9 634.0,1225.9 637.0,1221.9 640.0,1217.8 643.0,1213.7 646.0,1209.5 649.0,1205.3 652.0,1201.0 655.0,1196.7 658.0,1192.3 661.0,1187.9 664.0,1183.4 667.0,1178.9 670.0,1174.4 673.0,1169.8 676.0,1165.1 679.0,1160.4 682.0,1155.7 685.0,1151.0 688.0,1146.2 691.0,1141.4 694.0,1136.5 697.0,1131.7 700.0,1126.8 703.0,1121.8 706.0,1116.9 709.0,1111.9 712.0,1106.9 715.0,1101.9 718.0,1096.8 721.0,1091.8 724.0,1086.7 727.0,1081.7 730.0,1076.6 733.0,1071.5 736.0,1066.4 739.0,1061.3 742.0,1056.2 745.0,1051.1 748.0,1046.0 751.0,1040.9 754.0,1035.8 757.0,1030.8 760.0,1025.7 763.0,1020.7 766.0,1015.6 769.0,1010.6 772.0,1005.6 775.0,1000.6 778.0,995.7 781.0,990.7 784.0,985.8 787.0,981.0 790.0,976.1 793.0,971.3 796.0,966.5 799.0,961.8 802.0,957.1 805.0,952.4 808.0,947.8 811.0,943.2 814.0,938.7 817.0,934.2 820.0,929.8 823.0,925.4 826.0,921.1 829.0,916.8 832.0,912.5 835.0,908.4 838.0,904.3 841.0,900.2 844.0,896.2 847.0,892.3 850.0,888.4 853.0,884.6 856.0,880.9 859.0,877.2 862.0,873.6 865.0,870.0 868.0,866.6 871.0,863.2 874.0,859.9 877.0,856.6 880.0,853.5 883.0,850.4 886.0,847.4 889.0,844.4 892.0,841.6 895.0,838.8 898.0,836.1 901.0,833.5 904.0,831.0 907.0,828.6 910.0,826.2 913.0,824.0 916.0,821.8 919.0,819.8 922.0,817.8 925.0,815.9 928.0,814.1 931.0,812.5 934.0,810.9 937.0,809.4 940.0,808.0 943.0,806.7 946.0,805.5 949.0,804.5 952.0,803.5 955.0,802.7 958.0,801.9 961.0,801.3 964.0,800.8 967.0,800.3 970.0,800.1 973.0,799.9 976.0,799.8 979.0,799.9 982.0,800.1 985.0,800.4 988.0,800.8 991.0,801.4 994.0,802.0 997.0,802.8 1000.0,803.7 1003.0,804.8 1006.0,806.0 1009.0,807.3 1012.0,808.7 1015.0,810.2 1018.0,811.9 1021.0,813.7 1024.0,815.6 1027.0,817.6 1030.0,819.8 1033.0,822.0 1036.0,824.4 1039.0,826.9 1042.0,829.6 1045.0,832.3 1048.0,835.1 1051.0,838.1 1054.0,841.1 1057.0,844.3 1060.0,847.5 1063.0,850.9 1066.0,854.3 1069.0,857.9 1072.0,861.5 1075.0,865.2 1078.0,869.0 1081.0,872.8 1084.0,876.8 1087.0,880.8 1090.0,884.9 1093.0,889.0 1096.0,893.2 1099.0,897.4 1102.0,901.8 1105.0,906.1 1108.0,910.5 1111.0,915.0 1114.0,919.4 1117.0,924.0 1120.0,928.5 1123.0,933.1 1126.0,937.7 1129.0,942.3 1132.0,947.0 1135.0,951.6 1138.0,956.3 1141.0,961.0 1144.0,965.7 1147.0,970.4 1150.0,975.1 1153.0,979.8 1156.0,984.5 1159.0,989.2 1162.0,993.9 1165.0,998.6 1168.0,1003.3 1171.0,1007.9 1174.0,1012.6 1177.0,1017.2 1180.0,1021.9 1183.0,1026.5 1186.0,1031.0 1189.0,1035.6 1192.0,1040.1 1195.0,1044.7 1198.0,1049.1 1201.0,1053.6 1204.0,1058.0 1207.0,1062.4 1210.0,1066.8 1213.0,1071.2 1216.0,1075.5 1219.0,1079.8 1222.0,1084.0 1225.0,1088.2 1228.0,1092.4 1231.0,1096.5 1234.0,1100.6 1237.0,1104.7 1240.0,1108.7 1243.0,1112.7 1246.0,1116.7 1249.0,1120.6 1252.0,1124.5 1255.0,1128.3 1258.0,1132.2 1261.0,1135.9 1264.0,1139.6 1267.0,1143.3 1270.0,1147.0 1273.0,1150.6 1276.0,1154.2 1279.0,1157.7 1282.0,1161.2 1285.0,1164.6 1288.0,1168.0 1291.0,1171.4 1294.0,1174.7 1297.0,1178.0 1300.0,1181.3 1303.0,1184.5 1306.0,1187.6 1309.0,1190.8 1312.0,1193.9 1315.0,1196.9 1318.0,1199.9 1321.0,1202.9 1324.0,1205.8 1327.0,1208.7 1330.0,1211.6 1333.0,1214.4 1336.0,1217.2 1339.0,1219.9 1342.0,1222.6 1345.0,1225.3 1348.0,1227.9 1351.0,1230.5 1354.0,1233.1 1357.0,1235.6 1360.0,1238.1 1363.0,1240.6 1366.0,1243.0 1369.0,1245.4 1372.0,1247.7 1375.0,1250.0 1378.0,1252.3 1381.0,1254.5 1384.0,1256.8 1387.0,1258.9 1390.0,1261.1 1393.0,1263.2 1396.0,1265.3 1399.0,1267.3 1402.0,1269.4 1405.0,1271.3 1408.0,1273.3 1411.0,1275.2 1414.0,1277.1 1417.0,1279.0 1420.0,1280.8 1423.0,1282.6 1426.0,1284.4 1429.0,1286.2 1432.0,1287.9 1435.0,1289.6 1438.0,1291.3 1441.0,1292.9 1444.0,1294.5 1447.0,1296.1 1450.0,1297.7 1453.0,1299.3 1456.0,1300.8 1459.0,1302.3 1462.0,1303.7 1465.0,1305.2 1468.0,1306.6 1471.0,1308.0 1474.0,1309.4 1477.0,1310.7 1480.0,1312.0 1483.0,1313.3 1486.0,1314.6 1489.0,1315.9 1492.0,1317.1 1495.0,1318.4 1498.0,1319.6 1501.0,1320.7 1504.0,1321.9 1507.0,1323.0 1510.0,1324.2 1513.0,1325.3 1516.0,1326.4 1519.0,1327.4 1522.0,1328.5 1525.0,1329.5 1528.0,1330.5 1531.0,1331.5 1534.0,1332.5 1537.0,1333.4 1540.0,1334.4 1543.0,1335.3 1546.0,1336.2 1549.0,1337.1 1552.0,1338.0 1555.0,1338.9 1558.0,1339.7 1561.0,1340.6 1564.0,1341.4 1567.0,1342.2 1570.0,1343.0 1573.0,1343.8 1576.0,1344.6 1579.0,1345.3 1582.0,1346.1 1585.0,1346.8 1588.0,1347.5 1591.0,1348.2 1594.0,1348.9 1597.0,1349.6 1600.0,1350.2 1603.0,1350.9 1606.0,1351.6 1609.0,1352.2 1612.0,1352.8 1615.0,1353.4 1618.0,1354.0 1621.0,1354.6 1624.0,1355.2 1627.0,1355.8 1630.0,1356.3 1633.0,1356.9 1636.0,1357.4 1639.0,1358.0 1642.0,1358.5 1645.0,1359.0 1648.0,1359.5 1651.0,1360.0 1654.0,1360.5 1657.0,1361.0 1660.0,1361.5 1663.0,1361.9 1666.0,1362.4 1669.0,1362.8 1672.0,1363.3 1675.0,1363.7 1678.0,1364.1 1681.0,1364.6 1684.0,1365.0 1687.0,1365.4 1690.0,1365.8 1693.0,1366.2 1696.0,1366.6 1699.0,1367.0 1702.0,1367.3 1705.0,1367.7 1708.0,1368.1 1711.0,1368.4 1714.0,1368.8 1717.0,1369.1 1720.0,1369.4 1723.0,1369.8 1726.0,1370.1 1729.0,1370.4 1732.0,1370.7 1735.0,1371.1 1738.0,1371.4 1741.0,1371.7 1744.0,1372.0 1747.0,1372.3 1750.0,1372.5 1753.0,1372.8 1756.0,1373.1 1759.0,1373.4 1762.0,1373.7 1765.0,1373.9 1768.0,1374.2 1771.0,1374.4 1774.0,1374.7 1777.0,1374.9 1780.0,1375.2 1783.0,1375.4 1786.0,1375.7 1789.0,1375.9 1792.0,1376.1 1795.0,1376.4 1798.0,1376.6 1801.0,1376.8 1804.0,1377.0 1807.0,1377.2 1810.0,1377.4 1813.0,1377.6 1816.0,1377.8 1819.0,1378.0 1822.0,1378.2 1825.0,1378.4 1828.0,1378.6 1831.0,1378.8 1834.0,1379.0 1837.0,1379.2 1840.0,1379.4 1843.0,1379.6 1846.0,1379.7 1849.0,1379.9 1852.0,1380.1 1855.0,1380.2 1858.0,1380.4 1861.0,1380.6 1864.0,1380.7 1867.0,1380.9 1870.0,1381.0 1873.0,1381.2 1876.0,1381.3 1879.0,1381.5 1882.0,1381.6 1885.0,1381.8 1888.0,1381.9 1891.0,1382.1 1894.0,1382.2 1897.0,1382.4 1900.0,1382.5 1903.0,1382.6 1906.0,1382.8 1909.0,1382.9 1912.0,1383.0 1915.0,1383.1 1918.0,1383.3 1921.0,1383.4 1924.0,1383.5 1927.0,1383.6 1930.0,1383.8 1933.0,1383.9 1936.0,1384.0 1939.0,1384.1 1942.0,1384.2 1945.0,1384.3 1948.0,1384.4 1951.0,1384.5 1954.0,1384.7 1957.0,1384.8 1960.0,1384.9 1963.0,1385.0 1966.0,1385.1 1969.0,1385.2 1972.0,1385.3 1975.0,1385.4 1978.0,1385.5 1981.0,1385.6 1984.0,1385.7 1987.0,1385.7 1990.0,1385.8 1993.0,1385.9 1996.0,1386.0 1999.0,1386.1 2002.0,1386.2 2005.0,1386.3 2008.0,1386.4 2011.0,1386.5 2014.0,1386.5 2017.0,1386.6 2020.0,1386.7 2023.0,1386.8 2026.0,1386.9 2029.0,1386.9 2032.0,1387.0 2035.0,1387.1 2038.0,1387.2 2041.0,1387.3 2044.0,1387.3 2047.0,1387.4 2050.0,1387.5 2053.0,1387.6 2056.0,1387.6 2059.0,1387.7 2062.0,1387.8 2065.0,1387.8 2068.0,1387.9 2071.0,1388.0 2074.0,1388.0 2077.0,1388.1 2080.0,1388.2 2083.0,1388.2 2086.0,1388.3 2089.0,1388.4 2092.0,1388.4 2095.0,1388.5 2095.5,1388.5"/>
<polyline id="cv13" points="271.0,1385.0 274.0,1384.9 277.0,1384.9 280.0,1384.8 283.0,1384.7 286.0,1384.7 289.0,1384.6 292.0,1384.5 295.0,1384.4 298.0,1384.4 301.0,1384.3 304.0,1384.2 307.0,1384.1 310.0,1384.0 313.0,1383.9 316.0,1383.8 319.0,1383.7 322.0,1383.6 325.0,1383.4 328.0,1383.3 331.0,1383.2 334.0,1383.0 337.0,1382.9 340.0,1382.7 343.0,1382.6 346.0,1382.4 349.0,1382.3 352.0,1382.1 355.0,1381.9 358.0,1381.7 361.0,1381.5 364.0,1381.3 367.0,1381.1 370.0,1380.8 373.0,1380.6 376.0,1380.3 379.0,1380.1 382.0,1379.8 385.0,1379.5 388.0,1379.2 391.0,1378.9 394.0,1378.6 397.0,1378.2 400.0,1377.9 403.0,1377.5 406.0,1377.1 409.0,1376.7 412.0,1376.3 415.0,1375.9 418.0,1375.4 421.0,1374.9 424.0,1374.4 427.0,1373.9 430.0,1373.4 433.0,1372.8 436.0,1372.2 439.0,1371.6 442.0,1371.0 445.0,1370.3 448.0,1369.6 451.0,1368.9 454.0,1368.2 457.0,1367.4 460.0,1366.6 463.0,1365.8 466.0,1365.0 469.0,1364.1 472.0,1363.1 475.0,1362.2 478.0,1361.2 481.0,1360.2 484.0,1359.1 487.0,1358.0 490.0,1356.9 493.0,1355.7 496.0,1354.5 499.0,1353.2 502.0,1352.0 505.0,1350.6 508.0,1349.2 511.0,1347.8 514.0,1346.4 517.0,1344.8 520.0,1343.3 523.0,1341.7 526.0,1340.0 529.0,1338.3 532.0,1336.6 535.0,1334.8 538.0,1332.9 541.0,1331.0 544.0,1329.1 547.0,1327.1 550.0,1325.0 553.0,1322.9 556.0,1320.7 559.0,1318.5 562.0,1316.2 565.0,1313.9 568.0,1311.5 571.0,1309.1 574.0,1306.6 577.0,1304.0 580.0,1301.4 583.0,1298.7 586.0,1296.0 589.0,1293.2 592.0,1290.3 595.0,1287.4 598.0,1284.5 601.0,1281.5 604.0,1278.4 607.0,1275.2 610.0,1272.0 613.0,1268.8 616.0,1265.5 619.0,1262.1 622.0,1258.7 625.0,1255.2 628.0,1251.7 631.0,1248.1 634.0,1244.5 637.0,1240.8 640.0,1237.0 643.0,1233.2 646.0,1229.4 649.0,1225.5 652.0,1221.5 655.0,1217.5 658.0,1213.5 661.0,1209.4 664.0,1205.3 667.0,1201.1 670.0,1196.9 673.0,1192.6 676.0,1188.3 679.0,1184.0 682.0,1179.6 685.0,1175.2 688.0,1170.7 691.0,1166.2 694.0,1161.7 697.0,1157.1 700.0,1152.6 703.0,1148.0 706.0,1143.3 709.0,1138.7 712.0,1134.0 715.0,1129.3 718.0,1124.6 721.0,1119.9 724.0,1115.1 727.0,1110.4 730.0,1105.6 733.0,1100.8 736.0,1096.0 739.0,1091.2 742.0,1086.4 745.0,1081.6 748.0,1076.8 751.0,1072.1 754.0,1067.3 757.0,1062.5 760.0,1057.7 763.0,1052.9 766.0,1048.2 769.0,1043.5 772.0,1038.7 775.0,1034.0 778.0,1029.4 781.0,1024.7 784.0,1020.1 787.0,1015.5 790.0,1010.9 793.0,1006.3 796.0,1001.8 799.0,997.3 802.0,992.9 805.0,988.4 808.0,984.1 811.0,979.7 814.0,975.4 817.0,971.2 820.0,967.0 823.0,962.8 826.0,958.7 829.0,954.6 832.0,950.6 835.0,946.6 838.0,942.7 841.0,938.9 844.0,935.1 847.0,931.3 850.0,927.7 853.0,924.1 856.0,920.5 859.0,917.0 862.0,913.6 865.0,910.2 868.0,906.9 871.0,903.7 874.0,900.5 877.0,897.5 880.0,894.5 883.0,891.5 886.0,888.6 889.0,885.9 892.0,883.1 895.0,880.5 898.0,878.0 901.0,875.5 904.0,873.1 907.0,870.8 910.0,868.6 913.0,866.4 916.0,864.4 919.0,862.4 922.0,860.5 925.0,858.7 928.0,857.0 931.0,855.4 934.0,853.9 937.0,852.5 940.0,851.2 943.0,850.0 946.0,848.8 949.0,847.8 952.0,846.9 955.0,846.1 958.0,845.4 961.0,844.8 964.0,844.3 967.0,843.9 970.0,843.6 973.0,843.5 976.0,843.4 979.0,843.5 982.0,843.7 985.0,844.0 988.0,844.4 991.0,844.9 994.0,845.5 997.0,846.3 1000.0,847.2 1003.0,848.2 1006.0,849.3 1009.0,850.6 1012.0,851.9 1015.0,853.4 1018.0,855.0 1021.0,856.7 1024.0,858.5 1027.0,860.5 1030.0,862.5 1033.0,864.7 1036.0,867.0 1039.0,869.4 1042.0,871.9 1045.0,874.5 1048.0,877.2 1051.0,880.0 1054.0,882.9 1057.0,885.9 1060.0,889.0 1063.0,892.2 1066.0,895.5 1069.0,898.9 1072.0,902.3 1075.0,905.8 1078.0,909.4 1081.0,913.1 1084.0,916.9 1087.0,920.7 1090.0,924.5 1093.0,928.5 1096.0,932.4 1099.0,936.5 1102.0,940.6 1105.0,944.7 1108.0,948.9 1111.0,953.1 1114.0,957.3 1117.0,961.6 1120.0,965.9 1123.0,970.2 1126.0,974.6 1129.0,978.9 1132.0,983.3 1135.0,987.7 1138.0,992.1 1141.0,996.5 1144.0,1001.0 1147.0,1005.4 1150.0,1009.8 1153.0,1014.2 1156.0,1018.7 1159.0,1023.1 1162.0,1027.5 1165.0,1031.9 1168.0,1036.3 1171.0,1040.7 1174.0,1045.0 1177.0,1049.4 1180.0,1053.7 1183.0,1058.0 1186.0,1062.3 1189.0,1066.6 1192.0,1070.8 1195.0,1075.0 1198.0,1079.2 1201.0,1083.4 1204.0,1087.5 1207.0,1091.6 1210.0,1095.7 1213.0,1099.8 1216.0,1103.8 1219.0,1107.8 1222.0,1111.7 1225.0,1115.6 1228.0,1119.5 1231.0,1123.4 1234.0,1127.2 1237.0,1131.0 1240.0,1134.7 1243.0,1138.4 1246.0,1142.1 1249.0,1145.7 1252.0,1149.3 1255.0,1152.9 1258.0,1156.4 1261.0,1159.9 1264.0,1163.4 1267.0,1166.8 1270.0,1170.2 1273.0,1173.5 1276.0,1176.8 1279.0,1180.1 1282.0,1183.3 1285.0,1186.5 1288.0,1189.6 1291.0,1192.7 1294.0,1195.8 1297.0,1198.8 1300.0,1201.8 1303.0,1204.8 1306.0,1207.7 1309.0,1210.6 1312.0,1213.4 1315.0,1216.2 1318.0,1219.0 1321.0,1221.7 1324.0,1224.4 1327.0,1227.1 1330.0,1229.7 1333.0,1232.3 1336.0,1234.8 1339.0,1237.3 1342.0,1239.8 1345.0,1242.3 1348.0,1244.7 1351.0,1247.1 1354.0,1249.4 1357.0,1251.7 1360.0,1254.0 1363.0,1256.2 1366.0,1258.4 1369.0,1260.6 1372.0,1262.8 1375.0,1264.9 1378.0,1266.9 1381.0,1269.0 1384.0,1271.0 1387.0,1273.0 1390.0,1275.0 1393.0,1276.9 1396.0,1278.8 1399.0,1280.6 1402.0,1282.5 1405.0,1284.3 1408.0,1286.1 1411.0,1287.8 1414.0,1289.5 1417.0,1291.2 1420.0,1292.9 1423.0,1294.5 1426.0,1296.2 1429.0,1297.8 1432.0,1299.3 1435.0,1300.9 1438.0,1302.4 1441.0,1303.9 1444.0,1305.3 1447.0,1306.8 1450.0,1308.2 1453.0,1309.6 1456.0,1310.9 1459.0,1312.3 1462.0,1313.6 1465.0,1314.9 1468.0,1316.2 1471.0,1317.5 1474.0,1318.7 1477.0,1319.9 1480.0,1321.1 1483.0,1322.3 1486.0,1323.4 1489.0,1324.6 1492.0,1325.7 1495.0,1326.8 1498.0,1327.9 1501.0,1328.9 1504.0,1330.0 1507.0,1331.0 1510.0,1332.0 1513.0,1333.0 1516.0,1334.0 1519.0,1334.9 1522.0,1335.9 1525.0,1336.8 1528.0,1337.7 1531.0,1338.6 1534.0,1339.5 1537.0,1340.3 1540.0,1341.2 1543.0,1342.0 1546.0,1342.8 1549.0,1343.6 1552.0,1344.4 1555.0,1345.2 1558.0,1346.0 1561.0,1346.7 1564.0,1347.4 1567.0,1348.2 1570.0,1348.9 1573.0,1349.6 1576.0,1350.3 1579.0,1350.9 1582.0,1351.6 1585.0,1352.2 1588.0,1352.9 1591.0,1353.5 1594.0,1354.1 1597.0,1354.7 1600.0,1355.3 1603.0,1355.9 1606.0,1356.5 1609.0,1357.1 1612.0,1357.6 1615.0,1358.2 1618.0,1358.7 1621.0,1359.2 1624.0,1359.7 1627.0,1360.3 1630.0,1360.8 1633.0,1361.2 1636.0,1361.7 1639.0,1362.2 1642.0,1362.7 1645.0,1363.1 1648.0,1363.6 1651.0,1364.0 1654.0,1364.5 1657.0,1364.9 1660.0,1365.3 1663.0,1365.7 1666.0,1366.1 1669.0,1366.5 1672.0,1366.9 1675.0,1367.3 1678.0,1367.7 1681.0,1368.0 1684.0,1368.4 1687.0,1368.8 1690.0,1369.1 1693.0,1369.5 1696.0,1369.8 1699.0,1370.2 1702.0,1370.5 1705.0,1370.8 1708.0,1371.1 1711.0,1371.4 1714.0,1371.8 1717.0,1372.1 1720.0,1372.4 1723.0,1372.7 1726.0,1372.9 1729.0,1373.2 1732.0,1373.5 1735.0,1373.8 1738.0,1374.1 1741.0,1374.3 1744.0,1374.6 1747.0,1374.8 1750.0,1375.1 1753.0,1375.3 1756.0,1375.6 1759.0,1375.8 1762.0,1376.1 1765.0,1376.3 1768.0,1376.5 1771.0,1376.8 1774.0,1377.0 1777.0,1377.2 1780.0,1377.4 1783.0,1377.6 1786.0,1377.8 1789.0,1378.1 1792.0,1378.3 1795.0,1378.5 1798.0,1378.7 1801.0,1378.8 1804.0,1379.0 1807.0,1379.2 1810.0,1379.4 1813.0,1379.6 1816.0,1379.8 1819.0,1380.0 1822.0,1380.1 1825.0,1380.3 1828.0,1380.5 1831.0,1380.6 1834.0,1380.8 1837.0,1381.0 1840.0,1381.1 1843.0,1381.3 1846.0,1381.4 1849.0,1381.6 1852.0,1381.7 1855.0,1381.9 1858.0,1382.0 1861.0,1382.2 1864.0,1382.3 1867.0,1382.5 1870.0,1382.6 1873.0,1382.7 1876.0,1382.9 1879.0,1383.0 1882.0,1383.1 1885.0,1383.3 1888.0,1383.4 1891.0,1383.5 1894.0,1383.6 1897.0,1383.8 1900.0,1383.9 1903.0,1384.0 1906.0,1384.1 1909.0,1384.2 1912.0,1384.3 1915.0,1384.4 1918.0,1384.6 1921.0,1384.7 1924.0,1384.8 1927.0,1384.9 1930.0,1385.0 1933.0,1385.1 1936.0,1385.2 1939.0,1385.3 1942.0,1385.4 1945.0,1385.5 1948.0,1385.6 1951.0,1385.7 1954.0,1385.8 1957.0,1385.9 1960.0,1386.0 1963.0,1386.1 1966.0,1386.1 1969.0,1386.2 1972.0,1386.3 1975.0,1386.4 1978.0,1386.5 1981.0,1386.6 1984.0,1386.7 1987.0,1386.7 1990.0,1386.8 1993.0,1386.9 1996.0,1387.0 1999.0,1387.1 2002.0,1387.1 2005.0,1387.2 2008.0,1387.3 2011.0,1387.4 2014.0,1387.5 2017.0,1387.5 2020.0,1387.6 2023.0,1387.7 2026.0,1387.7 2029.0,1387.8 2032.0,1387.9 2035.0,1388.0 2038.0,1388.0 2041.0,1388.1 2044.0,1388.2 2047.0,1388.2 2050.0,1388.3 2053.0,1388.4 2056.0,1388.4 2059.0,1388.5 2062.0,1388.5 2065.0,1388.6 2068.0,1388.7 2071.0,1388.7 2074.0,1388.8 2077.0,1388.8 2080.0,1388.9 2083.0,1389.0 2086.0,1389.0 2089.0,1389.1 2092.0,1389.1 2095.0,1389.2 2095.5,1389.2"/>
<polyline id="cv14" points="271.0,1385.8 274.0,1385.8 277.0,1385.7 280.0,1385.6 283.0,1385.6 286.0,1385.5 289.0,1385.5 292.0,1385.4 295.0,1385.3 298.0,1385.2 301.0,1385.2 304.0,1385.1 307.0,1385.0 310.0,1384.9 313.0,1384.8 316.0,1384.8 319.0,1384.7 322.0,1384.6 325.0,1384.5 328.0,1384.4 331.0,1384.2 334.0,1384.1 337.0,1384.0 340.0,1383.9 343.0,1383.7 346.0,1383.6 349.0,1383.5 352.0,1383.3 355.0,1383.2 358.0,1383.0 361.0,1382.8 364.0,1382.6 367.0,1382.5 370.0,1382.3 373.0,1382.1 376.0,1381.8 379.0,1381.6 382.0,1381.4 385.0,1381.1 388.0,1380.9 391.0,1380.6 394.0,1380.3 397.0,1380.0 400.0,1379.7 403.0,1379.4 406.0,1379.1 409.0,1378.7 412.0,1378.4 415.0,1378.0 418.0,1377.6 421.0,1377.2 424.0,1376.8 427.0,1376.3 430.0,1375.9 433.0,1375.4 436.0,1374.9 439.0,1374.3 442.0,1373.8 445.0,1373.2 448.0,1372.6 451.0,1372.0 454.0,1371.4 457.0,1370.7 460.0,1370.0 463.0,1369.3 466.0,1368.5 469.0,1367.8 472.0,1367.0 475.0,1366.1 478.0,1365.3 481.0,1364.4 484.0,1363.4 487.0,1362.5 490.0,1361.5 493.0,1360.4 496.0,1359.4 499.0,1358.3 502.0,1357.1 505.0,1355.9 508.0,1354.7 511.0,1353.4 514.0,1352.1 517.0,1350.8 520.0,1349.4 523.0,1348.0 526.0,1346.5 529.0,1345.0 532.0,1343.4 535.0,1341.8 538.0,1340.2 541.0,1338.5 544.0,1336.7 547.0,1334.9 550.0,1333.1 553.0,1331.2 556.0,1329.3 559.0,1327.3 562.0,1325.2 565.0,1323.1 568.0,1321.0 571.0,1318.8 574.0,1316.5 577.0,1314.2 580.0,1311.8 583.0,1309.4 586.0,1306.9 589.0,1304.4 592.0,1301.8 595.0,1299.2 598.0,1296.5 601.0,1293.8 604.0,1291.0 607.0,1288.1 610.0,1285.2 613.0,1282.2 616.0,1279.2 619.0,1276.2 622.0,1273.0 625.0,1269.9 628.0,1266.6 631.0,1263.4 634.0,1260.0 637.0,1256.7 640.0,1253.2 643.0,1249.7 646.0,1246.2 649.0,1242.6 652.0,1239.0 655.0,1235.3 658.0,1231.6 661.0,1227.9 664.0,1224.1 667.0,1220.2 670.0,1216.3 673.0,1212.4 676.0,1208.4 679.0,1204.4 682.0,1200.4 685.0,1196.3 688.0,1192.2 691.0,1188.0 694.0,1183.8 697.0,1179.6 700.0,1175.4 703.0,1171.1 706.0,1166.8 709.0,1162.5 712.0,1158.2 715.0,1153.8 718.0,1149.5 721.0,1145.1 724.0,1140.7 727.0,1136.3 730.0,1131.8 733.0,1127.4 736.0,1122.9 739.0,1118.5 742.0,1114.0 745.0,1109.6 748.0,1105.1 751.0,1100.6 754.0,1096.2 757.0,1091.7 760.0,1087.3 763.0,1082.8 766.0,1078.4 769.0,1074.0 772.0,1069.6 775.0,1065.2 778.0,1060.8 781.0,1056.5 784.0,1052.1 787.0,1047.8 790.0,1043.5 793.0,1039.3 796.0,1035.1 799.0,1030.9 802.0,1026.7 805.0,1022.6 808.0,1018.5 811.0,1014.4 814.0,1010.4 817.0,1006.4 820.0,1002.5 823.0,998.6 826.0,994.7 829.0,990.9 832.0,987.2 835.0,983.4 838.0,979.8 841.0,976.2 844.0,972.6 847.0,969.1 850.0,965.7 853.0,962.3 856.0,959.0 859.0,955.7 862.0,952.5 865.0,949.3 868.0,946.2 871.0,943.2 874.0,940.2 877.0,937.4 880.0,934.5 883.0,931.8 886.0,929.1 889.0,926.5 892.0,923.9 895.0,921.5 898.0,919.1 901.0,916.7 904.0,914.5 907.0,912.3 910.0,910.2 913.0,908.2 916.0,906.3 919.0,904.4 922.0,902.7 925.0,901.0 928.0,899.4 931.0,897.9 934.0,896.5 937.0,895.2 940.0,893.9 943.0,892.8 946.0,891.7 949.0,890.8 952.0,889.9 955.0,889.2 958.0,888.5 961.0,887.9 964.0,887.5 967.0,887.1 970.0,886.9 973.0,886.7 976.0,886.7 979.0,886.7 982.0,886.9 985.0,887.2 988.0,887.6 991.0,888.1 994.0,888.7 997.0,889.4 1000.0,890.2 1003.0,891.2 1006.0,892.2 1009.0,893.4 1012.0,894.7 1015.0,896.1 1018.0,897.6 1021.0,899.2 1024.0,900.9 1027.0,902.7 1030.0,904.7 1033.0,906.7 1036.0,908.9 1039.0,911.1 1042.0,913.5 1045.0,915.9 1048.0,918.5 1051.0,921.1 1054.0,923.8 1057.0,926.7 1060.0,929.6 1063.0,932.6 1066.0,935.7 1069.0,938.8 1072.0,942.1 1075.0,945.4 1078.0,948.7 1081.0,952.2 1084.0,955.7 1087.0,959.3 1090.0,962.9 1093.0,966.6 1096.0,970.3 1099.0,974.1 1102.0,977.9 1105.0,981.7 1108.0,985.6 1111.0,989.6 1114.0,993.5 1117.0,997.5 1120.0,1001.5 1123.0,1005.6 1126.0,1009.6 1129.0,1013.7 1132.0,1017.8 1135.0,1021.9 1138.0,1026.0 1141.0,1030.1 1144.0,1034.2 1147.0,1038.4 1150.0,1042.5 1153.0,1046.6 1156.0,1050.7 1159.0,1054.8 1162.0,1058.9 1165.0,1063.0 1168.0,1067.1 1171.0,1071.2 1174.0,1075.2 1177.0,1079.2 1180.0,1083.3 1183.0,1087.3 1186.0,1091.2 1189.0,1095.2 1192.0,1099.1 1195.0,1103.0 1198.0,1106.9 1201.0,1110.8 1204.0,1114.6 1207.0,1118.4 1210.0,1122.2 1213.0,1125.9 1216.0,1129.6 1219.0,1133.3 1222.0,1137.0 1225.0,1140.6 1228.0,1144.2 1231.0,1147.7 1234.0,1151.3 1237.0,1154.8 1240.0,1158.2 1243.0,1161.6 1246.0,1165.0 1249.0,1168.4 1252.0,1171.7 1255.0,1175.0 1258.0,1178.2 1261.0,1181.4 1264.0,1184.6 1267.0,1187.8 1270.0,1190.9 1273.0,1193.9 1276.0,1197.0 1279.0,1200.0 1282.0,1202.9 1285.0,1205.9 1288.0,1208.7 1291.0,1211.6 1294.0,1214.4 1297.0,1217.2 1300.0,1219.9 1303.0,1222.7 1306.0,1225.3 1309.0,1228.0 1312.0,1230.6 1315.0,1233.2 1318.0,1235.7 1321.0,1238.2 1324.0,1240.7 1327.0,1243.1 1330.0,1245.5 1333.0,1247.9 1336.0,1250.2 1339.0,1252.5 1342.0,1254.8 1345.0,1257.0 1348.0,1259.2 1351.0,1261.4 1354.0,1263.5 1357.0,1265.6 1360.0,1267.7 1363.0,1269.7 1366.0,1271.8 1369.0,1273.7 1372.0,1275.7 1375.0,1277.6 1378.0,1279.5 1381.0,1281.4 1384.0,1283.2 1387.0,1285.0 1390.0,1286.8 1393.0,1288.6 1396.0,1290.3 1399.0,1292.0 1402.0,1293.7 1405.0,1295.3 1408.0,1296.9 1411.0,1298.5 1414.0,1300.1 1417.0,1301.6 1420.0,1303.1 1423.0,1304.6 1426.0,1306.1 1429.0,1307.5 1432.0,1309.0 1435.0,1310.3 1438.0,1311.7 1441.0,1313.1 1444.0,1314.4 1447.0,1315.7 1450.0,1317.0 1453.0,1318.2 1456.0,1319.5 1459.0,1320.7 1462.0,1321.9 1465.0,1323.1 1468.0,1324.2 1471.0,1325.4 1474.0,1326.5 1477.0,1327.6 1480.0,1328.7 1483.0,1329.7 1486.0,1330.8 1489.0,1331.8 1492.0,1332.8 1495.0,1333.8 1498.0,1334.8 1501.0,1335.8 1504.0,1336.7 1507.0,1337.6 1510.0,1338.5 1513.0,1339.4 1516.0,1340.3 1519.0,1341.2 1522.0,1342.0 1525.0,1342.8 1528.0,1343.7 1531.0,1344.5 1534.0,1345.2 1537.0,1346.0 1540.0,1346.8 1543.0,1347.5 1546.0,1348.3 1549.0,1349.0 1552.0,1349.7 1555.0,1350.4 1558.0,1351.1 1561.0,1351.7 1564.0,1352.4 1567.0,1353.1 1570.0,1353.7 1573.0,1354.3 1576.0,1354.9 1579.0,1355.5 1582.0,1356.1 1585.0,1356.7 1588.0,1357.3 1591.0,1357.9 1594.0,1358.4 1597.0,1359.0 1600.0,1359.5 1603.0,1360.0 1606.0,1360.5 1609.0,1361.0 1612.0,1361.5 1615.0,1362.0 1618.0,1362.5 1621.0,1363.0 1624.0,1363.4 1627.0,1363.9 1630.0,1364.3 1633.0,1364.8 1636.0,1365.2 1639.0,1365.6 1642.0,1366.0 1645.0,1366.5 1648.0,1366.9 1651.0,1367.3 1654.0,1367.6 1657.0,1368.0 1660.0,1368.4 1663.0,1368.8 1666.0,1369.1 1669.0,1369.5 1672.0,1369.8 1675.0,1370.2 1678.0,1370.5 1681.0,1370.9 1684.0,1371.2 1687.0,1371.5 1690.0,1371.8 1693.0,1372.1 1696.0,1372.4 1699.0,1372.7 1702.0,1373.0 1705.0,1373.3 1708.0,1373.6 1711.0,1373.9 1714.0,1374.2 1717.0,1374.4 1720.0,1374.7 1723.0,1375.0 1726.0,1375.2 1729.0,1375.5 1732.0,1375.7 1735.0,1376.0 1738.0,1376.2 1741.0,1376.5 1744.0,1376.7 1747.0,1376.9 1750.0,1377.2 1753.0,1377.4 1756.0,1377.6 1759.0,1377.8 1762.0,1378.0 1765.0,1378.2 1768.0,1378.4 1771.0,1378.6 1774.0,1378.8 1777.0,1379.0 1780.0,1379.2 1783.0,1379.4 1786.0,1379.6 1789.0,1379.8 1792.0,1380.0 1795.0,1380.1 1798.0,1380.3 1801.0,1380.5 1804.0,1380.7 1807.0,1380.8 1810.0,1381.0 1813.0,1381.2 1816.0,1381.3 1819.0,1381.5 1822.0,1381.6 1825.0,1381.8 1828.0,1381.9 1831.0,1382.1 1834.0,1382.2 1837.0,1382.4 1840.0,1382.5 1843.0,1382.7 1846.0,1382.8 1849.0,1382.9 1852.0,1383.1 1855.0,1383.2 1858.0,1383.3 1861.0,1383.5 1864.0,1383.6 1867.0,1383.7 1870.0,1383.8 1873.0,1384.0 1876.0,1384.1 1879.0,1384.2 1882.0,1384.3 1885.0,1384.4 1888.0,1384.5 1891.0,1384.6 1894.0,1384.8 1897.0,1384.9 1900.0,1385.0 1903.0,1385.1 1906.0,1385.2 1909.0,1385.3 1912.0,1385.4 1915.0,1385.5 1918.0,1385.6 1921.0,1385.7 1924.0,1385.8 1927.0,1385.9 1930.0,1386.0 1933.0,1386.1 1936.0,1386.1 1939.0,1386.2 1942.0,1386.3 1945.0,1386.4 1948.0,1386.5 1951.0,1386.6 1954.0,1386.7 1957.0,1386.8 1960.0,1386.8 1963.0,1386.9 1966.0,1387.0 1969.0,1387.1 1972.0,1387.2 1975.0,1387.2 1978.0,1387.3 1981.0,1387.4 1984.0,1387.5 1987.0,1387.5 1990.0,1387.6 1993.0,1387.7 1996.0,1387.8 1999.0,1387.8 2002.0,1387.9 2005.0,1388.0 2008.0,1388.0 2011.0,1388.1 2014.0,1388.2 2017.0,1388.2 2020.0,1388.3 2023.0,1388.4 2026.0,1388.4 2029.0,1388.5 2032.0,1388.6 2035.0,1388.6 2038.0,1388.7 2041.0,1388.7 2044.0,1388.8 2047.0,1388.9 2050.0,1388.9 2053.0,1389.0 2056.0,1389.0 2059.0,1389.1 2062.0,1389.1 2065.0,1389.2 2068.0,1389.3 2071.0,1389.3 2074.0,1389.4 2077.0,1389.4 2080.0,1389.5 2083.0,1389.5 2086.0,1389.6 2089.0,1389.6 2092.0,1389.7 2095.0,1389.7 2095.5,1389.7"/>
<polyline id="cv15" points="271.0,1386.5 274.0,1386.4 277.0,1386.4 280.0,1386.3 283.0,1386.3 286.0,1386.2 289.0,1386.2 292.0,1386.1 295.0,1386.1 298.0,1386.0 301.0,1385.9 304.0,1385.9 307.0,1385.8 310.0,1385.7 313.0,1385.6 316.0,1385.6 319.0,1385.5 322.0,1385.4 325.0,1385.3 328.0,1385.2 331.0,1385.1 334.0,1385.0 337.0,1384.9 340.0,1384.8 343.0,1384.7 346.0,1384.6 349.0,1384.5 352.0,1384.3 355.0,1384.2 358.0,1384.1 361.0,1383.9 364.0,1383.8 367.0,1383.6 370.0,1383.4 373.0,1383.3 376.0,1383.1 379.0,1382.9 382.0,1382.7 385.0,1382.5 388.0,1382.3 391.0,1382.0 394.0,1381.8 397.0,1381.5 400.0,1381.3 403.0,1381.0 406.0,1380.7 409.0,1380.4 412.0,1380.1 415.0,1379.8 418.0,1379.4 421.0,1379.1 424.0,1378.7 427.0,1378.3 430.0,1377.9 433.0,1377.5 436.0,1377.1 439.0,1376.6 442.0,1376.1 445.0,1375.6 448.0,1375.1 451.0,1374.6 454.0,1374.0 457.0,1373.4 460.0,1372.8 463.0,1372.2 466.0,1371.5 469.0,1370.8 472.0,1370.1 475.0,1369.4 478.0,1368.6 481.0,1367.8 484.0,1367.0 487.0,1366.2 490.0,1365.3 493.0,1364.4 496.0,1363.4 499.0,1362.4 502.0,1361.4 505.0,1360.4 508.0,1359.3 511.0,1358.2 514.0,1357.0 517.0,1355.8 520.0,1354.6 523.0,1353.3 526.0,1352.0 529.0,1350.6 532.0,1349.2 535.0,1347.8 538.0,1346.3 541.0,1344.8 544.0,1343.2 547.0,1341.6 550.0,1339.9 553.0,1338.2 556.0,1336.4 559.0,1334.6 562.0,1332.8 565.0,1330.9 568.0,1328.9 571.0,1326.9 574.0,1324.9 577.0,1322.8 580.0,1320.6 583.0,1318.4 586.0,1316.2 589.0,1313.9 592.0,1311.5 595.0,1309.1 598.0,1306.7 601.0,1304.2 604.0,1301.6 607.0,1299.0 610.0,1296.4 613.0,1293.6 616.0,1290.9 619.0,1288.1 622.0,1285.2 625.0,1282.3 628.0,1279.3 631.0,1276.3 634.0,1273.2 637.0,1270.1 640.0,1267.0 643.0,1263.7 646.0,1260.5 649.0,1257.2 652.0,1253.8 655.0,1250.4 658.0,1247.0 661.0,1243.5 664.0,1240.0 667.0,1236.4 670.0,1232.8 673.0,1229.2 676.0,1225.5 679.0,1221.8 682.0,1218.0 685.0,1214.2 688.0,1210.4 691.0,1206.5 694.0,1202.6 697.0,1198.7 700.0,1194.8 703.0,1190.8 706.0,1186.8 709.0,1182.8 712.0,1178.7 715.0,1174.7 718.0,1170.6 721.0,1166.5 724.0,1162.4 727.0,1158.2 730.0,1154.1 733.0,1149.9 736.0,1145.8 739.0,1141.6 742.0,1137.4 745.0,1133.2 748.0,1129.0 751.0,1124.9 754.0,1120.7 757.0,1116.5 760.0,1112.3 763.0,1108.1 766.0,1104.0 769.0,1099.8 772.0,1095.7 775.0,1091.6 778.0,1087.5 781.0,1083.4 784.0,1079.3 787.0,1075.2 790.0,1071.2 793.0,1067.2 796.0,1063.2 799.0,1059.3 802.0,1055.4 805.0,1051.5 808.0,1047.6 811.0,1043.8 814.0,1040.0 817.0,1036.2 820.0,1032.5 823.0,1028.9 826.0,1025.2 829.0,1021.6 832.0,1018.1 835.0,1014.6 838.0,1011.1 841.0,1007.7 844.0,1004.4 847.0,1001.1 850.0,997.8 853.0,994.6 856.0,991.5 859.0,988.4 862.0,985.3 865.0,982.4 868.0,979.4 871.0,976.6 874.0,973.8 877.0,971.1 880.0,968.4 883.0,965.8 886.0,963.3 889.0,960.8 892.0,958.4 895.0,956.0 898.0,953.8 901.0,951.6 904.0,949.5 907.0,947.4 910.0,945.4 913.0,943.5 916.0,941.7 919.0,940.0 922.0,938.3 925.0,936.7 928.0,935.2 931.0,933.8 934.0,932.5 937.0,931.2 940.0,930.0 943.0,928.9 946.0,928.0 949.0,927.1 952.0,926.2 955.0,925.5 958.0,924.9 961.0,924.4 964.0,923.9 967.0,923.6 970.0,923.4 973.0,923.2 976.0,923.2 979.0,923.2 982.0,923.4 985.0,923.7 988.0,924.0 991.0,924.5 994.0,925.1 997.0,925.8 1000.0,926.6 1003.0,927.5 1006.0,928.5 1009.0,929.6 1012.0,930.8 1015.0,932.1 1018.0,933.5 1021.0,935.1 1024.0,936.7 1027.0,938.4 1030.0,940.3 1033.0,942.2 1036.0,944.2 1039.0,946.4 1042.0,948.6 1045.0,950.9 1048.0,953.3 1051.0,955.8 1054.0,958.4 1057.0,961.1 1060.0,963.9 1063.0,966.7 1066.0,969.6 1069.0,972.6 1072.0,975.6 1075.0,978.8 1078.0,982.0 1081.0,985.2 1084.0,988.5 1087.0,991.9 1090.0,995.3 1093.0,998.8 1096.0,1002.3 1099.0,1005.8 1102.0,1009.4 1105.0,1013.1 1108.0,1016.7 1111.0,1020.4 1114.0,1024.2 1117.0,1027.9 1120.0,1031.7 1123.0,1035.5 1126.0,1039.3 1129.0,1043.1 1132.0,1047.0 1135.0,1050.8 1138.0,1054.7 1141.0,1058.5 1144.0,1062.4 1147.0,1066.3 1150.0,1070.1 1153.0,1074.0 1156.0,1077.9 1159.0,1081.7 1162.0,1085.5 1165.0,1089.4 1168.0,1093.2 1171.0,1097.0 1174.0,1100.8 1177.0,1104.5 1180.0,1108.3 1183.0,1112.0 1186.0,1115.7 1189.0,1119.4 1192.0,1123.1 1195.0,1126.8 1198.0,1130.4 1201.0,1134.0 1204.0,1137.5 1207.0,1141.1 1210.0,1144.6 1213.0,1148.1 1216.0,1151.6 1219.0,1155.0 1222.0,1158.4 1225.0,1161.8 1228.0,1165.1 1231.0,1168.4 1234.0,1171.7 1237.0,1174.9 1240.0,1178.1 1243.0,1181.3 1246.0,1184.5 1249.0,1187.6 1252.0,1190.6 1255.0,1193.7 1258.0,1196.7 1261.0,1199.7 1264.0,1202.6 1267.0,1205.5 1270.0,1208.4 1273.0,1211.3 1276.0,1214.1 1279.0,1216.8 1282.0,1219.6 1285.0,1222.3 1288.0,1225.0 1291.0,1227.6 1294.0,1230.2 1297.0,1232.8 1300.0,1235.3 1303.0,1237.8 1306.0,1240.3 1309.0,1242.7 1312.0,1245.1 1315.0,1247.5 1318.0,1249.8 1321.0,1252.2 1324.0,1254.4 1327.0,1256.7 1330.0,1258.9 1333.0,1261.1 1336.0,1263.2 1339.0,1265.3 1342.0,1267.4 1345.0,1269.5 1348.0,1271.5 1351.0,1273.5 1354.0,1275.5 1357.0,1277.4 1360.0,1279.3 1363.0,1281.2 1366.0,1283.0 1369.0,1284.9 1372.0,1286.7 1375.0,1288.4 1378.0,1290.2 1381.0,1291.9 1384.0,1293.6 1387.0,1295.2 1390.0,1296.8 1393.0,1298.4 1396.0,1300.0 1399.0,1301.6 1402.0,1303.1 1405.0,1304.6 1408.0,1306.1 1411.0,1307.6 1414.0,1309.0 1417.0,1310.4 1420.0,1311.8 1423.0,1313.1 1426.0,1314.5 1429.0,1315.8 1432.0,1317.1 1435.0,1318.4 1438.0,1319.6 1441.0,1320.9 1444.0,1322.1 1447.0,1323.3 1450.0,1324.4 1453.0,1325.6 1456.0,1326.7 1459.0,1327.8 1462.0,1328.9 1465.0,1330.0 1468.0,1331.0 1471.0,1332.1 1474.0,1333.1 1477.0,1334.1 1480.0,1335.1 1483.0,1336.0 1486.0,1337.0 1489.0,1337.9 1492.0,1338.8 1495.0,1339.7 1498.0,1340.6 1501.0,1341.5 1504.0,1342.4 1507.0,1343.2 1510.0,1344.0 1513.0,1344.8 1516.0,1345.6 1519.0,1346.4 1522.0,1347.2 1525.0,1347.9 1528.0,1348.7 1531.0,1349.4 1534.0,1350.1 1537.0,1350.8 1540.0,1351.5 1543.0,1352.2 1546.0,1352.8 1549.0,1353.5 1552.0,1354.1 1555.0,1354.8 1558.0,1355.4 1561.0,1356.0 1564.0,1356.6 1567.0,1357.2 1570.0,1357.8 1573.0,1358.3 1576.0,1358.9 1579.0,1359.4 1582.0,1360.0 1585.0,1360.5 1588.0,1361.0 1591.0,1361.5 1594.0,1362.0 1597.0,1362.5 1600.0,1363.0 1603.0,1363.5 1606.0,1363.9 1609.0,1364.4 1612.0,1364.8 1615.0,1365.3 1618.0,1365.7 1621.0,1366.1 1624.0,1366.5 1627.0,1367.0 1630.0,1367.4 1633.0,1367.8 1636.0,1368.1 1639.0,1368.5 1642.0,1368.9 1645.0,1369.3 1648.0,1369.6 1651.0,1370.0 1654.0,1370.3 1657.0,1370.7 1660.0,1371.0 1663.0,1371.4 1666.0,1371.7 1669.0,1372.0 1672.0,1372.3 1675.0,1372.6 1678.0,1372.9 1681.0,1373.2 1684.0,1373.5 1687.0,1373.8 1690.0,1374.1 1693.0,1374.4 1696.0,1374.6 1699.0,1374.9 1702.0,1375.2 1705.0,1375.4 1708.0,1375.7 1711.0,1376.0 1714.0,1376.2 1717.0,1376.4 1720.0,1376.7 1723.0,1376.9 1726.0,1377.2 1729.0,1377.4 1732.0,1377.6 1735.0,1377.8 1738.0,1378.0 1741.0,1378.3 1744.0,1378.5 1747.0,1378.7 1750.0,1378.9 1753.0,1379.1 1756.0,1379.3 1759.0,1379.5 1762.0,1379.7 1765.0,1379.8 1768.0,1380.0 1771.0,1380.2 1774.0,1380.4 1777.0,1380.6 1780.0,1380.7 1783.0,1380.9 1786.0,1381.1 1789.0,1381.2 1792.0,1381.4 1795.0,1381.6 1798.0,1381.7 1801.0,1381.9 1804.0,1382.0 1807.0,1382.2 1810.0,1382.3 1813.0,1382.5 1816.0,1382.6 1819.0,1382.8 1822.0,1382.9 1825.0,1383.0 1828.0,1383.2 1831.0,1383.3 1834.0,1383.4 1837.0,1383.6 1840.0,1383.7 1843.0,1383.8 1846.0,1383.9 1849.0,1384.1 1852.0,1384.2 1855.0,1384.3 1858.0,1384.4 1861.0,1384.5 1864.0,1384.6 1867.0,1384.8 1870.0,1384.9 1873.0,1385.0 1876.0,1385.1 1879.0,1385.2 1882.0,1385.3 1885.0,1385.4 1888.0,1385.5 1891.0,1385.6 1894.0,1385.7 1897.0,1385.8 1900.0,1385.9 1903.0,1386.0 1906.0,1386.1 1909.0,1386.2 1912.0,1386.3 1915.0,1386.4 1918.0,1386.4 1921.0,1386.5 1924.0,1386.6 1927.0,1386.7 1930.0,1386.8 1933.0,1386.9 1936.0,1387.0 1939.0,1387.0 1942.0,1387.1 1945.0,1387.2 1948.0,1387.3 1951.0,1387.3 1954.0,1387.4 1957.0,1387.5 1960.0,1387.6 1963.0,1387.6 1966.0,1387.7 1969.0,1387.8 1972.0,1387.9 1975.0,1387.9 1978.0,1388.0 1981.0,1388.1 1984.0,1388.1 1987.0,1388.2 1990.0,1388.3 1993.0,1388.3 1996.0,1388.4 1999.0,1388.5 2002.0,1388.5 2005.0,1388.6 2008.0,1388.6 2011.0,1388.7 2014.0,1388.8 2017.0,1388.8 2020.0,1388.9 2023.0,1388.9 2026.0,1389.0 2029.0,1389.1 2032.0,1389.1 2035.0,1389.2 2038.0,1389.2 2041.0,1389.3 2044.0,1389.3 2047.0,1389.4 2050.0,1389.4 2053.0,1389.5 2056.0,1389.5 2059.0,1389.6 2062.0,1389.6 2065.0,1389.7 2068.0,1389.7 2071.0,1389.8 2074.0,1389.8 2077.0,1389.9 2080.0,1389.9 2083.0,1390.0 2086.0,1390.0 2089.0,1390.1 2092.0,1390.1 2095.0,1390.2 2095.5,1390.2"/>
<polyline id="cv16" points="271.0,1386.9 274.0,1386.8 277.0,1386.8 280.0,1386.7 283.0,1386.7 286.0,1386.7 289.0,1386.6 292.0,1386.5 295.0,1386.5 298.0,1386.4 301.0,1386.4 304.0,1386.3 307.0,1386.3 310.0,1386.2 313.0,1386.1 316.0,1386.1 319.0,1386.0 322.0,1385.9 325.0,1385.8 328.0,1385.7 331.0,1385.7 334.0,1385.6 337.0,1385.5 340.0,1385.4 343.0,1385.3 346.0,1385.2 349.0,1385.0 352.0,1384.9 355.0,1384.8 358.0,1384.7 361.0,1384.5 364.0,1384.4 367.0,1384.3 370.0,1384.1 373.0,1383.9 376.0,1383.8 379.0,1383.6 382.0,1383.4 385.0,1383.2 388.0,1383.0 391.0,1382.8 394.0,1382.6 397.0,1382.4 400.0,1382.1 403.0,1381.9 406.0,1381.6 409.0,1381.4 412.0,1381.1 415.0,1380.8 418.0,1380.5 421.0,1380.1 424.0,1379.8 427.0,1379.4 430.0,1379.1 433.0,1378.7 436.0,1378.3 439.0,1377.9 442.0,1377.4 445.0,1377.0 448.0,1376.5 451.0,1376.0 454.0,1375.5 457.0,1374.9 460.0,1374.4 463.0,1373.8 466.0,1373.2 469.0,1372.6 472.0,1371.9 475.0,1371.2 478.0,1370.5 481.0,1369.8 484.0,1369.0 487.0,1368.2 490.0,1367.4 493.0,1366.6 496.0,1365.7 499.0,1364.8 502.0,1363.8 505.0,1362.9 508.0,1361.8 511.0,1360.8 514.0,1359.7 517.0,1358.6 520.0,1357.5 523.0,1356.3 526.0,1355.0 529.0,1353.8 532.0,1352.5 535.0,1351.1 538.0,1349.7 541.0,1348.3 544.0,1346.8 547.0,1345.3 550.0,1343.8 553.0,1342.2 556.0,1340.5 559.0,1338.8 562.0,1337.1 565.0,1335.3 568.0,1333.5 571.0,1331.6 574.0,1329.7 577.0,1327.7 580.0,1325.7 583.0,1323.6 586.0,1321.5 589.0,1319.4 592.0,1317.2 595.0,1314.9 598.0,1312.6 601.0,1310.2 604.0,1307.8 607.0,1305.4 610.0,1302.8 613.0,1300.3 616.0,1297.7 619.0,1295.0 622.0,1292.3 625.0,1289.6 628.0,1286.8 631.0,1283.9 634.0,1281.0 637.0,1278.1 640.0,1275.1 643.0,1272.0 646.0,1268.9 649.0,1265.8 652.0,1262.6 655.0,1259.4 658.0,1256.2 661.0,1252.9 664.0,1249.5 667.0,1246.1 670.0,1242.7 673.0,1239.3 676.0,1235.8 679.0,1232.2 682.0,1228.7 685.0,1225.1 688.0,1221.4 691.0,1217.7 694.0,1214.1 697.0,1210.3 700.0,1206.6 703.0,1202.8 706.0,1199.0 709.0,1195.1 712.0,1191.3 715.0,1187.4 718.0,1183.5 721.0,1179.6 724.0,1175.7 727.0,1171.8 730.0,1167.8 733.0,1163.8 736.0,1159.9 739.0,1155.9 742.0,1151.9 745.0,1147.9 748.0,1143.9 751.0,1139.9 754.0,1135.9 757.0,1131.9 760.0,1128.0 763.0,1124.0 766.0,1120.0 769.0,1116.0 772.0,1112.1 775.0,1108.1 778.0,1104.2 781.0,1100.3 784.0,1096.4 787.0,1092.5 790.0,1088.7 793.0,1084.9 796.0,1081.1 799.0,1077.3 802.0,1073.5 805.0,1069.8 808.0,1066.1 811.0,1062.4 814.0,1058.8 817.0,1055.2 820.0,1051.7 823.0,1048.2 826.0,1044.7 829.0,1041.2 832.0,1037.8 835.0,1034.5 838.0,1031.2 841.0,1027.9 844.0,1024.7 847.0,1021.5 850.0,1018.4 853.0,1015.4 856.0,1012.3 859.0,1009.4 862.0,1006.5 865.0,1003.6 868.0,1000.8 871.0,998.1 874.0,995.4 877.0,992.8 880.0,990.2 883.0,987.8 886.0,985.3 889.0,983.0 892.0,980.7 895.0,978.4 898.0,976.2 901.0,974.1 904.0,972.1 907.0,970.1 910.0,968.3 913.0,966.4 916.0,964.7 919.0,963.0 922.0,961.4 925.0,959.9 928.0,958.5 931.0,957.1 934.0,955.8 937.0,954.6 940.0,953.5 943.0,952.4 946.0,951.5 949.0,950.6 952.0,949.9 955.0,949.2 958.0,948.6 961.0,948.1 964.0,947.6 967.0,947.3 970.0,947.1 973.0,947.0 976.0,946.9 979.0,947.0 982.0,947.1 985.0,947.4 988.0,947.7 991.0,948.2 994.0,948.8 997.0,949.4 1000.0,950.2 1003.0,951.0 1006.0,952.0 1009.0,953.1 1012.0,954.2 1015.0,955.5 1018.0,956.9 1021.0,958.3 1024.0,959.9 1027.0,961.6 1030.0,963.3 1033.0,965.2 1036.0,967.2 1039.0,969.2 1042.0,971.3 1045.0,973.6 1048.0,975.9 1051.0,978.3 1054.0,980.8 1057.0,983.3 1060.0,986.0 1063.0,988.7 1066.0,991.5 1069.0,994.3 1072.0,997.3 1075.0,1000.3 1078.0,1003.3 1081.0,1006.4 1084.0,1009.6 1087.0,1012.8 1090.0,1016.1 1093.0,1019.4 1096.0,1022.8 1099.0,1026.2 1102.0,1029.6 1105.0,1033.1 1108.0,1036.6 1111.0,1040.1 1114.0,1043.7 1117.0,1047.3 1120.0,1050.9 1123.0,1054.5 1126.0,1058.2 1129.0,1061.8 1132.0,1065.5 1135.0,1069.2 1138.0,1072.9 1141.0,1076.5 1144.0,1080.2 1147.0,1083.9 1150.0,1087.6 1153.0,1091.3 1156.0,1095.0 1159.0,1098.6 1162.0,1102.3 1165.0,1106.0 1168.0,1109.6 1171.0,1113.2 1174.0,1116.8 1177.0,1120.4 1180.0,1124.0 1183.0,1127.6 1186.0,1131.1 1189.0,1134.6 1192.0,1138.1 1195.0,1141.6 1198.0,1145.0 1201.0,1148.4 1204.0,1151.8 1207.0,1155.2 1210.0,1158.6 1213.0,1161.9 1216.0,1165.2 1219.0,1168.4 1222.0,1171.7 1225.0,1174.9 1228.0,1178.0 1231.0,1181.2 1234.0,1184.3 1237.0,1187.4 1240.0,1190.4 1243.0,1193.4 1246.0,1196.4 1249.0,1199.4 1252.0,1202.3 1255.0,1205.2 1258.0,1208.1 1261.0,1210.9 1264.0,1213.7 1267.0,1216.4 1270.0,1219.2 1273.0,1221.9 1276.0,1224.5 1279.0,1227.2 1282.0,1229.8 1285.0,1232.3 1288.0,1234.9 1291.0,1237.4 1294.0,1239.8 1297.0,1242.3 1300.0,1244.7 1303.0,1247.0 1306.0,1249.4 1309.0,1251.7 1312.0,1254.0 1315.0,1256.2 1318.0,1258.4 1321.0,1260.6 1324.0,1262.8 1327.0,1264.9 1330.0,1267.0 1333.0,1269.0 1336.0,1271.1 1339.0,1273.1 1342.0,1275.0 1345.0,1277.0 1348.0,1278.9 1351.0,1280.8 1354.0,1282.7 1357.0,1284.5 1360.0,1286.3 1363.0,1288.1 1366.0,1289.8 1369.0,1291.5 1372.0,1293.2 1375.0,1294.9 1378.0,1296.5 1381.0,1298.1 1384.0,1299.7 1387.0,1301.3 1390.0,1302.8 1393.0,1304.4 1396.0,1305.8 1399.0,1307.3 1402.0,1308.8 1405.0,1310.2 1408.0,1311.6 1411.0,1312.9 1414.0,1314.3 1417.0,1315.6 1420.0,1316.9 1423.0,1318.2 1426.0,1319.5 1429.0,1320.7 1432.0,1321.9 1435.0,1323.1 1438.0,1324.3 1441.0,1325.5 1444.0,1326.6 1447.0,1327.7 1450.0,1328.8 1453.0,1329.9 1456.0,1331.0 1459.0,1332.0 1462.0,1333.0 1465.0,1334.1 1468.0,1335.0 1471.0,1336.0 1474.0,1337.0 1477.0,1337.9 1480.0,1338.8 1483.0,1339.7 1486.0,1340.6 1489.0,1341.5 1492.0,1342.4 1495.0,1343.2 1498.0,1344.1 1501.0,1344.9 1504.0,1345.7 1507.0,1346.5 1510.0,1347.2 1513.0,1348.0 1516.0,1348.7 1519.0,1349.5 1522.0,1350.2 1525.0,1350.9 1528.0,1351.6 1531.0,1352.3 1534.0,1353.0 1537.0,1353.6 1540.0,1354.3 1543.0,1354.9 1546.0,1355.5 1549.0,1356.1 1552.0,1356.7 1555.0,1357.3 1558.0,1357.9 1561.0,1358.5 1564.0,1359.0 1567.0,1359.6 1570.0,1360.1 1573.0,1360.6 1576.0,1361.2 1579.0,1361.7 1582.0,1362.2 1585.0,1362.7 1588.0,1363.2 1591.0,1363.6 1594.0,1364.1 1597.0,1364.6 1600.0,1365.0 1603.0,1365.5 1606.0,1365.9 1609.0,1366.3 1612.0,1366.7 1615.0,1367.2 1618.0,1367.6 1621.0,1368.0 1624.0,1368.3 1627.0,1368.7 1630.0,1369.1 1633.0,1369.5 1636.0,1369.8 1639.0,1370.2 1642.0,1370.5 1645.0,1370.9 1648.0,1371.2 1651.0,1371.6 1654.0,1371.9 1657.0,1372.2 1660.0,1372.5 1663.0,1372.8 1666.0,1373.1 1669.0,1373.4 1672.0,1373.7 1675.0,1374.0 1678.0,1374.3 1681.0,1374.6 1684.0,1374.9 1687.0,1375.1 1690.0,1375.4 1693.0,1375.7 1696.0,1375.9 1699.0,1376.2 1702.0,1376.4 1705.0,1376.7 1708.0,1376.9 1711.0,1377.1 1714.0,1377.4 1717.0,1377.6 1720.0,1377.8 1723.0,1378.0 1726.0,1378.3 1729.0,1378.5 1732.0,1378.7 1735.0,1378.9 1738.0,1379.1 1741.0,1379.3 1744.0,1379.5 1747.0,1379.7 1750.0,1379.9 1753.0,1380.1 1756.0,1380.2 1759.0,1380.4 1762.0,1380.6 1765.0,1380.8 1768.0,1380.9 1771.0,1381.1 1774.0,1381.3 1777.0,1381.4 1780.0,1381.6 1783.0,1381.8 1786.0,1381.9 1789.0,1382.1 1792.0,1382.2 1795.0,1382.4 1798.0,1382.5 1801.0,1382.7 1804.0,1382.8 1807.0,1383.0 1810.0,1383.1 1813.0,1383.2 1816.0,1383.4 1819.0,1383.5 1822.0,1383.6 1825.0,1383.8 1828.0,1383.9 1831.0,1384.0 1834.0,1384.1 1837.0,1384.2 1840.0,1384.4 1843.0,1384.5 1846.0,1384.6 1849.0,1384.7 1852.0,1384.8 1855.0,1384.9 1858.0,1385.0 1861.0,1385.2 1864.0,1385.3 1867.0,1385.4 1870.0,1385.5 1873.0,1385.6 1876.0,1385.7 1879.0,1385.8 1882.0,1385.9 1885.0,1386.0 1888.0,1386.1 1891.0,1386.1 1894.0,1386.2 1897.0,1386.3 1900.0,1386.4 1903.0,1386.5 1906.0,1386.6 1909.0,1386.7 1912.0,1386.8 1915.0,1386.9 1918.0,1386.9 1921.0,1387.0 1924.0,1387.1 1927.0,1387.2 1930.0,1387.3 1933.0,1387.3 1936.0,1387.4 1939.0,1387.5 1942.0,1387.6 1945.0,1387.6 1948.0,1387.7 1951.0,1387.8 1954.0,1387.9 1957.0,1387.9 1960.0,1388.0 1963.0,1388.1 1966.0,1388.1 1969.0,1388.2 1972.0,1388.3 1975.0,1388.3 1978.0,1388.4 1981.0,1388.5 1984.0,1388.5 1987.0,1388.6 1990.0,1388.6 1993.0,1388.7 1996.0,1388.8 1999.0,1388.8 2002.0,1388.9 2005.0,1388.9 2008.0,1389.0 2011.0,1389.1 2014.0,1389.1 2017.0,1389.2 2020.0,1389.2 2023.0,1389.3 2026.0,1389.3 2029.0,1389.4 2032.0,1389.4 2035.0,1389.5 2038.0,1389.5 2041.0,1389.6 2044.0,1389.6 2047.0,1389.7 2050.0,1389.7 2053.0,1389.8 2056.0,1389.8 2059.0,1389.9 2062.0,1389.9 2065.0,1390.0 2068.0,1390.0 2071.0,1390.1 2074.0,1390.1 2077.0,1390.2 2080.0,1390.2 2083.0,1390.3 2086.0,1390.3 2089.0,1390.3 2092.0,1390.4 2095.0,1390.4 2095.5,1390.4"/>
<filter id="fcb" x="-2%" y="-2%" width="104%" height="104%"><feGaussianBlur stdDeviation="1.6"/></filter>
<clipPath id="outc"><path d="M0,0H2181V1610H0Z M282,1117V1382.5H2071V1117Z" clip-rule="evenodd"/></clipPath>
<linearGradient id="dg" x1="0" y1="840" x2="0" y2="1010" gradientUnits="userSpaceOnUse"><stop offset="0" stop-color="#000"/><stop offset="1" stop-color="#fff"/></linearGradient>
<mask id="dm" maskUnits="userSpaceOnUse" x="0" y="0" width="2181" height="1610"><polygon points="560,1130 650,840 830,840 770,1130" fill="url(#dg)"/><polygon points="1160,840 1300,840 1440,1130 1290,1130" fill="url(#dg)"/><rect x="262" y="1320" width="40" height="80" fill="#fff"/><rect x="2060" y="1350" width="50" height="50" fill="#fff"/><rect x="282" y="1380" width="1800" height="14" fill="#fff"/></mask>
<clipPath id="pc"><rect x="282" y="1117" width="1789" height="265.5"/></clipPath>
</defs>
<rect width="2181" height="1610" fill="#fff"/>
<g clip-path="url(#pc)"><g filter="url(#fb1)">
<rect x="277" y="1112" width="1799" height="275.5" fill="#0a0616"/>
<rect x="297" y="1176" width="97" height="206" rx="5" fill="url(#gl0)"/>
<rect x="303" y="1126" width="85" height="62" rx="7" fill="url(#cl0)"/>
<rect x="307" y="1168" width="77" height="22" fill="#120c38" opacity="0.55" filter="url(#fb3)"/>
<rect x="310.6" y="1192" width="69.8" height="124" rx="24" fill="#140e4f" opacity="0.9" filter="url(#fb6)"/>
<rect x="302" y="1132" width="10" height="9" rx="3" fill="#453880" opacity="0.7" filter="url(#fb3)"/>
<rect x="379" y="1132" width="10" height="9" rx="3" fill="#453880" opacity="0.7" filter="url(#fb3)"/>
<rect x="302" y="1150" width="10" height="9" rx="3" fill="#453880" opacity="0.7" filter="url(#fb3)"/>
<rect x="379" y="1150" width="10" height="9" rx="3" fill="#453880" opacity="0.7" filter="url(#fb3)"/>
<rect x="302" y="1168" width="10" height="9" rx="3" fill="#453880" opacity="0.7" filter="url(#fb3)"/>
<rect x="379" y="1168" width="10" height="9" rx="3" fill="#453880" opacity="0.7" filter="url(#fb3)"/>
<rect x="299" y="1190" width="7" height="110" fill="#352870" opacity="0.5" filter="url(#fb3)"/>
<rect x="385" y="1190" width="7" height="110" fill="#352870" opacity="0.5" filter="url(#fb3)"/>
<rect x="311.6" y="1334" width="67.9" height="24" rx="8" fill="#ff7c82" opacity="0.7" filter="url(#fb3)"/>
<rect x="300" y="1318" width="7" height="48" fill="#ff8cf0" opacity="0.55" filter="url(#fb3)"/>
<rect x="384" y="1318" width="7" height="48" fill="#ff8cf0" opacity="0.55" filter="url(#fb3)"/>
<rect x="398" y="1176" width="99" height="206" rx="5" fill="url(#gl1)"/>
<rect x="404" y="1126" width="87" height="62" rx="7" fill="url(#cl1)"/>
<rect x="408" y="1168" width="79" height="22" fill="#140d3e" opacity="0.55" filter="url(#fb3)"/>
<rect x="411.9" y="1192" width="71.3" height="124" rx="24" fill="#150e51" opacity="0.9" filter="url(#fb6)"/>
<rect x="403" y="1132" width="10" height="9" rx="3" fill="#4c3e8c" opacity="0.7" filter="url(#fb3)"/>
<rect x="482" y="1132" width="10" height="9" rx="3" fill="#4c3e8c" opacity="0.7" filter="url(#fb3)"/>
<rect x="403" y="1150" width="10" height="9" rx="3" fill="#4c3e8c" opacity="0.7" filter="url(#fb3)"/>
<rect x="482" y="1150" width="10" height="9" rx="3" fill="#4c3e8c" opacity="0.7" filter="url(#fb3)"/>
<rect x="403" y="1168" width="10" height="9" rx="3" fill="#4c3e8c" opacity="0.7" filter="url(#fb3)"/>
<rect x="482" y="1168" width="10" height="9" rx="3" fill="#4c3e8c" opacity="0.7" filter="url(#fb3)"/>
<rect x="400" y="1190" width="7" height="110" fill="#3a2c7b" opacity="0.5" filter="url(#fb3)"/>
<rect x="488" y="1190" width="7" height="110" fill="#3a2c7b" opacity="0.5" filter="url(#fb3)"/>
<rect x="412.9" y="1334" width="69.3" height="24" rx="8" fill="#ff828a" opacity="0.7" filter="url(#fb3)"/>
<rect x="401" y="1318" width="7" height="48" fill="#ff8cf0" opacity="0.55" filter="url(#fb3)"/>
<rect x="487" y="1318" width="7" height="48" fill="#ff8cf0" opacity="0.55" filter="url(#fb3)"/>
<rect x="501" y="1176" width="93" height="206" rx="5" fill="url(#gl2)"/>
<rect x="507" y="1126" width="81" height="62" rx="7" fill="url(#cl2)"/>
<rect x="511" y="1168" width="73" height="22" fill="#160e43" opacity="0.55" filter="url(#fb3)"/>
<rect x="514.0" y="1192" width="67.0" height="124" rx="24" fill="#150f54" opacity="0.9" filter="url(#fb6)"/>
<rect x="506" y="1132" width="10" height="9" rx="3" fill="#534399" opacity="0.7" filter="url(#fb3)"/>
<rect x="579" y="1132" width="10" height="9" rx="3" fill="#534399" opacity="0.7" filter="url(#fb3)"/>
<rect x="506" y="1150" width="10" height="9" rx="3" fill="#534399" opacity="0.7" filter="url(#fb3)"/>
<rect x="579" y="1150" width="10" height="9" rx="3" fill="#534399" opacity="0.7" filter="url(#fb3)"/>
<rect x="506" y="1168" width="10" height="9" rx="3" fill="#534399" opacity="0.7" filter="url(#fb3)"/>
<rect x="579" y="1168" width="10" height="9" rx="3" fill="#534399" opacity="0.7" filter="url(#fb3)"/>
<rect x="503" y="1190" width="7" height="110" fill="#403086" opacity="0.5" filter="url(#fb3)"/>
<rect x="585" y="1190" width="7" height="110" fill="#403086" opacity="0.5" filter="url(#fb3)"/>
<rect x="515.0" y="1334" width="65.1" height="24" rx="8" fill="#ff8e96" opacity="0.7" filter="url(#fb3)"/>
<rect x="504" y="1318" width="7" height="48" fill="#ff8cf0" opacity="0.55" filter="url(#fb3)"/>
<rect x="584" y="1318" width="7" height="48" fill="#ff8cf0" opacity="0.55" filter="url(#fb3)"/>
<rect x="598" y="1176" width="90" height="206" rx="5" fill="url(#gl3)"/>
<rect x="604" y="1126" width="78" height="62" rx="7" fill="url(#cl3)"/>
<rect x="608" y="1168" width="70" height="22" fill="#1d135a" opacity="0.55" filter="url(#fb3)"/>
<rect x="610.6" y="1192" width="64.8" height="124" rx="24" fill="#18105d" opacity="0.9" filter="url(#fb6)"/>
<rect x="603" y="1132" width="10" height="9" rx="3" fill="#6e5acc" opacity="0.7" filter="url(#fb3)"/>
<rect x="673" y="1132" width="10" height="9" rx="3" fill="#6e5acc" opacity="0.7" filter="url(#fb3)"/>
<rect x="603" y="1150" width="10" height="9" rx="3" fill="#6e5acc" opacity="0.7" filter="url(#fb3)"/>
<rect x="673" y="1150" width="10" height="9" rx="3" fill="#6e5acc" opacity="0.7" filter="url(#fb3)"/>
<rect x="603" y="1168" width="10" height="9" rx="3" fill="#6e5acc" opacity="0.7" filter="url(#fb3)"/>
<rect x="673" y="1168" width="10" height="9" rx="3" fill="#6e5acc" opacity="0.7" filter="url(#fb3)"/>
<rect x="600" y="1190" width="7" height="110" fill="#5540b3" opacity="0.5" filter="url(#fb3)"/>
<rect x="679" y="1190" width="7" height="110" fill="#5540b3" opacity="0.5" filter="url(#fb3)"/>
<rect x="611.5" y="1334" width="63.0" height="24" rx="8" fill="#ff9ca8" opacity="0.7" filter="url(#fb3)"/>
<rect x="601" y="1318" width="7" height="48" fill="#ff8cf0" opacity="0.55" filter="url(#fb3)"/>
<rect x="678" y="1318" width="7" height="48" fill="#ff8cf0" opacity="0.55" filter="url(#fb3)"/>
<rect x="691" y="1176" width="90" height="206" rx="5" fill="url(#gl4)"/>
<rect x="697" y="1126" width="78" height="62" rx="7" fill="url(#cl4)"/>
<rect x="701" y="1168" width="70" height="22" fill="#22176a" opacity="0.55" filter="url(#fb3)"/>
<rect x="703.6" y="1192" width="64.8" height="124" rx="24" fill="#191264" opacity="0.9" filter="url(#fb6)"/>
<rect x="696" y="1132" width="10" height="9" rx="3" fill="#836af2" opacity="0.7" filter="url(#fb3)"/>
<rect x="766" y="1132" width="10" height="9" rx="3" fill="#836af2" opacity="0.7" filter="url(#fb3)"/>
<rect x="696" y="1150" width="10" height="9" rx="3" fill="#836af2" opacity="0.7" filter="url(#fb3)"/>
<rect x="766" y="1150" width="10" height="9" rx="3" fill="#836af2" opacity="0.7" filter="url(#fb3)"/>
<rect x="696" y="1168" width="10" height="9" rx="3" fill="#836af2" opacity="0.7" filter="url(#fb3)"/>
<rect x="766" y="1168" width="10" height="9" rx="3" fill="#836af2" opacity="0.7" filter="url(#fb3)"/>
<rect x="693" y="1190" width="7" height="110" fill="#654cd5" opacity="0.5" filter="url(#fb3)"/>
<rect x="772" y="1190" width="7" height="110" fill="#654cd5" opacity="0.5" filter="url(#fb3)"/>
<rect x="704.5" y="1334" width="63.0" height="24" rx="8" fill="#ffa2ae" opacity="0.7" filter="url(#fb3)"/>
<rect x="694" y="1318" width="7" height="48" fill="#ff8cf0" opacity="0.55" filter="url(#fb3)"/>
<rect x="771" y="1318" width="7" height="48" fill="#ff8cf0" opacity="0.55" filter="url(#fb3)"/>
<rect x="784" y="1176" width="89" height="206" rx="5" fill="url(#gl5)"/>
<rect x="790" y="1126" width="77" height="62" rx="7" fill="url(#cl5)"/>
<rect x="794" y="1168" width="69" height="22" fill="#241870" opacity="0.55" filter="url(#fb3)"/>
<rect x="796.5" y="1192" width="64.1" height="124" rx="24" fill="#1a1266" opacity="0.9" filter="url(#fb6)"/>
<rect x="789" y="1132" width="10" height="9" rx="3" fill="#8a70ff" opacity="0.7" filter="url(#fb3)"/>
<rect x="858" y="1132" width="10" height="9" rx="3" fill="#8a70ff" opacity="0.7" filter="url(#fb3)"/>
<rect x="789" y="1150" width="10" height="9" rx="3" fill="#8a70ff" opacity="0.7" filter="url(#fb3)"/>
<rect x="858" y="1150" width="10" height="9" rx="3" fill="#8a70ff" opacity="0.7" filter="url(#fb3)"/>
<rect x="789" y="1168" width="10" height="9" rx="3" fill="#8a70ff" opacity="0.7" filter="url(#fb3)"/>
<rect x="858" y="1168" width="10" height="9" rx="3" fill="#8a70ff" opacity="0.7" filter="url(#fb3)"/>
<rect x="786" y="1190" width="7" height="110" fill="#6a50e0" opacity="0.5" filter="url(#fb3)"/>
<rect x="864" y="1190" width="7" height="110" fill="#6a50e0" opacity="0.5" filter="url(#fb3)"/>
<rect x="797.4" y="1334" width="62.3" height="24" rx="8" fill="#ffa4b0" opacity="0.7" filter="url(#fb3)"/>
<rect x="787" y="1318" width="7" height="48" fill="#ff8cf0" opacity="0.55" filter="url(#fb3)"/>
<rect x="863" y="1318" width="7" height="48" fill="#ff8cf0" opacity="0.55" filter="url(#fb3)"/>
<rect x="876" y="1176" width="92" height="206" rx="5" fill="url(#gl6)"/>
<rect x="882" y="1126" width="80" height="62" rx="7" fill="url(#cl6)"/>
<rect x="886" y="1168" width="72" height="22" fill="#241870" opacity="0.55" filter="url(#fb3)"/>
<rect x="888.9" y="1192" width="66.2" height="124" rx="24" fill="#1a1266" opacity="0.9" filter="url(#fb6)"/>
<rect x="881" y="1132" width="10" height="9" rx="3" fill="#8a70ff" opacity="0.7" filter="url(#fb3)"/>
<rect x="953" y="1132" width="10" height="9" rx="3" fill="#8a70ff" opacity="0.7" filter="url(#fb3)"/>
<rect x="881" y="1150" width="10" height="9" rx="3" fill="#8a70ff" opacity="0.7" filter="url(#fb3)"/>
<rect x="953" y="1150" width="10" height="9" rx="3" fill="#8a70ff" opacity="0.7" filter="url(#fb3)"/>
<rect x="881" y="1168" width="10" height="9" rx="3" fill="#8a70ff" opacity="0.7" filter="url(#fb3)"/>
<rect x="953" y="1168" width="10" height="9" rx="3" fill="#8a70ff" opacity="0.7" filter="url(#fb3)"/>
<rect x="878" y="1190" width="7" height="110" fill="#6a50e0" opacity="0.5" filter="url(#fb3)"/>
<rect x="959" y="1190" width="7" height="110" fill="#6a50e0" opacity="0.5" filter="url(#fb3)"/>
<rect x="889.8" y="1334" width="64.4" height="24" rx="8" fill="#ffa2ac" opacity="0.7" filter="url(#fb3)"/>
<rect x="879" y="1318" width="7" height="48" fill="#ff8cf0" opacity="0.55" filter="url(#fb3)"/>
<rect x="958" y="1318" width="7" height="48" fill="#ff8cf0" opacity="0.55" filter="url(#fb3)"/>
<rect x="971" y="1176" width="88" height="206" rx="5" fill="url(#gl7)"/>
<rect x="977" y="1126" width="76" height="62" rx="7" fill="url(#cl7)"/>
<rect x="981" y="1168" width="68" height="22" fill="#241870" opacity="0.55" filter="url(#fb3)"/>
<rect x="983.3" y="1192" width="63.4" height="124" rx="24" fill="#1a1266" opacity="0.9" filter="url(#fb6)"/>
<rect x="976" y="1132" width="10" height="9" rx="3" fill="#8a70ff" opacity="0.7" filter="url(#fb3)"/>
<rect x="1044" y="1132" width="10" height="9" rx="3" fill="#8a70ff" opacity="0.7" filter="url(#fb3)"/>
<rect x="976" y="1150" width="10" height="9" rx="3" fill="#8a70ff" opacity="0.7" filter="url(#fb3)"/>
<rect x="1044" y="1150" width="10" height="9" rx="3" fill="#8a70ff" opacity="0.7" filter="url(#fb3)"/>
<rect x="976" y="1168" width="10" height="9" rx="3" fill="#8a70ff" opacity="0.7" filter="url(#fb3)"/>
<rect x="1044" y="1168" width="10" height="9" rx="3" fill="#8a70ff" opacity="0.7" filter="url(#fb3)"/>
<rect x="973" y="1190" width="7" height="110" fill="#6a50e0" opacity="0.5" filter="url(#fb3)"/>
<rect x="1050" y="1190" width="7" height="110" fill="#6a50e0" opacity="0.5" filter="url(#fb3)"/>
<rect x="984.2" y="1334" width="61.6" height="24" rx="8" fill="#ffa2aa" opacity="0.7" filter="url(#fb3)"/>
<rect x="974" y="1318" width="7" height="48" fill="#ff8cf0" opacity="0.55" filter="url(#fb3)"/>
<rect x="1049" y="1318" width="7" height="48" fill="#ff8cf0" opacity="0.55" filter="url(#fb3)"/>
<rect x="1062" y="1176" width="87" height="206" rx="5" fill="url(#gl8)"/>
<rect x="1068" y="1126" width="75" height="62" rx="7" fill="url(#cl8)"/>
<rect x="1072" y="1168" width="67" height="22" fill="#22176a" opacity="0.55" filter="url(#fb3)"/>
<rect x="1074.2" y="1192" width="62.6" height="124" rx="24" fill="#191264" opacity="0.9" filter="url(#fb6)"/>
<rect x="1067" y="1132" width="10" height="9" rx="3" fill="#836af2" opacity="0.7" filter="url(#fb3)"/>
<rect x="1134" y="1132" width="10" height="9" rx="3" fill="#836af2" opacity="0.7" filter="url(#fb3)"/>
<rect x="1067" y="1150" width="10" height="9" rx="3" fill="#836af2" opacity="0.7" filter="url(#fb3)"/>
<rect x="1134" y="1150" width="10" height="9" rx="3" fill="#836af2" opacity="0.7" filter="url(#fb3)"/>
<rect x="1067" y="1168" width="10" height="9" rx="3" fill="#836af2" opacity="0.7" filter="url(#fb3)"/>
<rect x="1134" y="1168" width="10" height="9" rx="3" fill="#836af2" opacity="0.7" filter="url(#fb3)"/>
<rect x="1064" y="1190" width="7" height="110" fill="#654cd5" opacity="0.5" filter="url(#fb3)"/>
<rect x="1140" y="1190" width="7" height="110" fill="#654cd5" opacity="0.5" filter="url(#fb3)"/>
<rect x="1075.0" y="1334" width="60.9" height="24" rx="8" fill="#ffa0a6" opacity="0.7" filter="url(#fb3)"/>
<rect x="1065" y="1318" width="7" height="48" fill="#ff8cf0" opacity="0.55" filter="url(#fb3)"/>
<rect x="1139" y="1318" width="7" height="48" fill="#ff8cf0" opacity="0.55" filter="url(#fb3)"/>
<rect x="1152" y="1176" width="90" height="206" rx="5" fill="url(#gl9)"/>
<rect x="1158" y="1126" width="78" height="62" rx="7" fill="url(#cl9)"/>
<rect x="1162" y="1168" width="70" height="22" fill="#201665" opacity="0.55" filter="url(#fb3)"/>
<rect x="1164.6" y="1192" width="64.8" height="124" rx="24" fill="#191161" opacity="0.9" filter="url(#fb6)"/>
<rect x="1157" y="1132" width="10" height="9" rx="3" fill="#7c65e6" opacity="0.7" filter="url(#fb3)"/>
<rect x="1227" y="1132" width="10" height="9" rx="3" fill="#7c65e6" opacity="0.7" filter="url(#fb3)"/>
<rect x="1157" y="1150" width="10" height="9" rx="3" fill="#7c65e6" opacity="0.7" filter="url(#fb3)"/>
<rect x="1227" y="1150" width="10" height="9" rx="3" fill="#7c65e6" opacity="0.7" filter="url(#fb3)"/>
<rect x="1157" y="1168" width="10" height="9" rx="3" fill="#7c65e6" opacity="0.7" filter="url(#fb3)"/>
<rect x="1227" y="1168" width="10" height="9" rx="3" fill="#7c65e6" opacity="0.7" filter="url(#fb3)"/>
<rect x="1154" y="1190" width="7" height="110" fill="#5f48ca" opacity="0.5" filter="url(#fb3)"/>
<rect x="1233" y="1190" width="7" height="110" fill="#5f48ca" opacity="0.5" filter="url(#fb3)"/>
<rect x="1165.5" y="1334" width="63.0" height="24" rx="8" fill="#ffa0a0" opacity="0.7" filter="url(#fb3)"/>
<rect x="1155" y="1318" width="7" height="48" fill="#ff8cf0" opacity="0.55" filter="url(#fb3)"/>
<rect x="1232" y="1318" width="7" height="48" fill="#ff8cf0" opacity="0.55" filter="url(#fb3)"/>
<rect x="1246" y="1176" width="89" height="206" rx="5" fill="url(#gl10)"/>
<rect x="1252" y="1126" width="77" height="62" rx="7" fill="url(#cl10)"/>
<rect x="1256" y="1168" width="69" height="22" fill="#1f145f" opacity="0.55" filter="url(#fb3)"/>
<rect x="1258.5" y="1192" width="64.1" height="124" rx="24" fill="#18115f" opacity="0.9" filter="url(#fb6)"/>
<rect x="1251" y="1132" width="10" height="9" rx="3" fill="#755fd9" opacity="0.7" filter="url(#fb3)"/>
<rect x="1320" y="1132" width="10" height="9" rx="3" fill="#755fd9" opacity="0.7" filter="url(#fb3)"/>
<rect x="1251" y="1150" width="10" height="9" rx="3" fill="#755fd9" opacity="0.7" filter="url(#fb3)"/>
<rect x="1320" y="1150" width="10" height="9" rx="3" fill="#755fd9" opacity="0.7" filter="url(#fb3)"/>
<rect x="1251" y="1168" width="10" height="9" rx="3" fill="#755fd9" opacity="0.7" filter="url(#fb3)"/>
<rect x="1320" y="1168" width="10" height="9" rx="3" fill="#755fd9" opacity="0.7" filter="url(#fb3)"/>
<rect x="1248" y="1190" width="7" height="110" fill="#5a44be" opacity="0.5" filter="url(#fb3)"/>
<rect x="1326" y="1190" width="7" height="110" fill="#5a44be" opacity="0.5" filter="url(#fb3)"/>
<rect x="1259.3" y="1334" width="62.3" height="24" rx="8" fill="#ffa09c" opacity="0.7" filter="url(#fb3)"/>
<rect x="1249" y="1318" width="7" height="48" fill="#ff8cf0" opacity="0.55" filter="url(#fb3)"/>
<rect x="1325" y="1318" width="7" height="48" fill="#ff8cf0" opacity="0.55" filter="url(#fb3)"/>
<rect x="1338" y="1176" width="90" height="206" rx="5" fill="url(#gl11)"/>
<rect x="1344" y="1126" width="78" height="62" rx="7" fill="url(#cl11)"/>
<rect x="1348" y="1168" width="70" height="22" fill="#1f145f" opacity="0.55" filter="url(#fb3)"/>
<rect x="1350.6" y="1192" width="64.8" height="124" rx="24" fill="#18115f" opacity="0.9" filter="url(#fb6)"/>
<rect x="1343" y="1132" width="10" height="9" rx="3" fill="#755fd9" opacity="0.7" filter="url(#fb3)"/>
<rect x="1413" y="1132" width="10" height="9" rx="3" fill="#755fd9" opacity="0.7" filter="url(#fb3)"/>
<rect x="1343" y="1150" width="10" height="9" rx="3" fill="#755fd9" opacity="0.7" filter="url(#fb3)"/>
<rect x="1413" y="1150" width="10" height="9" rx="3" fill="#755fd9" opacity="0.7" filter="url(#fb3)"/>
<rect x="1343" y="1168" width="10" height="9" rx="3" fill="#755fd9" opacity="0.7" filter="url(#fb3)"/>
<rect x="1413" y="1168" width="10" height="9" rx="3" fill="#755fd9" opacity="0.7" filter="url(#fb3)"/>
<rect x="1340" y="1190" width="7" height="110" fill="#5a44be" opacity="0.5" filter="url(#fb3)"/>
<rect x="1419" y="1190" width="7" height="110" fill="#5a44be" opacity="0.5" filter="url(#fb3)"/>
<rect x="1351.5" y="1334" width="63.0" height="24" rx="8" fill="#ffa496" opacity="0.7" filter="url(#fb3)"/>
<rect x="1341" y="1318" width="7" height="48" fill="#ff8cf0" opacity="0.55" filter="url(#fb3)"/>
<rect x="1418" y="1318" width="7" height="48" fill="#ff8cf0" opacity="0.55" filter="url(#fb3)"/>
<rect x="1431" y="1176" width="90" height="206" rx="5" fill="url(#gl12)"/>
<rect x="1437" y="1126" width="78" height="62" rx="7" fill="url(#cl12)"/>
<rect x="1441" y="1168" width="70" height="22" fill="#140d3e" opacity="0.55" filter="url(#fb3)"/>
<rect x="1443.6" y="1192" width="64.8" height="124" rx="24" fill="#0c1028" opacity="0.9" filter="url(#fb6)"/>
<rect x="1436" y="1132" width="10" height="9" rx="3" fill="#4c3e8c" opacity="0.7" filter="url(#fb3)"/>
<rect x="1506" y="1132" width="10" height="9" rx="3" fill="#4c3e8c" opacity="0.7" filter="url(#fb3)"/>
<rect x="1436" y="1150" width="10" height="9" rx="3" fill="#4c3e8c" opacity="0.7" filter="url(#fb3)"/>
<rect x="1506" y="1150" width="10" height="9" rx="3" fill="#4c3e8c" opacity="0.7" filter="url(#fb3)"/>
<rect x="1436" y="1168" width="10" height="9" rx="3" fill="#4c3e8c" opacity="0.7" filter="url(#fb3)"/>
<rect x="1506" y="1168" width="10" height="9" rx="3" fill="#4c3e8c" opacity="0.7" filter="url(#fb3)"/>
<rect x="1433" y="1190" width="7" height="110" fill="#3a2c7b" opacity="0.5" filter="url(#fb3)"/>
<rect x="1512" y="1190" width="7" height="110" fill="#3a2c7b" opacity="0.5" filter="url(#fb3)"/>
<rect x="1444.5" y="1334" width="63.0" height="24" rx="8" fill="#ff9090" opacity="0.7" filter="url(#fb3)"/>
<rect x="1434" y="1318" width="7" height="48" fill="#ff8cf0" opacity="0.55" filter="url(#fb3)"/>
<rect x="1511" y="1318" width="7" height="48" fill="#ff8cf0" opacity="0.55" filter="url(#fb3)"/>
<rect x="1431" y="1118" width="90" height="80" fill="#0a0e24" opacity="0.9" filter="url(#fb3)"/>
<rect x="1538" y="1176" width="97" height="206" rx="6" fill="url(#gr0)"/>
<rect x="1543" y="1121" width="87" height="64" rx="9" fill="#5e4ad8"/>
<rect x="1551.6" y="1192" width="69.8" height="120" rx="26" fill="#26187c" opacity="0.85" filter="url(#fb6)"/>
<rect x="1542" y="1126" width="11" height="10" rx="3" fill="#a088ff" opacity="0.75" filter="url(#fb3)"/>
<rect x="1620" y="1126" width="11" height="10" rx="3" fill="#a088ff" opacity="0.75" filter="url(#fb3)"/>
<rect x="1542" y="1144" width="11" height="10" rx="3" fill="#a088ff" opacity="0.75" filter="url(#fb3)"/>
<rect x="1620" y="1144" width="11" height="10" rx="3" fill="#a088ff" opacity="0.75" filter="url(#fb3)"/>
<rect x="1542" y="1162" width="11" height="10" rx="3" fill="#a088ff" opacity="0.75" filter="url(#fb3)"/>
<rect x="1620" y="1162" width="11" height="10" rx="3" fill="#a088ff" opacity="0.75" filter="url(#fb3)"/>
<rect x="1540" y="1188" width="8" height="110" fill="#7a60f0" opacity="0.5" filter="url(#fb3)"/>
<rect x="1625" y="1188" width="8" height="110" fill="#7a60f0" opacity="0.5" filter="url(#fb3)"/>
<rect x="1552.5" y="1330" width="67.9" height="26" rx="8" fill="#ffc898" opacity="0.7" filter="url(#fb3)"/>
<rect x="1648" y="1176" width="98" height="206" rx="6" fill="url(#gr1)"/>
<rect x="1653" y="1121" width="88" height="64" rx="9" fill="#5e4ad8"/>
<rect x="1661.7" y="1192" width="70.6" height="120" rx="26" fill="#26187c" opacity="0.85" filter="url(#fb6)"/>
<rect x="1652" y="1126" width="11" height="10" rx="3" fill="#a088ff" opacity="0.75" filter="url(#fb3)"/>
<rect x="1731" y="1126" width="11" height="10" rx="3" fill="#a088ff" opacity="0.75" filter="url(#fb3)"/>
<rect x="1652" y="1144" width="11" height="10" rx="3" fill="#a088ff" opacity="0.75" filter="url(#fb3)"/>
<rect x="1731" y="1144" width="11" height="10" rx="3" fill="#a088ff" opacity="0.75" filter="url(#fb3)"/>
<rect x="1652" y="1162" width="11" height="10" rx="3" fill="#a088ff" opacity="0.75" filter="url(#fb3)"/>
<rect x="1731" y="1162" width="11" height="10" rx="3" fill="#a088ff" opacity="0.75" filter="url(#fb3)"/>
<rect x="1650" y="1188" width="8" height="110" fill="#7a60f0" opacity="0.5" filter="url(#fb3)"/>
<rect x="1736" y="1188" width="8" height="110" fill="#7a60f0" opacity="0.5" filter="url(#fb3)"/>
<rect x="1662.7" y="1330" width="68.6" height="26" rx="8" fill="#ffc898" opacity="0.7" filter="url(#fb3)"/>
<rect x="1748" y="1176" width="96" height="206" rx="6" fill="url(#gr2)"/>
<rect x="1753" y="1121" width="86" height="64" rx="9" fill="#5e4ad8"/>
<rect x="1761.4" y="1192" width="69.1" height="120" rx="26" fill="#26187c" opacity="0.85" filter="url(#fb6)"/>
<rect x="1752" y="1126" width="11" height="10" rx="3" fill="#a088ff" opacity="0.75" filter="url(#fb3)"/>
<rect x="1829" y="1126" width="11" height="10" rx="3" fill="#a088ff" opacity="0.75" filter="url(#fb3)"/>
<rect x="1752" y="1144" width="11" height="10" rx="3" fill="#a088ff" opacity="0.75" filter="url(#fb3)"/>
<rect x="1829" y="1144" width="11" height="10" rx="3" fill="#a088ff" opacity="0.75" filter="url(#fb3)"/>
<rect x="1752" y="1162" width="11" height="10" rx="3" fill="#a088ff" opacity="0.75" filter="url(#fb3)"/>
<rect x="1829" y="1162" width="11" height="10" rx="3" fill="#a088ff" opacity="0.75" filter="url(#fb3)"/>
<rect x="1750" y="1188" width="8" height="110" fill="#7a60f0" opacity="0.5" filter="url(#fb3)"/>
<rect x="1834" y="1188" width="8" height="110" fill="#7a60f0" opacity="0.5" filter="url(#fb3)"/>
<rect x="1762.4" y="1330" width="67.2" height="26" rx="8" fill="#ffc898" opacity="0.7" filter="url(#fb3)"/>
<rect x="1847" y="1176" width="100" height="206" rx="6" fill="url(#gr3)"/>
<rect x="1852" y="1121" width="90" height="64" rx="9" fill="#5e4ad8"/>
<rect x="1861.0" y="1192" width="72.0" height="120" rx="26" fill="#26187c" opacity="0.85" filter="url(#fb6)"/>
<rect x="1851" y="1126" width="11" height="10" rx="3" fill="#a088ff" opacity="0.75" filter="url(#fb3)"/>
<rect x="1932" y="1126" width="11" height="10" rx="3" fill="#a088ff" opacity="0.75" filter="url(#fb3)"/>
<rect x="1851" y="1144" width="11" height="10" rx="3" fill="#a088ff" opacity="0.75" filter="url(#fb3)"/>
<rect x="1932" y="1144" width="11" height="10" rx="3" fill="#a088ff" opacity="0.75" filter="url(#fb3)"/>
<rect x="1851" y="1162" width="11" height="10" rx="3" fill="#a088ff" opacity="0.75" filter="url(#fb3)"/>
<rect x="1932" y="1162" width="11" height="10" rx="3" fill="#a088ff" opacity="0.75" filter="url(#fb3)"/>
<rect x="1849" y="1188" width="8" height="110" fill="#7a60f0" opacity="0.5" filter="url(#fb3)"/>
<rect x="1937" y="1188" width="8" height="110" fill="#7a60f0" opacity="0.5" filter="url(#fb3)"/>
<rect x="1862.0" y="1330" width="70.0" height="26" rx="8" fill="#ffc898" opacity="0.7" filter="url(#fb3)"/>
<rect x="1951" y="1176" width="102" height="206" rx="6" fill="url(#gr4)"/>
<rect x="1956" y="1121" width="92" height="64" rx="9" fill="#5e4ad8"/>
<rect x="1965.3" y="1192" width="73.4" height="120" rx="26" fill="#26187c" opacity="0.85" filter="url(#fb6)"/>
<rect x="1955" y="1126" width="11" height="10" rx="3" fill="#a088ff" opacity="0.75" filter="url(#fb3)"/>
<rect x="2038" y="1126" width="11" height="10" rx="3" fill="#a088ff" opacity="0.75" filter="url(#fb3)"/>
<rect x="1955" y="1144" width="11" height="10" rx="3" fill="#a088ff" opacity="0.75" filter="url(#fb3)"/>
<rect x="2038" y="1144" width="11" height="10" rx="3" fill="#a088ff" opacity="0.75" filter="url(#fb3)"/>
<rect x="1955" y="1162" width="11" height="10" rx="3" fill="#a088ff" opacity="0.75" filter="url(#fb3)"/>
<rect x="2038" y="1162" width="11" height="10" rx="3" fill="#a088ff" opacity="0.75" filter="url(#fb3)"/>
<rect x="1953" y="1188" width="8" height="110" fill="#7a60f0" opacity="0.5" filter="url(#fb3)"/>
<rect x="2043" y="1188" width="8" height="110" fill="#7a60f0" opacity="0.5" filter="url(#fb3)"/>
<rect x="1966.3" y="1330" width="71.4" height="26" rx="8" fill="#ffc898" opacity="0.7" filter="url(#fb3)"/>
<rect x="916" y="1282" width="40" height="20" rx="3" fill="#a876f4" opacity="0.85" filter="url(#fb3)"/>
<rect x="997" y="1264" width="48" height="22" rx="3" fill="#9c74fa" opacity="0.85" filter="url(#fb3)"/>
<rect x="1271" y="1268" width="50" height="25" rx="3" fill="#a476f2" opacity="0.8" filter="url(#fb3)"/>
<rect x="412" y="1284" width="40" height="28" rx="3" fill="#9a60d8" opacity="0.6" filter="url(#fb3)"/>
<rect x="1085" y="1285" width="36" height="18" rx="3" fill="#8a64e8" opacity="0.5" filter="url(#fb3)"/>
<rect x="393.5" y="1186" width="5" height="196" fill="#3a0a5a" opacity="0.9"/>
<rect x="496.5" y="1186" width="5" height="196" fill="#3a0a5a" opacity="0.9"/>
<rect x="593.5" y="1186" width="5" height="196" fill="#3a0a5a" opacity="0.9"/>
<rect x="687.0" y="1186" width="5" height="196" fill="#3a0a5a" opacity="0.9"/>
<rect x="780.0" y="1186" width="5" height="196" fill="#3a0a5a" opacity="0.9"/>
<rect x="872.0" y="1186" width="5" height="196" fill="#3a0a5a" opacity="0.9"/>
<rect x="967.0" y="1186" width="5" height="196" fill="#3a0a5a" opacity="0.9"/>
<rect x="1058.0" y="1186" width="5" height="196" fill="#3a0a5a" opacity="0.9"/>
<rect x="1148.0" y="1186" width="5" height="196" fill="#3a0a5a" opacity="0.9"/>
<rect x="1241.5" y="1186" width="5" height="196" fill="#3a0a5a" opacity="0.9"/>
<rect x="1334.0" y="1186" width="5" height="196" fill="#3a0a5a" opacity="0.9"/>
<rect x="1427.0" y="1186" width="5" height="196" fill="#3a0a5a" opacity="0.9"/>
<rect x="1527.0" y="1186" width="5" height="196" fill="#3a0a5a" opacity="0.9"/>
<rect x="1639.0" y="1186" width="5" height="196" fill="#3a0a5a" opacity="0.9"/>
<rect x="1744.5" y="1186" width="5" height="196" fill="#3a0a5a" opacity="0.9"/>
<rect x="1843.0" y="1186" width="5" height="196" fill="#3a0a5a" opacity="0.9"/>
<rect x="1946.5" y="1186" width="5" height="196" fill="#3a0a5a" opacity="0.9"/>
</g></g>
<rect x="282" y="1117" width="1789" height="265.5" fill="none" stroke="#222" stroke-width="1.5"/>
<!-- frame -->
<line x1="271" y1="61.5" x2="2098" y2="61.5" stroke="#d2d2d2" stroke-width="3"/>
<line x1="271" y1="64.5" x2="2098" y2="64.5" stroke="#888" stroke-width="3"/>
<line x1="2095.7" y1="60" x2="2095.7" y2="1113" stroke="#5a5a5a" stroke-width="5"/>
<line x1="2095.7" y1="1113" x2="2095.7" y2="1392" stroke="#b0b0b0" stroke-width="5"/>
<g clip-path="url(#outc)" ><g fill="none" stroke-width="6.3" stroke-linejoin="round" ><use href="#cv16" stroke="rgb(6,0,0)"/><use href="#cv15" stroke="rgb(16,1,2)"/><use href="#cv14" stroke="rgb(27,3,4)"/><use href="#cv13" stroke="rgb(38,5,7)"/><use href="#cv12" stroke="rgb(49,7,9)"/><use href="#cv11" stroke="rgb(60,8,11)"/><use href="#cv10" stroke="rgb(71,10,14)"/><use href="#cv9" stroke="rgb(82,12,16)"/><use href="#cv8" stroke="rgb(93,14,19)"/><use href="#cv7" stroke="rgb(104,15,21)"/><use href="#cv6" stroke="rgb(115,17,23)"/><polygon points="271.0,1374.4 274.0,1374.3 277.0,1374.1 280.0,1374.0 283.0,1373.8 286.0,1373.7 289.0,1373.5 292.0,1373.3 295.0,1373.1 298.0,1372.9 301.0,1372.7 304.0,1372.5 307.0,1372.3 310.0,1372.1 313.0,1371.9 316.0,1371.6 319.0,1371.4 322.0,1371.1 325.0,1370.9 328.0,1370.6 331.0,1370.3 334.0,1370.0 337.0,1369.6 340.0,1369.3 343.0,1369.0 346.0,1368.6 349.0,1368.2 352.0,1367.8 355.0,1367.4 358.0,1367.0 361.0,1366.5 364.0,1366.0 367.0,1365.5 370.0,1365.0 373.0,1364.5 376.0,1363.9 379.0,1363.3 382.0,1362.7 385.0,1362.1 388.0,1361.4 391.0,1360.7 394.0,1360.0 397.0,1359.2 400.0,1358.5 403.0,1357.6 406.0,1356.8 409.0,1355.9 412.0,1354.9 415.0,1354.0 418.0,1353.0 421.0,1351.9 424.0,1350.8 427.0,1349.7 430.0,1348.5 433.0,1347.2 436.0,1345.9 439.0,1344.6 442.0,1343.2 445.0,1341.8 448.0,1340.3 451.0,1338.7 454.0,1337.1 457.0,1335.4 460.0,1333.7 463.0,1331.8 466.0,1330.0 469.0,1328.0 472.0,1326.0 475.0,1323.9 478.0,1321.8 481.0,1319.5 484.0,1317.2 487.0,1314.8 490.0,1312.3 493.0,1309.8 496.0,1307.1 499.0,1304.4 502.0,1301.6 505.0,1298.7 508.0,1295.7 511.0,1292.6 514.0,1289.4 517.0,1286.1 520.0,1282.7 523.0,1279.2 526.0,1275.6 529.0,1271.9 529.0,1271.9 526.0,1275.9 523.0,1279.9 520.0,1284.0 517.0,1288.2 514.0,1292.5 511.0,1296.7 508.0,1300.9 505.0,1305.0 502.0,1309.1 499.0,1313.0 496.0,1316.9 493.0,1320.7 490.0,1324.3 487.0,1327.8 484.0,1331.2 481.0,1334.4 478.0,1337.4 475.0,1340.3 472.0,1343.0 469.0,1345.6 466.0,1348.0 463.0,1350.2 460.0,1352.2 457.0,1354.1 454.0,1355.9 451.0,1357.4 448.0,1358.8 445.0,1360.1 442.0,1361.2 439.0,1362.1 436.0,1363.0 433.0,1363.9 430.0,1364.7 427.0,1365.5 424.0,1366.2 421.0,1366.9 418.0,1367.6 415.0,1368.3 412.0,1369.0 409.0,1369.6 406.0,1370.2 403.0,1370.7 400.0,1371.3 397.0,1371.8 394.0,1372.3 391.0,1372.8 388.0,1373.3 385.0,1373.7 382.0,1374.1 379.0,1374.5 376.0,1374.9 373.0,1375.3 370.0,1375.7 367.0,1376.0 364.0,1376.3 361.0,1376.7 358.0,1377.0 355.0,1377.3 352.0,1377.5 349.0,1377.8 346.0,1378.0 343.0,1378.3 340.0,1378.5 337.0,1378.8 334.0,1379.0 331.0,1379.2 328.0,1379.4 325.0,1379.6 322.0,1379.7 319.0,1379.9 316.0,1380.1 313.0,1380.2 310.0,1380.4 307.0,1380.5 304.0,1380.7 301.0,1380.8 298.0,1380.9 295.0,1381.1 292.0,1381.2 289.0,1381.3 286.0,1381.4 283.0,1381.5 280.0,1381.6 277.0,1381.7 274.0,1381.8 271.0,1381.9" fill="rgb(200,16,24)" stroke="none"/><polygon points="1540.0,1265.9 1543.0,1268.0 1546.0,1269.9 1549.0,1271.9 1552.0,1273.8 1555.0,1275.7 1558.0,1277.5 1561.0,1279.3 1564.0,1281.1 1567.0,1282.9 1570.0,1284.6 1573.0,1286.3 1576.0,1287.9 1579.0,1289.6 1582.0,1291.2 1585.0,1292.8 1588.0,1294.3 1591.0,1295.9 1594.0,1297.4 1597.0,1298.8 1600.0,1300.3 1603.0,1301.7 1606.0,1303.1 1609.0,1304.5 1612.0,1305.8 1615.0,1307.2 1618.0,1308.5 1621.0,1309.8 1624.0,1311.0 1627.0,1312.3 1630.0,1313.5 1633.0,1314.7 1636.0,1315.9 1639.0,1317.0 1642.0,1318.1 1645.0,1319.3 1648.0,1320.4 1651.0,1321.4 1654.0,1322.5 1657.0,1323.6 1660.0,1324.6 1663.0,1325.6 1666.0,1326.6 1669.0,1327.6 1672.0,1328.5 1675.0,1329.5 1678.0,1330.4 1681.0,1331.3 1684.0,1332.2 1687.0,1333.1 1690.0,1333.9 1693.0,1334.8 1696.0,1335.6 1699.0,1336.4 1702.0,1337.3 1705.0,1338.1 1708.0,1338.8 1711.0,1339.6 1714.0,1340.4 1717.0,1341.1 1720.0,1341.8 1723.0,1342.6 1726.0,1343.3 1729.0,1344.0 1732.0,1344.7 1735.0,1345.3 1738.0,1346.0 1741.0,1346.6 1744.0,1347.3 1747.0,1347.9 1750.0,1348.5 1753.0,1349.2 1756.0,1349.8 1759.0,1350.3 1762.0,1350.9 1765.0,1351.5 1768.0,1352.1 1771.0,1352.6 1774.0,1353.2 1777.0,1353.7 1780.0,1354.2 1783.0,1354.8 1786.0,1355.3 1789.0,1355.8 1792.0,1356.3 1795.0,1356.8 1798.0,1357.2 1801.0,1357.7 1804.0,1358.2 1807.0,1358.6 1810.0,1359.1 1813.0,1359.5 1816.0,1360.0 1819.0,1360.4 1822.0,1360.8 1825.0,1361.3 1828.0,1361.7 1831.0,1362.1 1834.0,1362.5 1837.0,1362.9 1840.0,1363.3 1843.0,1363.6 1846.0,1364.0 1849.0,1364.4 1852.0,1364.8 1855.0,1365.1 1858.0,1365.5 1861.0,1365.8 1864.0,1366.2 1867.0,1366.5 1870.0,1366.9 1873.0,1367.2 1876.0,1367.5 1879.0,1367.8 1882.0,1368.2 1885.0,1368.5 1888.0,1368.8 1891.0,1369.1 1894.0,1369.4 1897.0,1369.7 1900.0,1370.0 1903.0,1370.3 1906.0,1370.5 1909.0,1370.8 1912.0,1371.1 1915.0,1371.4 1918.0,1371.6 1921.0,1371.9 1924.0,1372.2 1927.0,1372.4 1930.0,1372.7 1933.0,1372.9 1936.0,1373.2 1939.0,1373.4 1942.0,1373.7 1945.0,1373.9 1948.0,1374.1 1951.0,1374.4 1954.0,1374.6 1957.0,1374.8 1960.0,1375.0 1963.0,1375.3 1966.0,1375.5 1969.0,1375.7 1972.0,1375.9 1975.0,1376.1 1978.0,1376.3 1981.0,1376.5 1984.0,1376.7 1987.0,1376.9 1990.0,1377.1 1993.0,1377.3 1996.0,1377.5 1999.0,1377.7 2002.0,1377.9 2005.0,1378.1 2008.0,1378.3 2011.0,1378.5 2014.0,1378.6 2017.0,1378.8 2020.0,1379.0 2023.0,1379.2 2026.0,1379.3 2029.0,1379.5 2032.0,1379.7 2035.0,1379.8 2038.0,1380.0 2041.0,1380.2 2044.0,1380.3 2047.0,1380.5 2050.0,1380.6 2053.0,1380.8 2056.0,1380.9 2059.0,1381.1 2062.0,1381.3 2065.0,1381.4 2068.0,1381.5 2071.0,1381.7 2074.0,1381.8 2077.0,1382.0 2080.0,1382.1 2083.0,1382.3 2086.0,1382.4 2089.0,1382.5 2092.0,1382.7 2095.0,1382.8 2095.5,1382.8 2095.5,1385.7 2095.0,1385.7 2092.0,1385.6 2089.0,1385.5 2086.0,1385.4 2083.0,1385.3 2080.0,1385.2 2077.0,1385.1 2074.0,1385.0 2071.0,1384.9 2068.0,1384.8 2065.0,1384.7 2062.0,1384.5 2059.0,1384.4 2056.0,1384.3 2053.0,1384.2 2050.0,1384.1 2047.0,1384.0 2044.0,1383.9 2041.0,1383.7 2038.0,1383.6 2035.0,1383.5 2032.0,1383.4 2029.0,1383.3 2026.0,1383.1 2023.0,1383.0 2020.0,1382.9 2017.0,1382.8 2014.0,1382.6 2011.0,1382.5 2008.0,1382.4 2005.0,1382.2 2002.0,1382.1 1999.0,1382.0 1996.0,1381.8 1993.0,1381.7 1990.0,1381.5 1987.0,1381.4 1984.0,1381.2 1981.0,1381.1 1978.0,1380.9 1975.0,1380.8 1972.0,1380.6 1969.0,1380.5 1966.0,1380.3 1963.0,1380.2 1960.0,1380.0 1957.0,1379.8 1954.0,1379.7 1951.0,1379.5 1948.0,1379.3 1945.0,1379.2 1942.0,1379.0 1939.0,1378.8 1936.0,1378.6 1933.0,1378.5 1930.0,1378.3 1927.0,1378.1 1924.0,1377.9 1921.0,1377.7 1918.0,1377.5 1915.0,1377.3 1912.0,1377.1 1909.0,1376.9 1906.0,1376.7 1903.0,1376.5 1900.0,1376.3 1897.0,1376.1 1894.0,1375.9 1891.0,1375.6 1888.0,1375.4 1885.0,1375.2 1882.0,1375.0 1879.0,1374.7 1876.0,1374.5 1873.0,1374.3 1870.0,1374.0 1867.0,1373.8 1864.0,1373.5 1861.0,1373.3 1858.0,1373.0 1855.0,1372.8 1852.0,1372.5 1849.0,1372.2 1846.0,1372.0 1843.0,1371.7 1840.0,1371.4 1837.0,1371.1 1834.0,1370.8 1831.0,1370.6 1828.0,1370.3 1825.0,1370.0 1822.0,1369.7 1819.0,1369.3 1816.0,1369.0 1813.0,1368.7 1810.0,1368.4 1807.0,1368.1 1804.0,1367.7 1801.0,1367.4 1798.0,1367.0 1795.0,1366.7 1792.0,1366.3 1789.0,1366.0 1786.0,1365.6 1783.0,1365.2 1780.0,1364.9 1777.0,1364.5 1774.0,1364.1 1771.0,1363.7 1768.0,1363.3 1765.0,1362.9 1762.0,1362.5 1759.0,1362.0 1756.0,1361.6 1753.0,1361.2 1750.0,1360.7 1747.0,1360.3 1744.0,1359.8 1741.0,1359.4 1738.0,1358.9 1735.0,1358.4 1732.0,1357.9 1729.0,1357.4 1726.0,1356.9 1723.0,1356.4 1720.0,1355.9 1717.0,1355.3 1714.0,1354.8 1711.0,1354.2 1708.0,1353.7 1705.0,1353.1 1702.0,1352.5 1699.0,1352.0 1696.0,1351.4 1693.0,1350.8 1690.0,1350.1 1687.0,1349.5 1684.0,1348.9 1681.0,1348.2 1678.0,1347.6 1675.0,1346.9 1672.0,1346.2 1669.0,1345.5 1666.0,1344.8 1663.0,1344.1 1660.0,1343.4 1657.0,1342.6 1654.0,1341.7 1651.0,1340.8 1648.0,1339.8 1645.0,1338.6 1642.0,1337.5 1639.0,1336.2 1636.0,1334.8 1633.0,1333.4 1630.0,1331.9 1627.0,1330.3 1624.0,1328.7 1621.0,1327.0 1618.0,1325.2 1615.0,1323.3 1612.0,1321.4 1609.0,1319.4 1606.0,1317.3 1603.0,1315.2 1600.0,1313.0 1597.0,1310.8 1594.0,1308.5 1591.0,1306.2 1588.0,1303.9 1585.0,1301.5 1582.0,1299.1 1579.0,1296.6 1576.0,1294.2 1573.0,1291.7 1570.0,1289.3 1567.0,1286.8 1564.0,1284.3 1561.0,1281.9 1558.0,1279.4 1555.0,1277.1 1552.0,1274.7 1549.0,1272.4 1546.0,1270.2 1543.0,1268.0 1540.0,1265.9" fill="rgb(200,16,24)" stroke="none"/><use href="#cv5" stroke="rgb(126,19,26)"/><use href="#cv4" stroke="rgb(137,21,28)"/><use href="#cv3" stroke="rgb(225,12,20)"/><use href="#cv2" stroke="rgb(159,24,33)"/><use href="#cv1" stroke="rgb(170,26,35)"/><use href="#cv0" stroke="rgb(181,28,38)"/></g></g><g clip-path="url(#outc)" mask="url(#dm)"><g fill="none" stroke-width="6.3" stroke-linejoin="round" ><use href="#cv16" stroke="rgb(0,0,0)"/><use href="#cv15" stroke="rgb(24,0,0)"/><use href="#cv14" stroke="rgb(43,0,0)"/><use href="#cv13" stroke="rgb(61,0,0)"/><use href="#cv12" stroke="rgb(78,0,0)"/><use href="#cv11" stroke="rgb(94,0,0)"/><use href="#cv10" stroke="rgb(110,0,0)"/><use href="#cv9" stroke="rgb(126,0,0)"/><use href="#cv8" stroke="rgb(141,0,0)"/><use href="#cv7" stroke="rgb(156,0,0)"/><use href="#cv6" stroke="rgb(171,0,0)"/><polygon points="271.0,1374.4 274.0,1374.3 277.0,1374.1 280.0,1374.0 283.0,1373.8 286.0,1373.7 289.0,1373.5 292.0,1373.3 295.0,1373.1 298.0,1372.9 301.0,1372.7 304.0,1372.5 307.0,1372.3 310.0,1372.1 313.0,1371.9 316.0,1371.6 319.0,1371.4 322.0,1371.1 325.0,1370.9 328.0,1370.6 331.0,1370.3 334.0,1370.0 337.0,1369.6 340.0,1369.3 343.0,1369.0 346.0,1368.6 349.0,1368.2 352.0,1367.8 355.0,1367.4 358.0,1367.0 361.0,1366.5 364.0,1366.0 367.0,1365.5 370.0,1365.0 373.0,1364.5 376.0,1363.9 379.0,1363.3 382.0,1362.7 385.0,1362.1 388.0,1361.4 391.0,1360.7 394.0,1360.0 397.0,1359.2 400.0,1358.5 403.0,1357.6 406.0,1356.8 409.0,1355.9 412.0,1354.9 415.0,1354.0 418.0,1353.0 421.0,1351.9 424.0,1350.8 427.0,1349.7 430.0,1348.5 433.0,1347.2 436.0,1345.9 439.0,1344.6 442.0,1343.2 445.0,1341.8 448.0,1340.3 451.0,1338.7 454.0,1337.1 457.0,1335.4 460.0,1333.7 463.0,1331.8 466.0,1330.0 469.0,1328.0 472.0,1326.0 475.0,1323.9 478.0,1321.8 481.0,1319.5 484.0,1317.2 487.0,1314.8 490.0,1312.3 493.0,1309.8 496.0,1307.1 499.0,1304.4 502.0,1301.6 505.0,1298.7 508.0,1295.7 511.0,1292.6 514.0,1289.4 517.0,1286.1 520.0,1282.7 523.0,1279.2 526.0,1275.6 529.0,1271.9 529.0,1271.9 526.0,1275.9 523.0,1279.9 520.0,1284.0 517.0,1288.2 514.0,1292.5 511.0,1296.7 508.0,1300.9 505.0,1305.0 502.0,1309.1 499.0,1313.0 496.0,1316.9 493.0,1320.7 490.0,1324.3 487.0,1327.8 484.0,1331.2 481.0,1334.4 478.0,1337.4 475.0,1340.3 472.0,1343.0 469.0,1345.6 466.0,1348.0 463.0,1350.2 460.0,1352.2 457.0,1354.1 454.0,1355.9 451.0,1357.4 448.0,1358.8 445.0,1360.1 442.0,1361.2 439.0,1362.1 436.0,1363.0 433.0,1363.9 430.0,1364.7 427.0,1365.5 424.0,1366.2 421.0,1366.9 418.0,1367.6 415.0,1368.3 412.0,1369.0 409.0,1369.6 406.0,1370.2 403.0,1370.7 400.0,1371.3 397.0,1371.8 394.0,1372.3 391.0,1372.8 388.0,1373.3 385.0,1373.7 382.0,1374.1 379.0,1374.5 376.0,1374.9 373.0,1375.3 370.0,1375.7 367.0,1376.0 364.0,1376.3 361.0,1376.7 358.0,1377.0 355.0,1377.3 352.0,1377.5 349.0,1377.8 346.0,1378.0 343.0,1378.3 340.0,1378.5 337.0,1378.8 334.0,1379.0 331.0,1379.2 328.0,1379.4 325.0,1379.6 322.0,1379.7 319.0,1379.9 316.0,1380.1 313.0,1380.2 310.0,1380.4 307.0,1380.5 304.0,1380.7 301.0,1380.8 298.0,1380.9 295.0,1381.1 292.0,1381.2 289.0,1381.3 286.0,1381.4 283.0,1381.5 280.0,1381.6 277.0,1381.7 274.0,1381.8 271.0,1381.9" fill="rgb(235,0,0)" stroke="none"/><polygon points="1540.0,1265.9 1543.0,1268.0 1546.0,1269.9 1549.0,1271.9 1552.0,1273.8 1555.0,1275.7 1558.0,1277.5 1561.0,1279.3 1564.0,1281.1 1567.0,1282.9 1570.0,1284.6 1573.0,1286.3 1576.0,1287.9 1579.0,1289.6 1582.0,1291.2 1585.0,1292.8 1588.0,1294.3 1591.0,1295.9 1594.0,1297.4 1597.0,1298.8 1600.0,1300.3 1603.0,1301.7 1606.0,1303.1 1609.0,1304.5 1612.0,1305.8 1615.0,1307.2 1618.0,1308.5 1621.0,1309.8 1624.0,1311.0 1627.0,1312.3 1630.0,1313.5 1633.0,1314.7 1636.0,1315.9 1639.0,1317.0 1642.0,1318.1 1645.0,1319.3 1648.0,1320.4 1651.0,1321.4 1654.0,1322.5 1657.0,1323.6 1660.0,1324.6 1663.0,1325.6 1666.0,1326.6 1669.0,1327.6 1672.0,1328.5 1675.0,1329.5 1678.0,1330.4 1681.0,1331.3 1684.0,1332.2 1687.0,1333.1 1690.0,1333.9 1693.0,1334.8 1696.0,1335.6 1699.0,1336.4 1702.0,1337.3 1705.0,1338.1 1708.0,1338.8 1711.0,1339.6 1714.0,1340.4 1717.0,1341.1 1720.0,1341.8 1723.0,1342.6 1726.0,1343.3 1729.0,1344.0 1732.0,1344.7 1735.0,1345.3 1738.0,1346.0 1741.0,1346.6 1744.0,1347.3 1747.0,1347.9 1750.0,1348.5 1753.0,1349.2 1756.0,1349.8 1759.0,1350.3 1762.0,1350.9 1765.0,1351.5 1768.0,1352.1 1771.0,1352.6 1774.0,1353.2 1777.0,1353.7 1780.0,1354.2 1783.0,1354.8 1786.0,1355.3 1789.0,1355.8 1792.0,1356.3 1795.0,1356.8 1798.0,1357.2 1801.0,1357.7 1804.0,1358.2 1807.0,1358.6 1810.0,1359.1 1813.0,1359.5 1816.0,1360.0 1819.0,1360.4 1822.0,1360.8 1825.0,1361.3 1828.0,1361.7 1831.0,1362.1 1834.0,1362.5 1837.0,1362.9 1840.0,1363.3 1843.0,1363.6 1846.0,1364.0 1849.0,1364.4 1852.0,1364.8 1855.0,1365.1 1858.0,1365.5 1861.0,1365.8 1864.0,1366.2 1867.0,1366.5 1870.0,1366.9 1873.0,1367.2 1876.0,1367.5 1879.0,1367.8 1882.0,1368.2 1885.0,1368.5 1888.0,1368.8 1891.0,1369.1 1894.0,1369.4 1897.0,1369.7 1900.0,1370.0 1903.0,1370.3 1906.0,1370.5 1909.0,1370.8 1912.0,1371.1 1915.0,1371.4 1918.0,1371.6 1921.0,1371.9 1924.0,1372.2 1927.0,1372.4 1930.0,1372.7 1933.0,1372.9 1936.0,1373.2 1939.0,1373.4 1942.0,1373.7 1945.0,1373.9 1948.0,1374.1 1951.0,1374.4 1954.0,1374.6 1957.0,1374.8 1960.0,1375.0 1963.0,1375.3 1966.0,1375.5 1969.0,1375.7 1972.0,1375.9 1975.0,1376.1 1978.0,1376.3 1981.0,1376.5 1984.0,1376.7 1987.0,1376.9 1990.0,1377.1 1993.0,1377.3 1996.0,1377.5 1999.0,1377.7 2002.0,1377.9 2005.0,1378.1 2008.0,1378.3 2011.0,1378.5 2014.0,1378.6 2017.0,1378.8 2020.0,1379.0 2023.0,1379.2 2026.0,1379.3 2029.0,1379.5 2032.0,1379.7 2035.0,1379.8 2038.0,1380.0 2041.0,1380.2 2044.0,1380.3 2047.0,1380.5 2050.0,1380.6 2053.0,1380.8 2056.0,1380.9 2059.0,1381.1 2062.0,1381.3 2065.0,1381.4 2068.0,1381.5 2071.0,1381.7 2074.0,1381.8 2077.0,1382.0 2080.0,1382.1 2083.0,1382.3 2086.0,1382.4 2089.0,1382.5 2092.0,1382.7 2095.0,1382.8 2095.5,1382.8 2095.5,1385.7 2095.0,1385.7 2092.0,1385.6 2089.0,1385.5 2086.0,1385.4 2083.0,1385.3 2080.0,1385.2 2077.0,1385.1 2074.0,1385.0 2071.0,1384.9 2068.0,1384.8 2065.0,1384.7 2062.0,1384.5 2059.0,1384.4 2056.0,1384.3 2053.0,1384.2 2050.0,1384.1 2047.0,1384.0 2044.0,1383.9 2041.0,1383.7 2038.0,1383.6 2035.0,1383.5 2032.0,1383.4 2029.0,1383.3 2026.0,1383.1 2023.0,1383.0 2020.0,1382.9 2017.0,1382.8 2014.0,1382.6 2011.0,1382.5 2008.0,1382.4 2005.0,1382.2 2002.0,1382.1 1999.0,1382.0 1996.0,1381.8 1993.0,1381.7 1990.0,1381.5 1987.0,1381.4 1984.0,1381.2 1981.0,1381.1 1978.0,1380.9 1975.0,1380.8 1972.0,1380.6 1969.0,1380.5 1966.0,1380.3 1963.0,1380.2 1960.0,1380.0 1957.0,1379.8 1954.0,1379.7 1951.0,1379.5 1948.0,1379.3 1945.0,1379.2 1942.0,1379.0 1939.0,1378.8 1936.0,1378.6 1933.0,1378.5 1930.0,1378.3 1927.0,1378.1 1924.0,1377.9 1921.0,1377.7 1918.0,1377.5 1915.0,1377.3 1912.0,1377.1 1909.0,1376.9 1906.0,1376.7 1903.0,1376.5 1900.0,1376.3 1897.0,1376.1 1894.0,1375.9 1891.0,1375.6 1888.0,1375.4 1885.0,1375.2 1882.0,1375.0 1879.0,1374.7 1876.0,1374.5 1873.0,1374.3 1870.0,1374.0 1867.0,1373.8 1864.0,1373.5 1861.0,1373.3 1858.0,1373.0 1855.0,1372.8 1852.0,1372.5 1849.0,1372.2 1846.0,1372.0 1843.0,1371.7 1840.0,1371.4 1837.0,1371.1 1834.0,1370.8 1831.0,1370.6 1828.0,1370.3 1825.0,1370.0 1822.0,1369.7 1819.0,1369.3 1816.0,1369.0 1813.0,1368.7 1810.0,1368.4 1807.0,1368.1 1804.0,1367.7 1801.0,1367.4 1798.0,1367.0 1795.0,1366.7 1792.0,1366.3 1789.0,1366.0 1786.0,1365.6 1783.0,1365.2 1780.0,1364.9 1777.0,1364.5 1774.0,1364.1 1771.0,1363.7 1768.0,1363.3 1765.0,1362.9 1762.0,1362.5 1759.0,1362.0 1756.0,1361.6 1753.0,1361.2 1750.0,1360.7 1747.0,1360.3 1744.0,1359.8 1741.0,1359.4 1738.0,1358.9 1735.0,1358.4 1732.0,1357.9 1729.0,1357.4 1726.0,1356.9 1723.0,1356.4 1720.0,1355.9 1717.0,1355.3 1714.0,1354.8 1711.0,1354.2 1708.0,1353.7 1705.0,1353.1 1702.0,1352.5 1699.0,1352.0 1696.0,1351.4 1693.0,1350.8 1690.0,1350.1 1687.0,1349.5 1684.0,1348.9 1681.0,1348.2 1678.0,1347.6 1675.0,1346.9 1672.0,1346.2 1669.0,1345.5 1666.0,1344.8 1663.0,1344.1 1660.0,1343.4 1657.0,1342.6 1654.0,1341.7 1651.0,1340.8 1648.0,1339.8 1645.0,1338.6 1642.0,1337.5 1639.0,1336.2 1636.0,1334.8 1633.0,1333.4 1630.0,1331.9 1627.0,1330.3 1624.0,1328.7 1621.0,1327.0 1618.0,1325.2 1615.0,1323.3 1612.0,1321.4 1609.0,1319.4 1606.0,1317.3 1603.0,1315.2 1600.0,1313.0 1597.0,1310.8 1594.0,1308.5 1591.0,1306.2 1588.0,1303.9 1585.0,1301.5 1582.0,1299.1 1579.0,1296.6 1576.0,1294.2 1573.0,1291.7 1570.0,1289.3 1567.0,1286.8 1564.0,1284.3 1561.0,1281.9 1558.0,1279.4 1555.0,1277.1 1552.0,1274.7 1549.0,1272.4 1546.0,1270.2 1543.0,1268.0 1540.0,1265.9" fill="rgb(235,0,0)" stroke="none"/><use href="#cv5" stroke="rgb(185,0,0)"/><use href="#cv4" stroke="rgb(199,0,0)"/><use href="#cv3" stroke="rgb(213,0,0)"/><use href="#cv2" stroke="rgb(227,0,0)"/><use href="#cv1" stroke="rgb(241,0,0)"/><use href="#cv0" stroke="rgb(255,0,0)"/></g></g><g clip-path="url(#pc)" ><g fill="none" stroke-width="8.2" stroke-linejoin="round" filter="url(#fcb)"><use href="#cv16" stroke="rgb(0,0,0)"/><use href="#cv15" stroke="rgb(31,0,0)"/><use href="#cv14" stroke="rgb(53,0,0)"/><use href="#cv13" stroke="rgb(72,0,0)"/><use href="#cv12" stroke="rgb(90,0,0)"/><use href="#cv11" stroke="rgb(106,0,0)"/><use href="#cv10" stroke="rgb(122,0,0)"/><use href="#cv9" stroke="rgb(137,0,0)"/><use href="#cv8" stroke="rgb(151,0,0)"/><use href="#cv7" stroke="rgb(165,0,0)"/><use href="#cv6" stroke="rgb(179,0,0)"/><polygon points="271.0,1374.4 274.0,1374.3 277.0,1374.1 280.0,1374.0 283.0,1373.8 286.0,1373.7 289.0,1373.5 292.0,1373.3 295.0,1373.1 298.0,1372.9 301.0,1372.7 304.0,1372.5 307.0,1372.3 310.0,1372.1 313.0,1371.9 316.0,1371.6 319.0,1371.4 322.0,1371.1 325.0,1370.9 328.0,1370.6 331.0,1370.3 334.0,1370.0 337.0,1369.6 340.0,1369.3 343.0,1369.0 346.0,1368.6 349.0,1368.2 352.0,1367.8 355.0,1367.4 358.0,1367.0 361.0,1366.5 364.0,1366.0 367.0,1365.5 370.0,1365.0 373.0,1364.5 376.0,1363.9 379.0,1363.3 382.0,1362.7 385.0,1362.1 388.0,1361.4 391.0,1360.7 394.0,1360.0 397.0,1359.2 400.0,1358.5 403.0,1357.6 406.0,1356.8 409.0,1355.9 412.0,1354.9 415.0,1354.0 418.0,1353.0 421.0,1351.9 424.0,1350.8 427.0,1349.7 430.0,1348.5 433.0,1347.2 436.0,1345.9 439.0,1344.6 442.0,1343.2 445.0,1341.8 448.0,1340.3 451.0,1338.7 454.0,1337.1 457.0,1335.4 460.0,1333.7 463.0,1331.8 466.0,1330.0 469.0,1328.0 472.0,1326.0 475.0,1323.9 478.0,1321.8 481.0,1319.5 484.0,1317.2 487.0,1314.8 490.0,1312.3 493.0,1309.8 496.0,1307.1 499.0,1304.4 502.0,1301.6 505.0,1298.7 508.0,1295.7 511.0,1292.6 514.0,1289.4 517.0,1286.1 520.0,1282.7 523.0,1279.2 526.0,1275.6 529.0,1271.9 529.0,1271.9 526.0,1275.9 523.0,1279.9 520.0,1284.0 517.0,1288.2 514.0,1292.5 511.0,1296.7 508.0,1300.9 505.0,1305.0 502.0,1309.1 499.0,1313.0 496.0,1316.9 493.0,1320.7 490.0,1324.3 487.0,1327.8 484.0,1331.2 481.0,1334.4 478.0,1337.4 475.0,1340.3 472.0,1343.0 469.0,1345.6 466.0,1348.0 463.0,1350.2 460.0,1352.2 457.0,1354.1 454.0,1355.9 451.0,1357.4 448.0,1358.8 445.0,1360.1 442.0,1361.2 439.0,1362.1 436.0,1363.0 433.0,1363.9 430.0,1364.7 427.0,1365.5 424.0,1366.2 421.0,1366.9 418.0,1367.6 415.0,1368.3 412.0,1369.0 409.0,1369.6 406.0,1370.2 403.0,1370.7 400.0,1371.3 397.0,1371.8 394.0,1372.3 391.0,1372.8 388.0,1373.3 385.0,1373.7 382.0,1374.1 379.0,1374.5 376.0,1374.9 373.0,1375.3 370.0,1375.7 367.0,1376.0 364.0,1376.3 361.0,1376.7 358.0,1377.0 355.0,1377.3 352.0,1377.5 349.0,1377.8 346.0,1378.0 343.0,1378.3 340.0,1378.5 337.0,1378.8 334.0,1379.0 331.0,1379.2 328.0,1379.4 325.0,1379.6 322.0,1379.7 319.0,1379.9 316.0,1380.1 313.0,1380.2 310.0,1380.4 307.0,1380.5 304.0,1380.7 301.0,1380.8 298.0,1380.9 295.0,1381.1 292.0,1381.2 289.0,1381.3 286.0,1381.4 283.0,1381.5 280.0,1381.6 277.0,1381.7 274.0,1381.8 271.0,1381.9" fill="rgb(240,0,0)" stroke="none"/><polygon points="1540.0,1265.9 1543.0,1268.0 1546.0,1269.9 1549.0,1271.9 1552.0,1273.8 1555.0,1275.7 1558.0,1277.5 1561.0,1279.3 1564.0,1281.1 1567.0,1282.9 1570.0,1284.6 1573.0,1286.3 1576.0,1287.9 1579.0,1289.6 1582.0,1291.2 1585.0,1292.8 1588.0,1294.3 1591.0,1295.9 1594.0,1297.4 1597.0,1298.8 1600.0,1300.3 1603.0,1301.7 1606.0,1303.1 1609.0,1304.5 1612.0,1305.8 1615.0,1307.2 1618.0,1308.5 1621.0,1309.8 1624.0,1311.0 1627.0,1312.3 1630.0,1313.5 1633.0,1314.7 1636.0,1315.9 1639.0,1317.0 1642.0,1318.1 1645.0,1319.3 1648.0,1320.4 1651.0,1321.4 1654.0,1322.5 1657.0,1323.6 1660.0,1324.6 1663.0,1325.6 1666.0,1326.6 1669.0,1327.6 1672.0,1328.5 1675.0,1329.5 1678.0,1330.4 1681.0,1331.3 1684.0,1332.2 1687.0,1333.1 1690.0,1333.9 1693.0,1334.8 1696.0,1335.6 1699.0,1336.4 1702.0,1337.3 1705.0,1338.1 1708.0,1338.8 1711.0,1339.6 1714.0,1340.4 1717.0,1341.1 1720.0,1341.8 1723.0,1342.6 1726.0,1343.3 1729.0,1344.0 1732.0,1344.7 1735.0,1345.3 1738.0,1346.0 1741.0,1346.6 1744.0,1347.3 1747.0,1347.9 1750.0,1348.5 1753.0,1349.2 1756.0,1349.8 1759.0,1350.3 1762.0,1350.9 1765.0,1351.5 1768.0,1352.1 1771.0,1352.6 1774.0,1353.2 1777.0,1353.7 1780.0,1354.2 1783.0,1354.8 1786.0,1355.3 1789.0,1355.8 1792.0,1356.3 1795.0,1356.8 1798.0,1357.2 1801.0,1357.7 1804.0,1358.2 1807.0,1358.6 1810.0,1359.1 1813.0,1359.5 1816.0,1360.0 1819.0,1360.4 1822.0,1360.8 1825.0,1361.3 1828.0,1361.7 1831.0,1362.1 1834.0,1362.5 1837.0,1362.9 1840.0,1363.3 1843.0,1363.6 1846.0,1364.0 1849.0,1364.4 1852.0,1364.8 1855.0,1365.1 1858.0,1365.5 1861.0,1365.8 1864.0,1366.2 1867.0,1366.5 1870.0,1366.9 1873.0,1367.2 1876.0,1367.5 1879.0,1367.8 1882.0,1368.2 1885.0,1368.5 1888.0,1368.8 1891.0,1369.1 1894.0,1369.4 1897.0,1369.7 1900.0,1370.0 1903.0,1370.3 1906.0,1370.5 1909.0,1370.8 1912.0,1371.1 1915.0,1371.4 1918.0,1371.6 1921.0,1371.9 1924.0,1372.2 1927.0,1372.4 1930.0,1372.7 1933.0,1372.9 1936.0,1373.2 1939.0,1373.4 1942.0,1373.7 1945.0,1373.9 1948.0,1374.1 1951.0,1374.4 1954.0,1374.6 1957.0,1374.8 1960.0,1375.0 1963.0,1375.3 1966.0,1375.5 1969.0,1375.7 1972.0,1375.9 1975.0,1376.1 1978.0,1376.3 1981.0,1376.5 1984.0,1376.7 1987.0,1376.9 1990.0,1377.1 1993.0,1377.3 1996.0,1377.5 1999.0,1377.7 2002.0,1377.9 2005.0,1378.1 2008.0,1378.3 2011.0,1378.5 2014.0,1378.6 2017.0,1378.8 2020.0,1379.0 2023.0,1379.2 2026.0,1379.3 2029.0,1379.5 2032.0,1379.7 2035.0,1379.8 2038.0,1380.0 2041.0,1380.2 2044.0,1380.3 2047.0,1380.5 2050.0,1380.6 2053.0,1380.8 2056.0,1380.9 2059.0,1381.1 2062.0,1381.3 2065.0,1381.4 2068.0,1381.5 2071.0,1381.7 2074.0,1381.8 2077.0,1382.0 2080.0,1382.1 2083.0,1382.3 2086.0,1382.4 2089.0,1382.5 2092.0,1382.7 2095.0,1382.8 2095.5,1382.8 2095.5,1385.7 2095.0,1385.7 2092.0,1385.6 2089.0,1385.5 2086.0,1385.4 2083.0,1385.3 2080.0,1385.2 2077.0,1385.1 2074.0,1385.0 2071.0,1384.9 2068.0,1384.8 2065.0,1384.7 2062.0,1384.5 2059.0,1384.4 2056.0,1384.3 2053.0,1384.2 2050.0,1384.1 2047.0,1384.0 2044.0,1383.9 2041.0,1383.7 2038.0,1383.6 2035.0,1383.5 2032.0,1383.4 2029.0,1383.3 2026.0,1383.1 2023.0,1383.0 2020.0,1382.9 2017.0,1382.8 2014.0,1382.6 2011.0,1382.5 2008.0,1382.4 2005.0,1382.2 2002.0,1382.1 1999.0,1382.0 1996.0,1381.8 1993.0,1381.7 1990.0,1381.5 1987.0,1381.4 1984.0,1381.2 1981.0,1381.1 1978.0,1380.9 1975.0,1380.8 1972.0,1380.6 1969.0,1380.5 1966.0,1380.3 1963.0,1380.2 1960.0,1380.0 1957.0,1379.8 1954.0,1379.7 1951.0,1379.5 1948.0,1379.3 1945.0,1379.2 1942.0,1379.0 1939.0,1378.8 1936.0,1378.6 1933.0,1378.5 1930.0,1378.3 1927.0,1378.1 1924.0,1377.9 1921.0,1377.7 1918.0,1377.5 1915.0,1377.3 1912.0,1377.1 1909.0,1376.9 1906.0,1376.7 1903.0,1376.5 1900.0,1376.3 1897.0,1376.1 1894.0,1375.9 1891.0,1375.6 1888.0,1375.4 1885.0,1375.2 1882.0,1375.0 1879.0,1374.7 1876.0,1374.5 1873.0,1374.3 1870.0,1374.0 1867.0,1373.8 1864.0,1373.5 1861.0,1373.3 1858.0,1373.0 1855.0,1372.8 1852.0,1372.5 1849.0,1372.2 1846.0,1372.0 1843.0,1371.7 1840.0,1371.4 1837.0,1371.1 1834.0,1370.8 1831.0,1370.6 1828.0,1370.3 1825.0,1370.0 1822.0,1369.7 1819.0,1369.3 1816.0,1369.0 1813.0,1368.7 1810.0,1368.4 1807.0,1368.1 1804.0,1367.7 1801.0,1367.4 1798.0,1367.0 1795.0,1366.7 1792.0,1366.3 1789.0,1366.0 1786.0,1365.6 1783.0,1365.2 1780.0,1364.9 1777.0,1364.5 1774.0,1364.1 1771.0,1363.7 1768.0,1363.3 1765.0,1362.9 1762.0,1362.5 1759.0,1362.0 1756.0,1361.6 1753.0,1361.2 1750.0,1360.7 1747.0,1360.3 1744.0,1359.8 1741.0,1359.4 1738.0,1358.9 1735.0,1358.4 1732.0,1357.9 1729.0,1357.4 1726.0,1356.9 1723.0,1356.4 1720.0,1355.9 1717.0,1355.3 1714.0,1354.8 1711.0,1354.2 1708.0,1353.7 1705.0,1353.1 1702.0,1352.5 1699.0,1352.0 1696.0,1351.4 1693.0,1350.8 1690.0,1350.1 1687.0,1349.5 1684.0,1348.9 1681.0,1348.2 1678.0,1347.6 1675.0,1346.9 1672.0,1346.2 1669.0,1345.5 1666.0,1344.8 1663.0,1344.1 1660.0,1343.4 1657.0,1342.6 1654.0,1341.7 1651.0,1340.8 1648.0,1339.8 1645.0,1338.6 1642.0,1337.5 1639.0,1336.2 1636.0,1334.8 1633.0,1333.4 1630.0,1331.9 1627.0,1330.3 1624.0,1328.7 1621.0,1327.0 1618.0,1325.2 1615.0,1323.3 1612.0,1321.4 1609.0,1319.4 1606.0,1317.3 1603.0,1315.2 1600.0,1313.0 1597.0,1310.8 1594.0,1308.5 1591.0,1306.2 1588.0,1303.9 1585.0,1301.5 1582.0,1299.1 1579.0,1296.6 1576.0,1294.2 1573.0,1291.7 1570.0,1289.3 1567.0,1286.8 1564.0,1284.3 1561.0,1281.9 1558.0,1279.4 1555.0,1277.1 1552.0,1274.7 1549.0,1272.4 1546.0,1270.2 1543.0,1268.0 1540.0,1265.9" fill="rgb(240,0,0)" stroke="none"/><use href="#cv5" stroke="rgb(192,0,0)"/><use href="#cv4" stroke="rgb(205,0,0)"/><use href="#cv3" stroke="rgb(255,0,0)"/><use href="#cv2" stroke="rgb(230,0,0)"/><use href="#cv1" stroke="rgb(242,0,0)"/><use href="#cv0" stroke="rgb(255,0,0)"/></g></g>
<!-- white arrow on photo -->
<line x1="531" y1="1239" x2="1846" y2="1239" stroke="#fff" stroke-width="5.5"/>
<polygon points="1842,1226.5 1870,1239 1842,1251.5" fill="#fff"/>
<text x="340" y="1254" class="wh">0.01 µM</text>
<text x="1908" y="1268" class="wh">100 µM</text>
<!-- axes -->
<line x1="271.3" y1="60" x2="271.3" y2="1396.5" stroke="#000" stroke-width="6"/>
<line x1="268" y1="1393.8" x2="2098" y2="1393.8" stroke="#000" stroke-width="5.5"/>
<line x1="245" y1="1393.5" x2="271" y2="1393.5" stroke="#000" stroke-width="5.5"/>
<text transform="translate(231.5,1410.3) scale(0.975,1)" text-anchor="end" class="tl" style="font-size:62.5px">0</text>
<line x1="245" y1="1216.3" x2="271" y2="1216.3" stroke="#000" stroke-width="5.5"/>
<text transform="translate(231.5,1233.1) scale(0.975,1)" text-anchor="end" class="tl" style="font-size:62.5px">50</text>
<line x1="245" y1="1039.1" x2="271" y2="1039.1" stroke="#000" stroke-width="5.5"/>
<text transform="translate(231.5,1055.9) scale(0.975,1)" text-anchor="end" class="tl" style="font-size:62.5px">100</text>
<line x1="245" y1="861.9" x2="271" y2="861.9" stroke="#000" stroke-width="5.5"/>
<text transform="translate(231.5,878.7) scale(0.975,1)" text-anchor="end" class="tl" style="font-size:62.5px">150</text>
<line x1="245" y1="684.6" x2="271" y2="684.6" stroke="#000" stroke-width="5.5"/>
<text transform="translate(231.5,701.4) scale(0.975,1)" text-anchor="end" class="tl" style="font-size:62.5px">200</text>
<line x1="245" y1="507.4" x2="271" y2="507.4" stroke="#000" stroke-width="5.5"/>
<text transform="translate(231.5,524.2) scale(0.975,1)" text-anchor="end" class="tl" style="font-size:62.5px">250</text>
<line x1="245" y1="330.2" x2="271" y2="330.2" stroke="#000" stroke-width="5.5"/>
<text transform="translate(231.5,347.0) scale(0.975,1)" text-anchor="end" class="tl" style="font-size:62.5px">300</text>
<line x1="245" y1="153.0" x2="271" y2="153.0" stroke="#000" stroke-width="5.5"/>
<text transform="translate(231.5,169.8) scale(0.975,1)" text-anchor="end" class="tl" style="font-size:62.5px">350</text>
<line x1="256" y1="1304.9" x2="271" y2="1304.9" stroke="#000" stroke-width="5"/>
<line x1="256" y1="1127.7" x2="271" y2="1127.7" stroke="#000" stroke-width="5"/>
<line x1="256" y1="950.5" x2="271" y2="950.5" stroke="#000" stroke-width="5"/>
<line x1="256" y1="773.2" x2="271" y2="773.2" stroke="#000" stroke-width="5"/>
<line x1="256" y1="596.0" x2="271" y2="596.0" stroke="#000" stroke-width="5"/>
<line x1="256" y1="418.8" x2="271" y2="418.8" stroke="#000" stroke-width="5"/>
<line x1="256" y1="241.6" x2="271" y2="241.6" stroke="#000" stroke-width="5"/>
<line x1="256" y1="64.4" x2="271" y2="64.4" stroke="#000" stroke-width="5"/>
<line x1="271.0" y1="1393" x2="271.0" y2="1420" stroke="#000" stroke-width="5"/>
<text x="271.0" y="1484" text-anchor="middle" class="tl">500</text>
<line x1="879.3" y1="1393" x2="879.3" y2="1420" stroke="#000" stroke-width="5"/>
<text x="879.3" y="1484" text-anchor="middle" class="tl">600</text>
<line x1="1487.6" y1="1393" x2="1487.6" y2="1420" stroke="#000" stroke-width="5"/>
<text x="1487.6" y="1484" text-anchor="middle" class="tl">700</text>
<line x1="2095.9" y1="1393" x2="2095.9" y2="1420" stroke="#000" stroke-width="5"/>
<text x="2095.9" y="1484" text-anchor="middle" class="tl">800</text>
<text transform="translate(109,1248.5) rotate(-90) scale(0.986,1)" class="ti">Fluorescence intensity (a.u.)</text>
<text transform="translate(927.2,1551) scale(0.955,1)" class="ti">Wavelength (nm)</text>
<!-- annotation arrow -->
<line x1="504.2" y1="794.5" x2="504.2" y2="282" stroke="#000" stroke-width="4.6"/>
<polygon points="504.5,256.7 489.5,285.6 519.5,285.6" fill="#000"/>
<text x="443.6" y="245.3" class="an">100 µM</text>
<text transform="translate(453.6,870.6) scale(0.97,1)" class="an" style="font-size:48.7px">0.01 µM</text>
</svg>
</body></html>
